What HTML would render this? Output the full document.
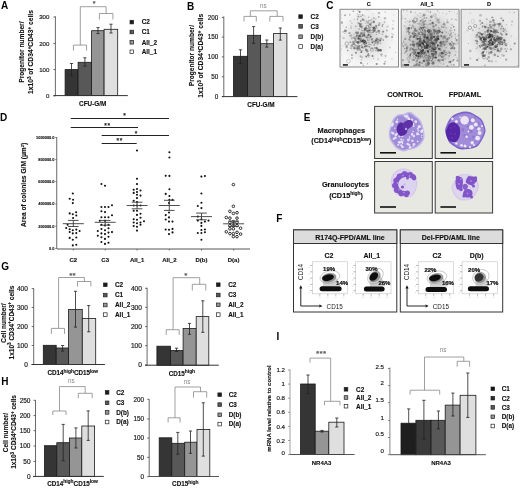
<!DOCTYPE html>
<html><head><meta charset="utf-8"><style>
html,body{margin:0;padding:0;background:#fff;overflow:hidden;}
svg{display:block;font-family:"Liberation Sans", sans-serif;will-change:transform;}
</style></head><body>
<svg width="520" height="488" viewBox="0 0 520 488">
<rect width="520" height="488" fill="#fff"/>
<text x="1.00" y="9.30" font-size="10" font-weight="bold" text-anchor="start" fill="#000" >A</text>
<line x1="55.40" y1="16.30" x2="55.40" y2="95.50" stroke="#444" stroke-width="0.8"/>
<line x1="53.40" y1="17.00" x2="55.40" y2="17.00" stroke="#444" stroke-width="0.8"/>
<text x="49.40" y="19.20" font-size="6.1" font-weight="normal" text-anchor="end" fill="#1a1a1a" stroke="#1a1a1a" stroke-width="0.18">300</text>
<line x1="53.40" y1="43.40" x2="55.40" y2="43.40" stroke="#444" stroke-width="0.8"/>
<text x="49.40" y="45.60" font-size="6.1" font-weight="normal" text-anchor="end" fill="#1a1a1a" stroke="#1a1a1a" stroke-width="0.18">200</text>
<line x1="53.40" y1="69.60" x2="55.40" y2="69.60" stroke="#444" stroke-width="0.8"/>
<text x="49.40" y="71.80" font-size="6.1" font-weight="normal" text-anchor="end" fill="#1a1a1a" stroke="#1a1a1a" stroke-width="0.18">100</text>
<line x1="53.40" y1="95.90" x2="55.40" y2="95.90" stroke="#444" stroke-width="0.8"/>
<text x="49.40" y="98.10" font-size="6.1" font-weight="normal" text-anchor="end" fill="#1a1a1a" stroke="#1a1a1a" stroke-width="0.18">0</text>
<rect x="65.10" y="69.60" width="13.00" height="25.90" fill="#353535" stroke="#1a1a1a" stroke-width="0.8"/>
<rect x="78.10" y="62.30" width="13.50" height="33.20" fill="#585858" stroke="#1a1a1a" stroke-width="0.8"/>
<rect x="91.60" y="30.70" width="12.50" height="64.80" fill="#959595" stroke="#1a1a1a" stroke-width="0.8"/>
<rect x="104.10" y="29.30" width="13.60" height="66.20" fill="#dfdfdf" stroke="#1a1a1a" stroke-width="0.8"/>
<line x1="53.50" y1="95.60" x2="127.80" y2="95.60" stroke="#333" stroke-width="1"/>
<line x1="71.50" y1="63.50" x2="71.50" y2="75.60" stroke="#222" stroke-width="0.8"/>
<line x1="69.90" y1="63.50" x2="73.10" y2="63.50" stroke="#222" stroke-width="0.8"/>
<line x1="69.90" y1="75.60" x2="73.10" y2="75.60" stroke="#222" stroke-width="0.8"/>
<line x1="84.90" y1="57.80" x2="84.90" y2="66.20" stroke="#222" stroke-width="0.8"/>
<line x1="83.30" y1="57.80" x2="86.50" y2="57.80" stroke="#222" stroke-width="0.8"/>
<line x1="83.30" y1="66.20" x2="86.50" y2="66.20" stroke="#222" stroke-width="0.8"/>
<line x1="98.00" y1="27.60" x2="98.00" y2="33.60" stroke="#222" stroke-width="0.8"/>
<line x1="96.40" y1="27.60" x2="99.60" y2="27.60" stroke="#222" stroke-width="0.8"/>
<line x1="96.40" y1="33.60" x2="99.60" y2="33.60" stroke="#222" stroke-width="0.8"/>
<line x1="111.00" y1="24.20" x2="111.00" y2="33.00" stroke="#222" stroke-width="0.8"/>
<line x1="109.40" y1="24.20" x2="112.60" y2="24.20" stroke="#222" stroke-width="0.8"/>
<line x1="109.40" y1="33.00" x2="112.60" y2="33.00" stroke="#222" stroke-width="0.8"/>
<line x1="80.30" y1="6.70" x2="106.10" y2="6.70" stroke="#888" stroke-width="0.8"/>
<line x1="80.30" y1="6.70" x2="80.30" y2="45.10" stroke="#888" stroke-width="0.8"/>
<line x1="106.10" y1="6.70" x2="106.10" y2="13.50" stroke="#888" stroke-width="0.8"/>
<polyline points="73.40,50.50 73.40,45.10 86.60,45.10 86.60,50.50" fill="none" stroke="#888" stroke-width="0.8"/>
<polyline points="99.40,19.50 99.40,13.50 112.90,13.50 112.90,19.50" fill="none" stroke="#888" stroke-width="0.8"/>
<text x="94.10" y="6.47" font-size="7" font-weight="bold" text-anchor="middle" fill="#555"  stroke="#555" stroke-width="0.12">*</text>
<rect x="130.00" y="20.30" width="3.60" height="3.60" fill="#1c1c1c" stroke="#222" stroke-width="0.7"/>
<text x="141.70" y="24.40" font-size="6.4" font-weight="bold" text-anchor="start" fill="#111"  stroke="#111" stroke-width="0.12">C2</text>
<rect x="130.00" y="30.20" width="3.60" height="3.60" fill="#585858" stroke="#222" stroke-width="0.7"/>
<text x="141.70" y="34.30" font-size="6.4" font-weight="bold" text-anchor="start" fill="#111"  stroke="#111" stroke-width="0.12">C1</text>
<rect x="130.00" y="40.50" width="3.60" height="3.60" fill="#959595" stroke="#222" stroke-width="0.7"/>
<text x="141.70" y="44.60" font-size="6.4" font-weight="bold" text-anchor="start" fill="#111"  stroke="#111" stroke-width="0.12">All_2</text>
<rect x="130.00" y="50.00" width="3.60" height="3.60" fill="#fff" stroke="#222" stroke-width="0.7"/>
<text x="141.70" y="54.10" font-size="6.4" font-weight="bold" text-anchor="start" fill="#111"  stroke="#111" stroke-width="0.12">All_1</text>
<text x="92.70" y="106.30" font-size="6.4" font-weight="bold" text-anchor="middle" fill="#111"  stroke="#111" stroke-width="0.12">CFU-G/M</text>
<text x="0" y="0" font-size="6.6" font-weight="bold" text-anchor="middle" fill="#111" stroke="#111" stroke-width="0.12" transform="translate(23.88,52.10) rotate(-90)">Progenitor number/</text>
<text x="0" y="0" font-size="6.7" font-weight="bold" text-anchor="middle" fill="#111" stroke="#111" stroke-width="0.12" transform="translate(33.21,52.05) rotate(-90)">1x10<tspan font-size="4.6" dy="-2.4">3</tspan><tspan dy="2.4"> of CD34</tspan><tspan font-size="4.6" dy="-2.4">+</tspan><tspan dy="2.4">CD43</tspan><tspan font-size="4.6" dy="-2.4">+</tspan><tspan dy="2.4"> cells</tspan></text>
<text x="186.90" y="9.60" font-size="10" font-weight="bold" text-anchor="start" fill="#000" >B</text>
<line x1="223.80" y1="16.40" x2="223.80" y2="96.60" stroke="#444" stroke-width="0.8"/>
<line x1="221.80" y1="17.40" x2="223.80" y2="17.40" stroke="#444" stroke-width="0.8"/>
<text x="218.30" y="19.67" font-size="6.3" font-weight="normal" text-anchor="end" fill="#1a1a1a" stroke="#1a1a1a" stroke-width="0.18">200</text>
<line x1="221.80" y1="37.10" x2="223.80" y2="37.10" stroke="#444" stroke-width="0.8"/>
<text x="218.30" y="39.37" font-size="6.3" font-weight="normal" text-anchor="end" fill="#1a1a1a" stroke="#1a1a1a" stroke-width="0.18">150</text>
<line x1="221.80" y1="56.90" x2="223.80" y2="56.90" stroke="#444" stroke-width="0.8"/>
<text x="218.30" y="59.17" font-size="6.3" font-weight="normal" text-anchor="end" fill="#1a1a1a" stroke="#1a1a1a" stroke-width="0.18">100</text>
<line x1="221.80" y1="76.80" x2="223.80" y2="76.80" stroke="#444" stroke-width="0.8"/>
<text x="218.30" y="79.07" font-size="6.3" font-weight="normal" text-anchor="end" fill="#1a1a1a" stroke="#1a1a1a" stroke-width="0.18">50</text>
<line x1="221.80" y1="96.60" x2="223.80" y2="96.60" stroke="#444" stroke-width="0.8"/>
<text x="218.30" y="98.87" font-size="6.3" font-weight="normal" text-anchor="end" fill="#1a1a1a" stroke="#1a1a1a" stroke-width="0.18">0</text>
<rect x="233.50" y="56.30" width="14.10" height="40.20" fill="#353535" stroke="#1a1a1a" stroke-width="0.8"/>
<rect x="247.60" y="35.30" width="13.00" height="61.20" fill="#585858" stroke="#1a1a1a" stroke-width="0.8"/>
<rect x="260.60" y="43.70" width="13.00" height="52.80" fill="#959595" stroke="#1a1a1a" stroke-width="0.8"/>
<rect x="273.60" y="33.40" width="13.30" height="63.10" fill="#dfdfdf" stroke="#1a1a1a" stroke-width="0.8"/>
<line x1="222.00" y1="96.60" x2="297.40" y2="96.60" stroke="#333" stroke-width="1"/>
<line x1="240.50" y1="49.80" x2="240.50" y2="63.50" stroke="#222" stroke-width="0.8"/>
<line x1="238.90" y1="49.80" x2="242.10" y2="49.80" stroke="#222" stroke-width="0.8"/>
<line x1="238.90" y1="63.50" x2="242.10" y2="63.50" stroke="#222" stroke-width="0.8"/>
<line x1="253.60" y1="26.60" x2="253.60" y2="43.30" stroke="#222" stroke-width="0.8"/>
<line x1="252.00" y1="26.60" x2="255.20" y2="26.60" stroke="#222" stroke-width="0.8"/>
<line x1="252.00" y1="43.30" x2="255.20" y2="43.30" stroke="#222" stroke-width="0.8"/>
<line x1="266.80" y1="40.00" x2="266.80" y2="47.10" stroke="#222" stroke-width="0.8"/>
<line x1="265.20" y1="40.00" x2="268.40" y2="40.00" stroke="#222" stroke-width="0.8"/>
<line x1="265.20" y1="47.10" x2="268.40" y2="47.10" stroke="#222" stroke-width="0.8"/>
<line x1="280.30" y1="28.00" x2="280.30" y2="40.10" stroke="#222" stroke-width="0.8"/>
<line x1="278.70" y1="28.00" x2="281.90" y2="28.00" stroke="#222" stroke-width="0.8"/>
<line x1="278.70" y1="40.10" x2="281.90" y2="40.10" stroke="#222" stroke-width="0.8"/>
<line x1="250.30" y1="10.80" x2="277.20" y2="10.80" stroke="#888" stroke-width="0.8"/>
<line x1="250.30" y1="10.80" x2="250.30" y2="16.40" stroke="#888" stroke-width="0.8"/>
<line x1="277.20" y1="10.80" x2="277.20" y2="16.40" stroke="#888" stroke-width="0.8"/>
<polyline points="244.00,21.50 244.00,16.40 256.30,16.40 256.30,21.50" fill="none" stroke="#888" stroke-width="0.8"/>
<polyline points="269.80,21.50 269.80,16.40 283.00,16.40 283.00,21.50" fill="none" stroke="#888" stroke-width="0.8"/>
<text x="263.40" y="8.19" font-size="6.3" font-weight="normal" text-anchor="middle" fill="#888" >ns</text>
<rect x="298.80" y="14.80" width="3.60" height="3.60" fill="#1c1c1c" stroke="#222" stroke-width="0.7"/>
<text x="310.60" y="18.90" font-size="6.4" font-weight="bold" text-anchor="start" fill="#111"  stroke="#111" stroke-width="0.12">C2</text>
<rect x="298.80" y="24.60" width="3.60" height="3.60" fill="#585858" stroke="#222" stroke-width="0.7"/>
<text x="310.60" y="28.70" font-size="6.4" font-weight="bold" text-anchor="start" fill="#111"  stroke="#111" stroke-width="0.12">C3</text>
<rect x="298.80" y="34.90" width="3.60" height="3.60" fill="#959595" stroke="#222" stroke-width="0.7"/>
<text x="310.60" y="39.00" font-size="6.4" font-weight="bold" text-anchor="start" fill="#111"  stroke="#111" stroke-width="0.12">D(b)</text>
<rect x="298.80" y="44.70" width="3.60" height="3.60" fill="#fff" stroke="#222" stroke-width="0.7"/>
<text x="310.60" y="48.80" font-size="6.4" font-weight="bold" text-anchor="start" fill="#111"  stroke="#111" stroke-width="0.12">D(a)</text>
<text x="261.00" y="107.30" font-size="6.4" font-weight="bold" text-anchor="middle" fill="#111"  stroke="#111" stroke-width="0.12">CFU-G/M</text>
<text x="0" y="0" font-size="6.6" font-weight="bold" text-anchor="middle" fill="#111" stroke="#111" stroke-width="0.12" transform="translate(193.68,55.60) rotate(-90)">Progenitor number/</text>
<text x="0" y="0" font-size="6.7" font-weight="bold" text-anchor="middle" fill="#111" stroke="#111" stroke-width="0.12" transform="translate(202.91,55.80) rotate(-90)">1x10<tspan font-size="4.6" dy="-2.4">3</tspan><tspan dy="2.4"> of CD34</tspan><tspan font-size="4.6" dy="-2.4">+</tspan><tspan dy="2.4">CD43</tspan><tspan font-size="4.6" dy="-2.4">+</tspan><tspan dy="2.4"> cells</tspan></text>
<text x="326.20" y="9.10" font-size="10" font-weight="bold" text-anchor="start" fill="#000" >C</text>
<filter id="bl" x="-5%" y="-5%" width="110%" height="110%"><feGaussianBlur stdDeviation="0.5"/></filter>
<rect x="340" y="9.3" width="58.5" height="57.7" fill="#f5f5f5" stroke="#888" stroke-width="1"/>
<clipPath id="cp11"><rect x="340.5" y="9.8" width="57.5" height="56.7"/></clipPath><g clip-path="url(#cp11)" filter="url(#bl)">
<radialGradient id="rg11"><stop offset="0" stop-color="#888" stop-opacity="0.35"/><stop offset="1" stop-color="#888" stop-opacity="0"/></radialGradient>
<ellipse cx="366.5" cy="37.5" rx="27.599999999999998" ry="27.599999999999998" fill="url(#rg11)"/>
<circle cx="366.6" cy="41.5" r="0.7" fill="rgb(179,179,179)" opacity="0.64"/>
<circle cx="351.7" cy="55.1" r="0.8" fill="rgb(180,180,180)" opacity="0.62"/>
<circle cx="346.3" cy="27.2" r="0.7" fill="rgb(131,131,131)" opacity="0.66"/>
<circle cx="376.8" cy="43.5" r="1.0" fill="rgb(170,170,170)" opacity="0.56"/>
<circle cx="375.8" cy="19.1" r="0.9" fill="rgb(121,121,121)" opacity="0.33"/>
<circle cx="343.0" cy="59.3" r="0.4" fill="rgb(196,196,196)" opacity="0.49"/>
<circle cx="365.9" cy="57.2" r="0.5" fill="rgb(186,186,186)" opacity="0.42"/>
<circle cx="341.3" cy="15.0" r="0.6" fill="rgb(155,155,155)" opacity="0.52"/>
<circle cx="393.6" cy="14.9" r="0.6" fill="rgb(152,152,152)" opacity="0.39"/>
<circle cx="357.3" cy="14.2" r="0.6" fill="rgb(133,133,133)" opacity="0.64"/>
<circle cx="362.8" cy="63.7" r="0.5" fill="rgb(120,120,120)" opacity="0.67"/>
<circle cx="344.0" cy="31.2" r="0.7" fill="rgb(170,170,170)" opacity="0.53"/>
<circle cx="352.2" cy="47.9" r="0.5" fill="rgb(163,163,163)" opacity="0.43"/>
<circle cx="395.5" cy="52.5" r="0.5" fill="rgb(135,135,135)" opacity="0.58"/>
<circle cx="341.6" cy="36.2" r="0.5" fill="rgb(182,182,182)" opacity="0.52"/>
<circle cx="366.3" cy="20.9" r="0.7" fill="rgb(136,136,136)" opacity="0.45"/>
<circle cx="363.3" cy="65.4" r="0.6" fill="rgb(120,120,120)" opacity="0.69"/>
<circle cx="386.4" cy="27.2" r="0.5" fill="rgb(122,122,122)" opacity="0.46"/>
<circle cx="389.3" cy="46.1" r="0.4" fill="rgb(132,132,132)" opacity="0.36"/>
<circle cx="365.9" cy="10.8" r="0.6" fill="rgb(198,198,198)" opacity="0.42"/>
<circle cx="345.1" cy="15.3" r="0.8" fill="rgb(194,194,194)" opacity="0.31"/>
<circle cx="361.8" cy="45.0" r="1.0" fill="rgb(136,136,136)" opacity="0.49"/>
<circle cx="373.5" cy="58.6" r="0.8" fill="rgb(143,143,143)" opacity="0.42"/>
<circle cx="353.9" cy="44.3" r="0.5" fill="rgb(144,144,144)" opacity="0.55"/>
<circle cx="372.3" cy="48.6" r="0.9" fill="rgb(169,169,169)" opacity="0.54"/>
<circle cx="364.8" cy="16.1" r="0.7" fill="rgb(124,124,124)" opacity="0.40"/>
<circle cx="382.8" cy="32.1" r="0.9" fill="rgb(173,173,173)" opacity="0.54"/>
<circle cx="357.6" cy="20.1" r="0.5" fill="rgb(128,128,128)" opacity="0.49"/>
<circle cx="377.9" cy="44.6" r="0.6" fill="rgb(129,129,129)" opacity="0.67"/>
<circle cx="352.5" cy="11.2" r="0.6" fill="rgb(154,154,154)" opacity="0.40"/>
<circle cx="343.6" cy="26.0" r="0.7" fill="rgb(187,187,187)" opacity="0.35"/>
<circle cx="361.5" cy="59.9" r="0.8" fill="rgb(162,162,162)" opacity="0.58"/>
<circle cx="374.0" cy="18.1" r="1.0" fill="rgb(124,124,124)" opacity="0.49"/>
<circle cx="361.2" cy="27.7" r="0.4" fill="rgb(124,124,124)" opacity="0.55"/>
<circle cx="368.2" cy="51.0" r="0.5" fill="rgb(160,160,160)" opacity="0.33"/>
<circle cx="366.6" cy="30.8" r="0.9" fill="rgb(125,125,125)" opacity="0.59"/>
<circle cx="380.8" cy="54.5" r="0.6" fill="rgb(163,163,163)" opacity="0.57"/>
<circle cx="391.9" cy="58.8" r="1.0" fill="rgb(173,173,173)" opacity="0.31"/>
<circle cx="369.2" cy="11.1" r="0.6" fill="rgb(168,168,168)" opacity="0.30"/>
<circle cx="345.1" cy="15.3" r="1.0" fill="rgb(134,134,134)" opacity="0.65"/>
<circle cx="382.1" cy="31.9" r="0.7" fill="rgb(194,194,194)" opacity="0.49"/>
<circle cx="371.6" cy="39.2" r="0.4" fill="rgb(185,185,185)" opacity="0.54"/>
<circle cx="368.2" cy="23.1" r="0.7" fill="rgb(134,134,134)" opacity="0.55"/>
<circle cx="393.0" cy="24.5" r="0.6" fill="rgb(121,121,121)" opacity="0.36"/>
<circle cx="375.6" cy="39.2" r="0.8" fill="rgb(163,163,163)" opacity="0.48"/>
<circle cx="374.8" cy="30.8" r="0.9" fill="rgb(88,88,88)" opacity="0.75"/>
<circle cx="359.6" cy="46.1" r="1.0" fill="rgb(79,79,79)" opacity="0.51"/>
<circle cx="343.6" cy="38.0" r="1.3" fill="rgb(164,164,164)" opacity="0.49"/>
<circle cx="351.1" cy="28.3" r="0.7" fill="rgb(129,129,129)" opacity="0.56"/>
<circle cx="356.1" cy="37.9" r="1.5" fill="none" stroke="rgb(143,143,143)" stroke-width="0.6" opacity="0.39"/>
<circle cx="337.7" cy="39.9" r="1.1" fill="rgb(150,150,150)" opacity="0.64"/>
<circle cx="367.1" cy="35.2" r="0.5" fill="rgb(94,94,94)" opacity="0.76"/>
<circle cx="376.5" cy="39.9" r="1.0" fill="rgb(104,104,104)" opacity="0.57"/>
<circle cx="354.3" cy="19.5" r="0.7" fill="rgb(177,177,177)" opacity="0.59"/>
<circle cx="361.8" cy="51.0" r="1.1" fill="rgb(112,112,112)" opacity="0.44"/>
<circle cx="356.0" cy="52.8" r="1.1" fill="rgb(82,82,82)" opacity="0.55"/>
<circle cx="364.4" cy="41.8" r="1.3" fill="rgb(72,72,72)" opacity="0.71"/>
<circle cx="350.4" cy="42.3" r="1.0" fill="rgb(142,142,142)" opacity="0.79"/>
<circle cx="360.2" cy="50.1" r="1.1" fill="rgb(98,98,98)" opacity="0.45"/>
<circle cx="373.7" cy="21.9" r="1.3" fill="rgb(115,115,115)" opacity="0.84"/>
<circle cx="358.4" cy="16.8" r="0.8" fill="rgb(123,123,123)" opacity="0.80"/>
<circle cx="363.6" cy="41.6" r="1.8" fill="none" stroke="rgb(45,45,45)" stroke-width="0.6" opacity="0.59"/>
<circle cx="372.0" cy="39.1" r="1.2" fill="rgb(72,72,72)" opacity="0.44"/>
<circle cx="368.1" cy="31.1" r="1.1" fill="rgb(107,107,107)" opacity="0.77"/>
<circle cx="378.1" cy="50.7" r="1.3" fill="rgb(108,108,108)" opacity="0.39"/>
<circle cx="356.7" cy="35.8" r="0.9" fill="rgb(90,90,90)" opacity="0.77"/>
<circle cx="349.5" cy="33.1" r="1.2" fill="rgb(147,147,147)" opacity="0.80"/>
<circle cx="385.2" cy="12.1" r="0.7" fill="rgb(126,126,126)" opacity="0.62"/>
<circle cx="364.1" cy="35.3" r="1.3" fill="rgb(70,70,70)" opacity="0.61"/>
<circle cx="371.4" cy="22.9" r="0.6" fill="rgb(67,67,67)" opacity="0.62"/>
<circle cx="367.5" cy="63.7" r="0.7" fill="rgb(129,129,129)" opacity="0.59"/>
<circle cx="346.3" cy="46.4" r="0.8" fill="rgb(162,162,162)" opacity="0.45"/>
<circle cx="358.5" cy="43.1" r="1.2" fill="rgb(88,88,88)" opacity="0.36"/>
<circle cx="369.1" cy="55.6" r="1.0" fill="rgb(110,110,110)" opacity="0.40"/>
<circle cx="376.6" cy="47.8" r="0.7" fill="rgb(135,135,135)" opacity="0.45"/>
<circle cx="355.8" cy="42.0" r="0.6" fill="rgb(70,70,70)" opacity="0.45"/>
<circle cx="374.1" cy="28.0" r="1.2" fill="rgb(75,75,75)" opacity="0.66"/>
<circle cx="368.6" cy="57.1" r="0.8" fill="rgb(151,151,151)" opacity="0.51"/>
<circle cx="342.4" cy="46.0" r="1.3" fill="rgb(215,215,215)" opacity="0.42"/>
<circle cx="365.1" cy="28.3" r="0.9" fill="rgb(140,140,140)" opacity="0.74"/>
<circle cx="379.5" cy="22.6" r="0.5" fill="rgb(153,153,153)" opacity="0.45"/>
<circle cx="393.3" cy="20.8" r="1.1" fill="rgb(191,191,191)" opacity="0.60"/>
<circle cx="375.9" cy="39.2" r="0.6" fill="rgb(106,106,106)" opacity="0.37"/>
<circle cx="351.0" cy="36.1" r="0.7" fill="rgb(125,125,125)" opacity="0.77"/>
<circle cx="372.6" cy="42.3" r="0.6" fill="rgb(83,83,83)" opacity="0.83"/>
<circle cx="367.5" cy="26.9" r="1.5" fill="none" stroke="rgb(63,63,63)" stroke-width="0.6" opacity="0.65"/>
<circle cx="369.5" cy="30.5" r="0.7" fill="rgb(33,33,33)" opacity="0.58"/>
<circle cx="360.0" cy="41.9" r="0.5" fill="rgb(108,108,108)" opacity="0.80"/>
<circle cx="378.9" cy="30.8" r="1.0" fill="rgb(52,52,52)" opacity="0.55"/>
<circle cx="332.3" cy="36.6" r="1.3" fill="rgb(181,181,181)" opacity="0.72"/>
<circle cx="357.8" cy="42.3" r="1.3" fill="rgb(68,68,68)" opacity="0.79"/>
<circle cx="368.7" cy="17.2" r="0.6" fill="rgb(89,89,89)" opacity="0.52"/>
<circle cx="377.2" cy="48.7" r="1.0" fill="rgb(116,116,116)" opacity="0.66"/>
<circle cx="383.2" cy="31.4" r="1.0" fill="rgb(98,98,98)" opacity="0.62"/>
<circle cx="381.5" cy="54.7" r="1.1" fill="rgb(137,137,137)" opacity="0.73"/>
<circle cx="382.9" cy="39.9" r="0.8" fill="rgb(115,115,115)" opacity="0.38"/>
<circle cx="357.3" cy="33.6" r="0.7" fill="rgb(106,106,106)" opacity="0.80"/>
<circle cx="335.2" cy="36.0" r="1.0" fill="rgb(75,75,75)" opacity="0.75"/>
<circle cx="350.3" cy="20.9" r="0.5" fill="rgb(109,109,109)" opacity="0.82"/>
<circle cx="359.3" cy="38.8" r="0.5" fill="rgb(46,46,46)" opacity="0.82"/>
<circle cx="367.0" cy="21.5" r="0.8" fill="rgb(108,108,108)" opacity="0.49"/>
<circle cx="357.4" cy="33.9" r="1.1" fill="none" stroke="rgb(90,90,90)" stroke-width="0.6" opacity="0.47"/>
<circle cx="356.7" cy="48.6" r="0.8" fill="rgb(153,153,153)" opacity="0.80"/>
<circle cx="400.7" cy="48.6" r="1.3" fill="rgb(189,189,189)" opacity="0.56"/>
<circle cx="364.9" cy="46.3" r="0.9" fill="rgb(89,89,89)" opacity="0.82"/>
<circle cx="333.8" cy="44.1" r="0.6" fill="rgb(187,187,187)" opacity="0.66"/>
<circle cx="351.6" cy="38.6" r="0.9" fill="rgb(121,121,121)" opacity="0.41"/>
<circle cx="360.0" cy="26.0" r="0.9" fill="rgb(103,103,103)" opacity="0.74"/>
<circle cx="382.3" cy="67.1" r="1.1" fill="rgb(170,170,170)" opacity="0.47"/>
<circle cx="382.9" cy="24.4" r="0.7" fill="rgb(111,111,111)" opacity="0.69"/>
<circle cx="358.5" cy="23.2" r="1.1" fill="rgb(93,93,93)" opacity="0.44"/>
<circle cx="393.0" cy="34.1" r="0.6" fill="rgb(155,155,155)" opacity="0.49"/>
<circle cx="364.1" cy="33.5" r="1.0" fill="rgb(69,69,69)" opacity="0.39"/>
<circle cx="359.7" cy="23.9" r="0.9" fill="rgb(93,93,93)" opacity="0.46"/>
<circle cx="358.0" cy="36.8" r="0.6" fill="rgb(34,34,34)" opacity="0.41"/>
<circle cx="351.9" cy="23.1" r="0.7" fill="rgb(137,137,137)" opacity="0.75"/>
<circle cx="378.8" cy="17.0" r="0.8" fill="rgb(66,66,66)" opacity="0.62"/>
<circle cx="377.6" cy="31.5" r="1.2" fill="rgb(95,95,95)" opacity="0.39"/>
<circle cx="370.5" cy="24.8" r="1.1" fill="rgb(93,93,93)" opacity="0.50"/>
<circle cx="373.9" cy="41.3" r="0.8" fill="rgb(84,84,84)" opacity="0.71"/>
<circle cx="362.3" cy="36.1" r="0.8" fill="rgb(95,95,95)" opacity="0.71"/>
<circle cx="380.5" cy="50.2" r="1.3" fill="rgb(63,63,63)" opacity="0.81"/>
<circle cx="355.2" cy="40.8" r="0.8" fill="rgb(78,78,78)" opacity="0.55"/>
<circle cx="373.7" cy="31.9" r="0.8" fill="rgb(75,75,75)" opacity="0.55"/>
<circle cx="375.2" cy="42.7" r="1.2" fill="rgb(133,133,133)" opacity="0.62"/>
<circle cx="359.6" cy="34.6" r="0.7" fill="rgb(92,92,92)" opacity="0.36"/>
<circle cx="341.8" cy="22.6" r="1.3" fill="rgb(145,145,145)" opacity="0.68"/>
<circle cx="380.4" cy="43.4" r="0.6" fill="rgb(115,115,115)" opacity="0.72"/>
<circle cx="361.6" cy="52.2" r="0.6" fill="rgb(135,135,135)" opacity="0.72"/>
<circle cx="366.7" cy="46.0" r="1.2" fill="rgb(95,95,95)" opacity="0.55"/>
<circle cx="352.0" cy="55.1" r="0.9" fill="rgb(128,128,128)" opacity="0.62"/>
<circle cx="359.6" cy="11.8" r="1.1" fill="rgb(101,101,101)" opacity="0.78"/>
<circle cx="378.5" cy="50.1" r="1.3" fill="rgb(65,65,65)" opacity="0.67"/>
<circle cx="361.1" cy="16.6" r="0.6" fill="rgb(105,105,105)" opacity="0.72"/>
<circle cx="372.4" cy="32.3" r="0.7" fill="rgb(102,102,102)" opacity="0.56"/>
<circle cx="370.6" cy="36.7" r="1.1" fill="rgb(72,72,72)" opacity="0.74"/>
<circle cx="372.0" cy="49.8" r="1.6" fill="none" stroke="rgb(120,120,120)" stroke-width="0.6" opacity="0.80"/>
<circle cx="372.4" cy="42.3" r="1.1" fill="rgb(93,93,93)" opacity="0.65"/>
<circle cx="375.1" cy="41.4" r="0.6" fill="rgb(117,117,117)" opacity="0.73"/>
<circle cx="345.4" cy="30.9" r="1.3" fill="rgb(111,111,111)" opacity="0.81"/>
<circle cx="367.7" cy="8.7" r="1.5" fill="none" stroke="rgb(134,134,134)" stroke-width="0.6" opacity="0.46"/>
<circle cx="386.9" cy="30.5" r="0.9" fill="rgb(105,105,105)" opacity="0.49"/>
<circle cx="376.2" cy="32.6" r="0.5" fill="rgb(80,80,80)" opacity="0.59"/>
<circle cx="372.0" cy="19.3" r="0.6" fill="rgb(111,111,111)" opacity="0.51"/>
<circle cx="362.2" cy="47.3" r="1.0" fill="rgb(72,72,72)" opacity="0.85"/>
<circle cx="359.8" cy="36.0" r="1.2" fill="rgb(86,86,86)" opacity="0.77"/>
<circle cx="365.9" cy="45.8" r="1.1" fill="rgb(103,103,103)" opacity="0.40"/>
<circle cx="337.1" cy="43.4" r="0.8" fill="rgb(109,109,109)" opacity="0.74"/>
<circle cx="354.2" cy="42.0" r="1.2" fill="rgb(99,99,99)" opacity="0.45"/>
<circle cx="359.6" cy="36.4" r="0.8" fill="rgb(100,100,100)" opacity="0.39"/>
<circle cx="357.5" cy="18.9" r="0.8" fill="rgb(140,140,140)" opacity="0.69"/>
<circle cx="356.0" cy="45.7" r="1.1" fill="rgb(162,162,162)" opacity="0.36"/>
<circle cx="361.8" cy="35.3" r="1.6" fill="none" stroke="rgb(59,59,59)" stroke-width="0.6" opacity="0.58"/>
<circle cx="388.0" cy="36.4" r="0.7" fill="rgb(144,144,144)" opacity="0.54"/>
<circle cx="382.5" cy="34.3" r="0.8" fill="rgb(142,142,142)" opacity="0.68"/>
<circle cx="372.5" cy="56.0" r="1.0" fill="rgb(92,92,92)" opacity="0.71"/>
<circle cx="391.9" cy="40.0" r="0.6" fill="rgb(134,134,134)" opacity="0.40"/>
<circle cx="364.5" cy="30.2" r="1.0" fill="rgb(42,42,42)" opacity="0.40"/>
<circle cx="379.7" cy="40.9" r="0.8" fill="rgb(120,120,120)" opacity="0.39"/>
<circle cx="353.6" cy="43.9" r="1.2" fill="rgb(79,79,79)" opacity="0.54"/>
<circle cx="350.1" cy="35.7" r="0.8" fill="rgb(119,119,119)" opacity="0.70"/>
<circle cx="370.8" cy="20.4" r="0.8" fill="rgb(116,116,116)" opacity="0.52"/>
<circle cx="365.0" cy="46.7" r="0.9" fill="rgb(112,112,112)" opacity="0.74"/>
<circle cx="361.1" cy="33.0" r="1.0" fill="rgb(94,94,94)" opacity="0.53"/>
<circle cx="340.7" cy="49.4" r="1.3" fill="rgb(191,191,191)" opacity="0.61"/>
<circle cx="370.6" cy="30.7" r="0.7" fill="rgb(129,129,129)" opacity="0.39"/>
<circle cx="360.8" cy="21.1" r="0.8" fill="rgb(98,98,98)" opacity="0.81"/>
<circle cx="360.5" cy="38.9" r="1.3" fill="rgb(100,100,100)" opacity="0.62"/>
<circle cx="365.4" cy="28.8" r="1.3" fill="rgb(84,84,84)" opacity="0.85"/>
<circle cx="361.6" cy="33.8" r="1.3" fill="rgb(95,95,95)" opacity="0.47"/>
<circle cx="357.7" cy="41.2" r="1.6" fill="none" stroke="rgb(78,78,78)" stroke-width="0.6" opacity="0.39"/>
<circle cx="381.5" cy="69.5" r="0.8" fill="rgb(215,215,215)" opacity="0.69"/>
<circle cx="360.0" cy="25.7" r="1.2" fill="rgb(134,134,134)" opacity="0.36"/>
<circle cx="360.0" cy="38.8" r="0.6" fill="rgb(56,56,56)" opacity="0.61"/>
<circle cx="376.7" cy="27.7" r="1.0" fill="rgb(98,98,98)" opacity="0.37"/>
<circle cx="385.2" cy="61.5" r="0.8" fill="rgb(133,133,133)" opacity="0.66"/>
<circle cx="358.5" cy="38.5" r="0.9" fill="rgb(40,40,40)" opacity="0.85"/>
<circle cx="374.0" cy="27.8" r="1.3" fill="rgb(68,68,68)" opacity="0.61"/>
<circle cx="372.8" cy="13.8" r="0.8" fill="rgb(169,169,169)" opacity="0.38"/>
<circle cx="382.3" cy="26.1" r="0.8" fill="rgb(85,85,85)" opacity="0.65"/>
<circle cx="355.0" cy="46.8" r="1.5" fill="none" stroke="rgb(134,134,134)" stroke-width="0.6" opacity="0.55"/>
<circle cx="361.5" cy="23.7" r="0.8" fill="rgb(113,113,113)" opacity="0.47"/>
<circle cx="376.7" cy="64.0" r="1.1" fill="rgb(113,113,113)" opacity="0.78"/>
<circle cx="369.4" cy="29.5" r="1.3" fill="rgb(91,91,91)" opacity="0.40"/>
<circle cx="351.0" cy="48.1" r="1.3" fill="rgb(150,150,150)" opacity="0.35"/>
<circle cx="363.3" cy="47.6" r="1.2" fill="rgb(157,157,157)" opacity="0.55"/>
<circle cx="376.3" cy="34.3" r="0.5" fill="rgb(92,92,92)" opacity="0.80"/>
<circle cx="338.5" cy="37.8" r="0.7" fill="rgb(187,187,187)" opacity="0.50"/>
<circle cx="364.6" cy="43.8" r="1.2" fill="rgb(73,73,73)" opacity="0.53"/>
<circle cx="378.1" cy="59.3" r="1.0" fill="rgb(163,163,163)" opacity="0.45"/>
<circle cx="366.3" cy="42.9" r="1.1" fill="rgb(86,86,86)" opacity="0.51"/>
<circle cx="379.4" cy="23.6" r="1.3" fill="rgb(155,155,155)" opacity="0.57"/>
<circle cx="380.4" cy="39.2" r="1.1" fill="rgb(134,134,134)" opacity="0.45"/>
<circle cx="368.1" cy="55.2" r="1.1" fill="rgb(128,128,128)" opacity="0.79"/>
<circle cx="355.3" cy="38.8" r="1.3" fill="rgb(125,125,125)" opacity="0.68"/>
<circle cx="363.2" cy="33.5" r="1.5" fill="none" stroke="rgb(113,113,113)" stroke-width="0.6" opacity="0.62"/>
<circle cx="365.1" cy="29.5" r="0.7" fill="rgb(76,76,76)" opacity="0.75"/>
<circle cx="362.1" cy="57.2" r="1.0" fill="rgb(129,129,129)" opacity="0.44"/>
<circle cx="376.2" cy="40.6" r="0.9" fill="rgb(96,96,96)" opacity="0.73"/>
<circle cx="379.3" cy="31.4" r="1.0" fill="rgb(126,126,126)" opacity="0.53"/>
<circle cx="380.3" cy="40.5" r="0.9" fill="rgb(74,74,74)" opacity="0.77"/>
<circle cx="337.2" cy="33.7" r="0.6" fill="rgb(182,182,182)" opacity="0.65"/>
<circle cx="385.0" cy="18.3" r="1.2" fill="rgb(168,168,168)" opacity="0.75"/>
<circle cx="358.0" cy="38.1" r="0.5" fill="rgb(60,60,60)" opacity="0.65"/>
<circle cx="359.7" cy="15.6" r="1.3" fill="none" stroke="rgb(110,110,110)" stroke-width="0.6" opacity="0.43"/>
<circle cx="353.7" cy="37.8" r="1.2" fill="rgb(83,83,83)" opacity="0.39"/>
<circle cx="369.9" cy="23.9" r="1.2" fill="rgb(93,93,93)" opacity="0.47"/>
<circle cx="365.2" cy="40.8" r="0.9" fill="rgb(59,59,59)" opacity="0.48"/>
<circle cx="381.9" cy="56.4" r="0.6" fill="rgb(171,171,171)" opacity="0.48"/>
<circle cx="358.3" cy="16.4" r="0.8" fill="rgb(139,139,139)" opacity="0.53"/>
<circle cx="362.4" cy="41.0" r="0.9" fill="rgb(80,80,80)" opacity="0.73"/>
<circle cx="374.6" cy="47.9" r="0.7" fill="rgb(106,106,106)" opacity="0.80"/>
<circle cx="363.1" cy="29.6" r="1.5" fill="none" stroke="rgb(107,107,107)" stroke-width="0.6" opacity="0.39"/>
<circle cx="386.9" cy="37.0" r="0.7" fill="rgb(127,127,127)" opacity="0.63"/>
<circle cx="357.9" cy="10.4" r="0.8" fill="rgb(171,171,171)" opacity="0.52"/>
<circle cx="363.9" cy="35.3" r="0.5" fill="rgb(40,40,40)" opacity="0.52"/>
<circle cx="376.4" cy="48.1" r="1.3" fill="rgb(80,80,80)" opacity="0.58"/>
<circle cx="373.0" cy="27.7" r="0.8" fill="rgb(106,106,106)" opacity="0.44"/>
<circle cx="358.3" cy="41.7" r="0.7" fill="rgb(111,111,111)" opacity="0.58"/>
<circle cx="330.6" cy="49.9" r="0.7" fill="rgb(159,159,159)" opacity="0.54"/>
<circle cx="344.9" cy="33.4" r="0.7" fill="rgb(108,108,108)" opacity="0.36"/>
<circle cx="365.6" cy="49.5" r="0.7" fill="rgb(145,145,145)" opacity="0.53"/>
<circle cx="357.7" cy="47.9" r="1.2" fill="rgb(97,97,97)" opacity="0.71"/>
<circle cx="377.0" cy="38.9" r="1.3" fill="rgb(89,89,89)" opacity="0.51"/>
<circle cx="369.8" cy="33.5" r="1.4" fill="none" stroke="rgb(80,80,80)" stroke-width="0.6" opacity="0.47"/>
<circle cx="375.9" cy="50.6" r="0.9" fill="rgb(141,141,141)" opacity="0.62"/>
<circle cx="368.6" cy="35.0" r="1.1" fill="rgb(52,52,52)" opacity="0.68"/>
<circle cx="369.2" cy="46.8" r="0.8" fill="rgb(88,88,88)" opacity="0.78"/>
<circle cx="354.6" cy="34.6" r="1.3" fill="none" stroke="rgb(130,130,130)" stroke-width="0.6" opacity="0.37"/>
<circle cx="355.9" cy="26.2" r="0.8" fill="rgb(143,143,143)" opacity="0.69"/>
<circle cx="336.0" cy="41.4" r="1.1" fill="rgb(207,207,207)" opacity="0.83"/>
<circle cx="368.1" cy="54.4" r="0.8" fill="rgb(145,145,145)" opacity="0.38"/>
<circle cx="373.3" cy="30.9" r="0.7" fill="rgb(126,126,126)" opacity="0.43"/>
<circle cx="359.3" cy="38.6" r="0.6" fill="rgb(76,76,76)" opacity="0.52"/>
<circle cx="358.8" cy="46.8" r="1.1" fill="rgb(135,135,135)" opacity="0.63"/>
<circle cx="378.3" cy="39.2" r="0.8" fill="rgb(95,95,95)" opacity="0.38"/>
<circle cx="369.8" cy="25.9" r="1.4" fill="none" stroke="rgb(85,85,85)" stroke-width="0.6" opacity="0.48"/>
<circle cx="352.0" cy="58.2" r="1.1" fill="rgb(123,123,123)" opacity="0.44"/>
<circle cx="362.7" cy="15.1" r="0.8" fill="rgb(87,87,87)" opacity="0.64"/>
<circle cx="368.8" cy="20.8" r="0.9" fill="rgb(96,96,96)" opacity="0.49"/>
<circle cx="358.0" cy="46.1" r="1.3" fill="rgb(83,83,83)" opacity="0.37"/>
<circle cx="356.2" cy="37.0" r="0.6" fill="rgb(44,44,44)" opacity="0.45"/>
<circle cx="391.8" cy="33.8" r="0.5" fill="rgb(126,126,126)" opacity="0.62"/>
<circle cx="367.4" cy="51.5" r="1.0" fill="rgb(87,87,87)" opacity="0.63"/>
<circle cx="354.3" cy="48.1" r="0.8" fill="rgb(111,111,111)" opacity="0.79"/>
<circle cx="362.6" cy="19.4" r="1.2" fill="rgb(93,93,93)" opacity="0.43"/>
<circle cx="338.0" cy="22.1" r="0.8" fill="rgb(169,169,169)" opacity="0.49"/>
<circle cx="357.9" cy="35.6" r="0.7" fill="rgb(93,93,93)" opacity="0.61"/>
<circle cx="377.1" cy="41.7" r="0.6" fill="rgb(105,105,105)" opacity="0.70"/>
<circle cx="346.8" cy="43.7" r="1.8" fill="none" stroke="rgb(112,112,112)" stroke-width="0.6" opacity="0.78"/>
<circle cx="367.4" cy="37.2" r="1.2" fill="rgb(103,103,103)" opacity="0.55"/>
<circle cx="366.3" cy="56.5" r="1.1" fill="rgb(112,112,112)" opacity="0.77"/>
<circle cx="376.1" cy="26.1" r="1.1" fill="rgb(99,99,99)" opacity="0.66"/>
<circle cx="368.5" cy="31.6" r="1.3" fill="none" stroke="rgb(52,52,52)" stroke-width="0.6" opacity="0.44"/>
<circle cx="379.0" cy="13.0" r="1.3" fill="rgb(115,115,115)" opacity="0.42"/>
<circle cx="351.7" cy="45.7" r="1.3" fill="rgb(63,63,63)" opacity="0.37"/>
<circle cx="383.4" cy="40.1" r="0.7" fill="rgb(125,125,125)" opacity="0.72"/>
<circle cx="374.3" cy="44.9" r="0.9" fill="rgb(136,136,136)" opacity="0.54"/>
<circle cx="369.0" cy="44.6" r="0.7" fill="rgb(34,34,34)" opacity="0.55"/>
<circle cx="369.8" cy="3.9" r="1.0" fill="rgb(136,136,136)" opacity="0.75"/>
<circle cx="378.3" cy="40.1" r="1.3" fill="rgb(116,116,116)" opacity="0.48"/>
<circle cx="374.2" cy="44.8" r="0.6" fill="rgb(137,137,137)" opacity="0.66"/>
<circle cx="368.4" cy="39.4" r="1.4" fill="none" stroke="rgb(107,107,107)" stroke-width="0.6" opacity="0.48"/>
<circle cx="389.8" cy="47.5" r="0.7" fill="rgb(140,140,140)" opacity="0.59"/>
<circle cx="371.0" cy="44.6" r="0.9" fill="rgb(149,149,149)" opacity="0.56"/>
<circle cx="363.2" cy="40.0" r="1.0" fill="rgb(36,36,36)" opacity="0.49"/>
<circle cx="361.0" cy="62.9" r="0.9" fill="rgb(74,74,74)" opacity="0.77"/>
<circle cx="367.8" cy="40.0" r="0.6" fill="rgb(81,81,81)" opacity="0.53"/>
<circle cx="371.8" cy="32.2" r="0.5" fill="rgb(122,122,122)" opacity="0.46"/>
<circle cx="381.2" cy="38.5" r="1.1" fill="rgb(131,131,131)" opacity="0.55"/>
<circle cx="346.7" cy="47.1" r="1.3" fill="rgb(89,89,89)" opacity="0.40"/>
<circle cx="351.2" cy="48.3" r="0.5" fill="rgb(124,124,124)" opacity="0.64"/>
<circle cx="392.8" cy="28.7" r="1.1" fill="rgb(171,171,171)" opacity="0.76"/>
<circle cx="359.2" cy="28.9" r="0.8" fill="rgb(88,88,88)" opacity="0.40"/>
<circle cx="392.1" cy="37.1" r="1.1" fill="rgb(125,125,125)" opacity="0.62"/>
<circle cx="369.0" cy="42.6" r="0.9" fill="rgb(100,100,100)" opacity="0.35"/>
<circle cx="375.2" cy="28.8" r="1.0" fill="rgb(119,119,119)" opacity="0.83"/>
<circle cx="374.2" cy="30.3" r="1.3" fill="rgb(98,98,98)" opacity="0.57"/>
<circle cx="360.8" cy="39.8" r="1.1" fill="rgb(114,114,114)" opacity="0.44"/>
<circle cx="353.6" cy="11.3" r="0.8" fill="rgb(148,148,148)" opacity="0.84"/>
<circle cx="373.4" cy="29.8" r="1.0" fill="rgb(75,75,75)" opacity="0.46"/>
<circle cx="384.5" cy="22.2" r="1.0" fill="rgb(115,115,115)" opacity="0.41"/>
<circle cx="356.2" cy="32.6" r="1.1" fill="rgb(70,70,70)" opacity="0.56"/>
<circle cx="368.5" cy="53.6" r="0.5" fill="rgb(84,84,84)" opacity="0.66"/>
<circle cx="360.1" cy="24.1" r="1.3" fill="rgb(89,89,89)" opacity="0.43"/>
<circle cx="386.1" cy="36.6" r="1.3" fill="rgb(108,108,108)" opacity="0.55"/>
<circle cx="384.6" cy="63.0" r="0.9" fill="rgb(215,215,215)" opacity="0.47"/>
<circle cx="349.8" cy="14.7" r="0.9" fill="rgb(180,180,180)" opacity="0.85"/>
<circle cx="347.7" cy="50.5" r="0.7" fill="rgb(102,102,102)" opacity="0.75"/>
<circle cx="343.1" cy="32.1" r="1.0" fill="rgb(149,149,149)" opacity="0.39"/>
<circle cx="375.7" cy="40.7" r="0.7" fill="rgb(61,61,61)" opacity="0.75"/>
<circle cx="368.5" cy="22.5" r="0.6" fill="rgb(157,157,157)" opacity="0.53"/>
<circle cx="354.5" cy="48.3" r="1.2" fill="rgb(122,122,122)" opacity="0.77"/>
<circle cx="371.5" cy="48.3" r="1.3" fill="rgb(126,126,126)" opacity="0.39"/>
<circle cx="353.0" cy="42.0" r="1.2" fill="rgb(150,150,150)" opacity="0.71"/>
<circle cx="360.3" cy="26.4" r="0.8" fill="rgb(132,132,132)" opacity="0.66"/>
<circle cx="367.6" cy="22.8" r="0.7" fill="rgb(83,83,83)" opacity="0.41"/>
<circle cx="360.3" cy="38.8" r="1.0" fill="rgb(138,138,138)" opacity="0.53"/>
<circle cx="385.5" cy="55.9" r="1.1" fill="rgb(147,147,147)" opacity="0.53"/>
<circle cx="360.8" cy="41.2" r="1.2" fill="rgb(64,64,64)" opacity="0.55"/>
<circle cx="357.2" cy="8.9" r="0.8" fill="rgb(157,157,157)" opacity="0.70"/>
<circle cx="357.9" cy="32.8" r="1.2" fill="rgb(113,113,113)" opacity="0.69"/>
<circle cx="359.4" cy="48.4" r="1.1" fill="rgb(94,94,94)" opacity="0.65"/>
<circle cx="378.0" cy="42.4" r="1.3" fill="rgb(98,98,98)" opacity="0.50"/>
<circle cx="379.2" cy="33.3" r="0.8" fill="rgb(87,87,87)" opacity="0.42"/>
<circle cx="366.4" cy="50.0" r="1.2" fill="rgb(74,74,74)" opacity="0.65"/>
<circle cx="385.2" cy="58.2" r="0.6" fill="rgb(190,190,190)" opacity="0.53"/>
<circle cx="363.5" cy="19.9" r="1.3" fill="rgb(85,85,85)" opacity="0.36"/>
<circle cx="387.8" cy="26.3" r="0.9" fill="rgb(146,146,146)" opacity="0.51"/>
<circle cx="341.4" cy="17.9" r="0.8" fill="rgb(215,215,215)" opacity="0.76"/>
<circle cx="361.0" cy="24.9" r="0.6" fill="rgb(25,25,25)" opacity="0.58"/>
<circle cx="361.8" cy="30.5" r="0.8" fill="rgb(112,112,112)" opacity="0.42"/>
<circle cx="366.0" cy="37.2" r="0.6" fill="rgb(54,54,54)" opacity="0.67"/>
<circle cx="366.0" cy="28.3" r="1.2" fill="rgb(112,112,112)" opacity="0.41"/>
<circle cx="348.5" cy="61.2" r="1.9" fill="none" stroke="rgb(165,165,165)" stroke-width="0.6" opacity="0.80"/>
<circle cx="357.7" cy="49.5" r="1.2" fill="rgb(97,97,97)" opacity="0.50"/>
<circle cx="365.3" cy="48.5" r="0.6" fill="rgb(127,127,127)" opacity="0.39"/>
<circle cx="360.8" cy="57.5" r="0.5" fill="rgb(131,131,131)" opacity="0.46"/>
<circle cx="378.9" cy="25.1" r="1.2" fill="rgb(108,108,108)" opacity="0.40"/>
<circle cx="384.4" cy="63.8" r="1.0" fill="rgb(135,135,135)" opacity="0.78"/>
<circle cx="364.6" cy="36.0" r="0.6" fill="rgb(74,74,74)" opacity="0.76"/>
<circle cx="364.9" cy="30.7" r="0.6" fill="rgb(80,80,80)" opacity="0.50"/>
<circle cx="365.9" cy="23.0" r="0.5" fill="rgb(65,65,65)" opacity="0.56"/>
<circle cx="366.1" cy="43.3" r="0.9" fill="rgb(106,106,106)" opacity="0.68"/>
<circle cx="361.3" cy="52.2" r="0.9" fill="rgb(101,101,101)" opacity="0.80"/>
<circle cx="360.5" cy="56.2" r="0.9" fill="rgb(125,125,125)" opacity="0.59"/>
<circle cx="378.0" cy="25.6" r="0.5" fill="rgb(131,131,131)" opacity="0.77"/>
<circle cx="351.6" cy="34.9" r="0.6" fill="rgb(95,95,95)" opacity="0.54"/>
<circle cx="371.5" cy="28.9" r="1.7" fill="none" stroke="rgb(98,98,98)" stroke-width="0.6" opacity="0.59"/>
<circle cx="340.5" cy="54.8" r="1.3" fill="rgb(204,204,204)" opacity="0.53"/>
<circle cx="367.2" cy="30.6" r="1.0" fill="rgb(105,105,105)" opacity="0.64"/>
<circle cx="352.0" cy="37.7" r="0.6" fill="rgb(111,111,111)" opacity="0.48"/>
<circle cx="362.5" cy="41.1" r="1.2" fill="rgb(51,51,51)" opacity="0.55"/>
<circle cx="364.3" cy="32.9" r="0.8" fill="rgb(137,137,137)" opacity="0.51"/>
<circle cx="364.2" cy="41.6" r="1.1" fill="none" stroke="rgb(38,38,38)" stroke-width="0.6" opacity="0.73"/>
<circle cx="355.7" cy="26.8" r="0.5" fill="rgb(151,151,151)" opacity="0.82"/>
<circle cx="358.9" cy="36.4" r="1.1" fill="rgb(87,87,87)" opacity="0.56"/>
<circle cx="393.1" cy="34.8" r="0.9" fill="rgb(196,196,196)" opacity="0.73"/>
<circle cx="376.0" cy="25.3" r="0.6" fill="rgb(124,124,124)" opacity="0.51"/>
<circle cx="371.9" cy="40.1" r="1.0" fill="rgb(106,106,106)" opacity="0.41"/>
<circle cx="351.1" cy="26.5" r="1.0" fill="rgb(193,193,193)" opacity="0.81"/>
<circle cx="353.7" cy="45.1" r="1.8" fill="none" stroke="rgb(120,120,120)" stroke-width="0.6" opacity="0.59"/>
<circle cx="361.3" cy="26.9" r="1.1" fill="rgb(114,114,114)" opacity="0.81"/>
<circle cx="362.1" cy="26.5" r="1.1" fill="rgb(105,105,105)" opacity="0.43"/>
<circle cx="360.9" cy="40.8" r="0.6" fill="rgb(111,111,111)" opacity="0.52"/>
</g>
<rect x="342.90" y="64.10" width="5.00" height="1.60" fill="#222"/>
<rect x="401.2" y="9.3" width="57.900000000000034" height="57.7" fill="#ebebeb" stroke="#888" stroke-width="1"/>
<clipPath id="cp12"><rect x="401.7" y="9.8" width="56.900000000000034" height="56.7"/></clipPath><g clip-path="url(#cp12)" filter="url(#bl)">
<radialGradient id="rg12"><stop offset="0" stop-color="#666" stop-opacity="0.5"/><stop offset="1" stop-color="#666" stop-opacity="0"/></radialGradient>
<ellipse cx="428" cy="45" rx="34.5" ry="34.5" fill="url(#rg12)"/>
<circle cx="428.7" cy="46.9" r="0.5" fill="rgb(164,164,164)" opacity="0.30"/>
<circle cx="423.1" cy="25.6" r="0.8" fill="rgb(178,178,178)" opacity="0.54"/>
<circle cx="433.4" cy="47.1" r="1.0" fill="rgb(138,138,138)" opacity="0.45"/>
<circle cx="421.2" cy="22.0" r="0.9" fill="rgb(193,193,193)" opacity="0.33"/>
<circle cx="440.6" cy="29.1" r="0.9" fill="rgb(171,171,171)" opacity="0.33"/>
<circle cx="453.6" cy="56.0" r="0.5" fill="rgb(185,185,185)" opacity="0.70"/>
<circle cx="425.9" cy="35.0" r="1.0" fill="rgb(174,174,174)" opacity="0.52"/>
<circle cx="451.5" cy="41.4" r="0.7" fill="rgb(126,126,126)" opacity="0.50"/>
<circle cx="406.9" cy="44.1" r="0.7" fill="rgb(196,196,196)" opacity="0.54"/>
<circle cx="432.5" cy="46.0" r="1.0" fill="rgb(130,130,130)" opacity="0.69"/>
<circle cx="439.3" cy="30.1" r="0.9" fill="rgb(166,166,166)" opacity="0.45"/>
<circle cx="419.5" cy="24.4" r="0.6" fill="rgb(162,162,162)" opacity="0.50"/>
<circle cx="447.5" cy="38.2" r="0.6" fill="rgb(123,123,123)" opacity="0.64"/>
<circle cx="404.0" cy="11.7" r="0.4" fill="rgb(174,174,174)" opacity="0.38"/>
<circle cx="436.1" cy="52.3" r="0.5" fill="rgb(148,148,148)" opacity="0.58"/>
<circle cx="404.3" cy="25.7" r="0.8" fill="rgb(164,164,164)" opacity="0.59"/>
<circle cx="430.9" cy="30.8" r="0.6" fill="rgb(163,163,163)" opacity="0.49"/>
<circle cx="455.8" cy="37.1" r="0.7" fill="rgb(141,141,141)" opacity="0.52"/>
<circle cx="412.4" cy="53.0" r="0.9" fill="rgb(148,148,148)" opacity="0.30"/>
<circle cx="417.2" cy="53.2" r="0.5" fill="rgb(163,163,163)" opacity="0.62"/>
<circle cx="430.2" cy="24.1" r="1.0" fill="rgb(134,134,134)" opacity="0.70"/>
<circle cx="430.4" cy="11.6" r="0.9" fill="rgb(161,161,161)" opacity="0.57"/>
<circle cx="417.8" cy="16.9" r="0.7" fill="rgb(187,187,187)" opacity="0.50"/>
<circle cx="422.0" cy="48.4" r="0.9" fill="rgb(176,176,176)" opacity="0.36"/>
<circle cx="418.5" cy="58.9" r="0.6" fill="rgb(155,155,155)" opacity="0.64"/>
<circle cx="438.0" cy="35.1" r="0.8" fill="rgb(147,147,147)" opacity="0.51"/>
<circle cx="403.8" cy="10.5" r="0.5" fill="rgb(123,123,123)" opacity="0.65"/>
<circle cx="425.7" cy="23.7" r="0.7" fill="rgb(175,175,175)" opacity="0.32"/>
<circle cx="434.1" cy="50.3" r="0.9" fill="rgb(153,153,153)" opacity="0.47"/>
<circle cx="435.1" cy="60.5" r="0.7" fill="rgb(145,145,145)" opacity="0.44"/>
<circle cx="422.8" cy="51.3" r="0.5" fill="rgb(192,192,192)" opacity="0.58"/>
<circle cx="410.9" cy="12.0" r="0.9" fill="rgb(124,124,124)" opacity="0.66"/>
<circle cx="432.1" cy="54.3" r="0.9" fill="rgb(168,168,168)" opacity="0.58"/>
<circle cx="412.8" cy="25.4" r="0.7" fill="rgb(189,189,189)" opacity="0.54"/>
<circle cx="414.0" cy="43.7" r="0.7" fill="rgb(170,170,170)" opacity="0.33"/>
<circle cx="422.1" cy="14.9" r="0.5" fill="rgb(162,162,162)" opacity="0.34"/>
<circle cx="419.7" cy="49.1" r="0.6" fill="rgb(175,175,175)" opacity="0.31"/>
<circle cx="429.5" cy="35.0" r="0.4" fill="rgb(142,142,142)" opacity="0.54"/>
<circle cx="427.7" cy="59.6" r="1.0" fill="rgb(132,132,132)" opacity="0.30"/>
<circle cx="422.3" cy="25.9" r="0.8" fill="rgb(145,145,145)" opacity="0.42"/>
<circle cx="431.1" cy="18.5" r="0.5" fill="rgb(162,162,162)" opacity="0.49"/>
<circle cx="436.1" cy="57.2" r="0.7" fill="rgb(151,151,151)" opacity="0.61"/>
<circle cx="405.0" cy="53.3" r="0.7" fill="rgb(172,172,172)" opacity="0.60"/>
<circle cx="424.3" cy="47.8" r="1.0" fill="rgb(126,126,126)" opacity="0.52"/>
<circle cx="440.3" cy="29.8" r="0.6" fill="rgb(122,122,122)" opacity="0.50"/>
<circle cx="422.4" cy="27.4" r="0.7" fill="rgb(137,137,137)" opacity="0.62"/>
<circle cx="409.7" cy="37.8" r="0.9" fill="rgb(174,174,174)" opacity="0.41"/>
<circle cx="454.5" cy="43.7" r="0.9" fill="rgb(169,169,169)" opacity="0.62"/>
<circle cx="436.1" cy="18.6" r="0.8" fill="rgb(153,153,153)" opacity="0.64"/>
<circle cx="436.2" cy="54.0" r="0.7" fill="rgb(172,172,172)" opacity="0.56"/>
<circle cx="421.2" cy="53.1" r="0.6" fill="rgb(183,183,183)" opacity="0.46"/>
<circle cx="447.3" cy="19.8" r="0.9" fill="rgb(146,146,146)" opacity="0.34"/>
<circle cx="417.2" cy="59.7" r="1.0" fill="rgb(165,165,165)" opacity="0.67"/>
<circle cx="445.3" cy="58.1" r="0.9" fill="rgb(159,159,159)" opacity="0.38"/>
<circle cx="451.4" cy="11.7" r="0.4" fill="rgb(159,159,159)" opacity="0.62"/>
<circle cx="413.1" cy="21.3" r="1.0" fill="rgb(157,157,157)" opacity="0.69"/>
<circle cx="445.4" cy="40.7" r="0.8" fill="rgb(122,122,122)" opacity="0.34"/>
<circle cx="440.5" cy="40.2" r="0.5" fill="rgb(177,177,177)" opacity="0.30"/>
<circle cx="409.3" cy="32.2" r="0.8" fill="rgb(182,182,182)" opacity="0.49"/>
<circle cx="437.6" cy="31.9" r="0.9" fill="rgb(173,173,173)" opacity="0.31"/>
<circle cx="449.4" cy="11.4" r="0.7" fill="rgb(139,139,139)" opacity="0.64"/>
<circle cx="440.8" cy="63.6" r="0.7" fill="rgb(174,174,174)" opacity="0.69"/>
<circle cx="423.2" cy="14.3" r="0.6" fill="rgb(136,136,136)" opacity="0.39"/>
<circle cx="425.8" cy="55.2" r="1.0" fill="rgb(121,121,121)" opacity="0.31"/>
<circle cx="440.6" cy="41.8" r="0.8" fill="rgb(123,123,123)" opacity="0.53"/>
<circle cx="447.1" cy="45.3" r="0.9" fill="rgb(178,178,178)" opacity="0.47"/>
<circle cx="432.6" cy="27.9" r="0.6" fill="rgb(150,150,150)" opacity="0.56"/>
<circle cx="421.1" cy="13.6" r="0.5" fill="rgb(166,166,166)" opacity="0.35"/>
<circle cx="429.3" cy="17.9" r="0.4" fill="rgb(155,155,155)" opacity="0.39"/>
<circle cx="429.2" cy="51.0" r="0.9" fill="rgb(171,171,171)" opacity="0.44"/>
<circle cx="423.5" cy="58.3" r="0.6" fill="rgb(182,182,182)" opacity="0.66"/>
<circle cx="437.7" cy="44.8" r="0.5" fill="rgb(128,128,128)" opacity="0.45"/>
<circle cx="436.4" cy="17.4" r="0.8" fill="rgb(189,189,189)" opacity="0.48"/>
<circle cx="417.8" cy="29.4" r="0.5" fill="rgb(133,133,133)" opacity="0.53"/>
<circle cx="429.7" cy="30.5" r="0.8" fill="rgb(139,139,139)" opacity="0.53"/>
<circle cx="423.4" cy="27.6" r="0.9" fill="rgb(165,165,165)" opacity="0.67"/>
<circle cx="454.9" cy="43.6" r="0.5" fill="rgb(129,129,129)" opacity="0.46"/>
<circle cx="413.7" cy="28.3" r="0.8" fill="rgb(166,166,166)" opacity="0.64"/>
<circle cx="410.1" cy="29.0" r="0.4" fill="rgb(170,170,170)" opacity="0.43"/>
<circle cx="432.2" cy="56.8" r="0.5" fill="rgb(187,187,187)" opacity="0.40"/>
<circle cx="447.5" cy="65.4" r="0.5" fill="rgb(159,159,159)" opacity="0.48"/>
<circle cx="418.0" cy="57.2" r="0.5" fill="rgb(149,149,149)" opacity="0.41"/>
<circle cx="409.0" cy="22.1" r="0.7" fill="rgb(143,143,143)" opacity="0.68"/>
<circle cx="427.8" cy="62.5" r="0.7" fill="rgb(170,170,170)" opacity="0.46"/>
<circle cx="417.5" cy="60.6" r="0.5" fill="rgb(145,145,145)" opacity="0.51"/>
<circle cx="442.8" cy="38.2" r="0.9" fill="rgb(198,198,198)" opacity="0.44"/>
<circle cx="424.5" cy="17.9" r="0.9" fill="rgb(129,129,129)" opacity="0.62"/>
<circle cx="424.0" cy="64.2" r="0.5" fill="rgb(181,181,181)" opacity="0.63"/>
<circle cx="425.7" cy="27.8" r="0.7" fill="rgb(153,153,153)" opacity="0.63"/>
<circle cx="410.1" cy="35.5" r="0.6" fill="rgb(187,187,187)" opacity="0.36"/>
<circle cx="409.0" cy="56.6" r="0.7" fill="rgb(168,168,168)" opacity="0.42"/>
<circle cx="407.4" cy="21.0" r="0.6" fill="rgb(149,149,149)" opacity="0.51"/>
<circle cx="416.5" cy="63.6" r="0.9" fill="rgb(166,166,166)" opacity="0.35"/>
<circle cx="413.8" cy="57.3" r="0.9" fill="rgb(133,133,133)" opacity="0.40"/>
<circle cx="432.0" cy="60.8" r="0.7" fill="rgb(133,133,133)" opacity="0.51"/>
<circle cx="456.1" cy="41.9" r="0.7" fill="rgb(127,127,127)" opacity="0.31"/>
<circle cx="429.8" cy="30.3" r="0.5" fill="rgb(171,171,171)" opacity="0.52"/>
<circle cx="453.1" cy="35.6" r="0.6" fill="rgb(190,190,190)" opacity="0.30"/>
<circle cx="430.4" cy="33.4" r="0.4" fill="rgb(138,138,138)" opacity="0.62"/>
<circle cx="431.7" cy="45.0" r="0.5" fill="rgb(159,159,159)" opacity="0.46"/>
<circle cx="446.9" cy="51.9" r="0.4" fill="rgb(187,187,187)" opacity="0.57"/>
<circle cx="404.7" cy="26.3" r="0.8" fill="rgb(166,166,166)" opacity="0.44"/>
<circle cx="438.8" cy="56.3" r="1.0" fill="rgb(134,134,134)" opacity="0.36"/>
<circle cx="435.9" cy="17.8" r="0.7" fill="rgb(184,184,184)" opacity="0.37"/>
<circle cx="448.4" cy="58.2" r="0.9" fill="rgb(148,148,148)" opacity="0.31"/>
<circle cx="410.3" cy="35.8" r="0.8" fill="rgb(178,178,178)" opacity="0.60"/>
<circle cx="448.3" cy="52.1" r="0.7" fill="rgb(156,156,156)" opacity="0.61"/>
<circle cx="413.7" cy="63.5" r="0.6" fill="rgb(199,199,199)" opacity="0.42"/>
<circle cx="436.5" cy="31.0" r="0.6" fill="rgb(165,165,165)" opacity="0.53"/>
<circle cx="432.3" cy="39.8" r="0.9" fill="rgb(191,191,191)" opacity="0.42"/>
<circle cx="450.9" cy="27.9" r="1.0" fill="rgb(127,127,127)" opacity="0.40"/>
<circle cx="432.7" cy="53.9" r="0.9" fill="rgb(146,146,146)" opacity="0.33"/>
<circle cx="455.8" cy="44.3" r="1.0" fill="rgb(175,175,175)" opacity="0.69"/>
<circle cx="421.2" cy="25.2" r="0.7" fill="rgb(125,125,125)" opacity="0.66"/>
<circle cx="419.9" cy="13.2" r="0.8" fill="rgb(160,160,160)" opacity="0.49"/>
<circle cx="413.6" cy="22.5" r="0.9" fill="rgb(128,128,128)" opacity="0.57"/>
<circle cx="429.8" cy="55.3" r="0.7" fill="rgb(140,140,140)" opacity="0.57"/>
<circle cx="428.4" cy="53.5" r="1.0" fill="rgb(163,163,163)" opacity="0.64"/>
<circle cx="440.1" cy="43.2" r="0.7" fill="rgb(141,141,141)" opacity="0.59"/>
<circle cx="457.3" cy="16.7" r="0.5" fill="rgb(172,172,172)" opacity="0.40"/>
<circle cx="406.1" cy="36.5" r="0.7" fill="rgb(177,177,177)" opacity="0.47"/>
<circle cx="424.1" cy="21.5" r="0.8" fill="rgb(193,193,193)" opacity="0.56"/>
<circle cx="410.3" cy="40.5" r="0.8" fill="rgb(141,141,141)" opacity="0.55"/>
<circle cx="439.3" cy="12.7" r="0.8" fill="rgb(180,180,180)" opacity="0.49"/>
<circle cx="451.9" cy="19.2" r="0.9" fill="rgb(131,131,131)" opacity="0.48"/>
<circle cx="457.8" cy="41.6" r="0.5" fill="rgb(149,149,149)" opacity="0.69"/>
<circle cx="429.9" cy="60.9" r="0.9" fill="rgb(138,138,138)" opacity="0.51"/>
<circle cx="435.4" cy="39.5" r="0.6" fill="rgb(200,200,200)" opacity="0.33"/>
<circle cx="411.3" cy="25.4" r="0.9" fill="rgb(189,189,189)" opacity="0.57"/>
<circle cx="426.0" cy="12.6" r="0.5" fill="rgb(186,186,186)" opacity="0.38"/>
<circle cx="426.5" cy="58.3" r="0.8" fill="rgb(143,143,143)" opacity="0.57"/>
<circle cx="403.2" cy="17.1" r="0.5" fill="rgb(188,188,188)" opacity="0.42"/>
<circle cx="413.8" cy="34.7" r="0.9" fill="rgb(188,188,188)" opacity="0.50"/>
<circle cx="446.5" cy="14.1" r="0.9" fill="rgb(140,140,140)" opacity="0.31"/>
<circle cx="420.9" cy="63.8" r="0.5" fill="rgb(139,139,139)" opacity="0.30"/>
<circle cx="444.7" cy="31.0" r="0.8" fill="rgb(158,158,158)" opacity="0.35"/>
<circle cx="439.0" cy="19.7" r="0.9" fill="rgb(196,196,196)" opacity="0.34"/>
<circle cx="441.4" cy="56.2" r="0.6" fill="rgb(172,172,172)" opacity="0.41"/>
<circle cx="422.4" cy="16.4" r="0.6" fill="rgb(161,161,161)" opacity="0.58"/>
<circle cx="451.7" cy="24.6" r="0.7" fill="rgb(181,181,181)" opacity="0.30"/>
<circle cx="407.0" cy="10.7" r="0.7" fill="rgb(149,149,149)" opacity="0.50"/>
<circle cx="432.2" cy="58.1" r="0.9" fill="rgb(170,170,170)" opacity="0.61"/>
<circle cx="423.8" cy="14.1" r="0.8" fill="rgb(140,140,140)" opacity="0.37"/>
<circle cx="457.5" cy="57.4" r="0.6" fill="rgb(177,177,177)" opacity="0.42"/>
<circle cx="442.9" cy="12.9" r="0.6" fill="rgb(145,145,145)" opacity="0.46"/>
<circle cx="419.7" cy="50.0" r="1.0" fill="rgb(142,142,142)" opacity="0.62"/>
<circle cx="425.3" cy="14.7" r="1.0" fill="rgb(162,162,162)" opacity="0.30"/>
<circle cx="428.0" cy="30.1" r="0.6" fill="rgb(159,159,159)" opacity="0.31"/>
<circle cx="421.0" cy="23.5" r="0.4" fill="rgb(144,144,144)" opacity="0.35"/>
<circle cx="454.1" cy="50.3" r="0.9" fill="rgb(199,199,199)" opacity="0.60"/>
<circle cx="414.9" cy="16.4" r="0.4" fill="rgb(138,138,138)" opacity="0.45"/>
<circle cx="450.1" cy="30.8" r="1.0" fill="rgb(142,142,142)" opacity="0.55"/>
<circle cx="407.3" cy="14.8" r="0.6" fill="rgb(191,191,191)" opacity="0.49"/>
<circle cx="409.9" cy="20.2" r="0.6" fill="rgb(183,183,183)" opacity="0.34"/>
<circle cx="443.5" cy="27.3" r="1.0" fill="rgb(134,134,134)" opacity="0.31"/>
<circle cx="405.4" cy="38.9" r="0.9" fill="rgb(150,150,150)" opacity="0.58"/>
<circle cx="455.4" cy="19.5" r="0.8" fill="rgb(173,173,173)" opacity="0.65"/>
<circle cx="420.5" cy="17.2" r="1.0" fill="rgb(182,182,182)" opacity="0.57"/>
<circle cx="457.2" cy="13.6" r="0.9" fill="rgb(174,174,174)" opacity="0.53"/>
<circle cx="438.4" cy="37.1" r="0.7" fill="rgb(174,174,174)" opacity="0.52"/>
<circle cx="424.8" cy="45.3" r="0.4" fill="rgb(195,195,195)" opacity="0.49"/>
<circle cx="456.5" cy="19.8" r="0.9" fill="rgb(149,149,149)" opacity="0.41"/>
<circle cx="435.4" cy="53.7" r="0.5" fill="rgb(146,146,146)" opacity="0.37"/>
<circle cx="436.8" cy="19.8" r="0.9" fill="rgb(191,191,191)" opacity="0.56"/>
<circle cx="450.9" cy="65.2" r="0.8" fill="rgb(172,172,172)" opacity="0.37"/>
<circle cx="453.1" cy="60.0" r="0.7" fill="rgb(190,190,190)" opacity="0.57"/>
<circle cx="453.9" cy="65.1" r="1.0" fill="rgb(122,122,122)" opacity="0.52"/>
<circle cx="451.1" cy="24.0" r="0.6" fill="rgb(197,197,197)" opacity="0.59"/>
<circle cx="433.7" cy="35.5" r="1.0" fill="rgb(200,200,200)" opacity="0.47"/>
<circle cx="405.9" cy="45.1" r="0.8" fill="rgb(135,135,135)" opacity="0.58"/>
<circle cx="450.6" cy="40.2" r="0.4" fill="rgb(189,189,189)" opacity="0.61"/>
<circle cx="432.0" cy="61.4" r="0.9" fill="rgb(123,123,123)" opacity="0.35"/>
<circle cx="423.7" cy="45.0" r="0.8" fill="rgb(123,123,123)" opacity="0.64"/>
<circle cx="454.4" cy="12.7" r="0.4" fill="rgb(164,164,164)" opacity="0.68"/>
<circle cx="408.0" cy="47.6" r="0.6" fill="rgb(190,190,190)" opacity="0.52"/>
<circle cx="440.5" cy="21.9" r="0.5" fill="rgb(151,151,151)" opacity="0.36"/>
<circle cx="442.8" cy="43.9" r="0.9" fill="rgb(144,144,144)" opacity="0.55"/>
<circle cx="432.4" cy="15.4" r="0.5" fill="rgb(193,193,193)" opacity="0.62"/>
<circle cx="445.3" cy="31.0" r="0.6" fill="rgb(184,184,184)" opacity="0.63"/>
<circle cx="430.0" cy="47.5" r="0.8" fill="rgb(127,127,127)" opacity="0.36"/>
<circle cx="447.5" cy="35.2" r="0.6" fill="rgb(162,162,162)" opacity="0.38"/>
<circle cx="440.7" cy="33.7" r="0.9" fill="rgb(198,198,198)" opacity="0.33"/>
<circle cx="456.5" cy="58.0" r="1.0" fill="rgb(185,185,185)" opacity="0.41"/>
<circle cx="415.1" cy="12.7" r="1.0" fill="rgb(199,199,199)" opacity="0.66"/>
<circle cx="427.1" cy="43.8" r="0.4" fill="rgb(181,181,181)" opacity="0.44"/>
<circle cx="437.6" cy="10.9" r="0.8" fill="rgb(155,155,155)" opacity="0.55"/>
<circle cx="449.6" cy="44.5" r="0.5" fill="rgb(142,142,142)" opacity="0.50"/>
<circle cx="457.8" cy="43.4" r="1.0" fill="rgb(124,124,124)" opacity="0.34"/>
<circle cx="427.6" cy="27.8" r="0.5" fill="rgb(170,170,170)" opacity="0.67"/>
<circle cx="433.9" cy="58.2" r="0.5" fill="rgb(160,160,160)" opacity="0.42"/>
<circle cx="409.8" cy="56.7" r="0.9" fill="rgb(170,170,170)" opacity="0.55"/>
<circle cx="451.4" cy="64.8" r="0.8" fill="rgb(128,128,128)" opacity="0.39"/>
<circle cx="446.4" cy="51.9" r="0.7" fill="rgb(194,194,194)" opacity="0.42"/>
<circle cx="454.4" cy="49.0" r="0.6" fill="rgb(132,132,132)" opacity="0.49"/>
<circle cx="440.0" cy="46.3" r="1.0" fill="rgb(161,161,161)" opacity="0.38"/>
<circle cx="455.3" cy="34.5" r="0.9" fill="rgb(143,143,143)" opacity="0.54"/>
<circle cx="452.2" cy="25.1" r="0.9" fill="rgb(157,157,157)" opacity="0.48"/>
<circle cx="429.9" cy="25.3" r="0.5" fill="rgb(187,187,187)" opacity="0.60"/>
<circle cx="413.2" cy="44.9" r="0.4" fill="rgb(121,121,121)" opacity="0.65"/>
<circle cx="435.9" cy="55.3" r="0.7" fill="rgb(135,135,135)" opacity="0.70"/>
<circle cx="411.9" cy="36.7" r="0.8" fill="rgb(198,198,198)" opacity="0.62"/>
<circle cx="443.5" cy="27.3" r="0.9" fill="rgb(137,137,137)" opacity="0.47"/>
<circle cx="442.4" cy="33.4" r="0.6" fill="rgb(193,193,193)" opacity="0.45"/>
<circle cx="441.9" cy="46.8" r="0.6" fill="rgb(198,198,198)" opacity="0.65"/>
<circle cx="402.9" cy="62.7" r="0.8" fill="rgb(193,193,193)" opacity="0.48"/>
<circle cx="421.4" cy="38.9" r="0.7" fill="rgb(136,136,136)" opacity="0.52"/>
<circle cx="455.4" cy="55.0" r="1.0" fill="rgb(138,138,138)" opacity="0.55"/>
<circle cx="420.0" cy="15.3" r="0.7" fill="rgb(193,193,193)" opacity="0.36"/>
<circle cx="419.1" cy="43.2" r="0.6" fill="rgb(185,185,185)" opacity="0.33"/>
<circle cx="414.8" cy="41.4" r="0.8" fill="rgb(174,174,174)" opacity="0.50"/>
<circle cx="443.5" cy="22.1" r="0.7" fill="rgb(168,168,168)" opacity="0.66"/>
<circle cx="422.0" cy="49.4" r="0.5" fill="rgb(186,186,186)" opacity="0.54"/>
<circle cx="439.0" cy="41.5" r="0.7" fill="rgb(140,140,140)" opacity="0.35"/>
<circle cx="428.9" cy="12.1" r="0.5" fill="rgb(185,185,185)" opacity="0.50"/>
<circle cx="425.9" cy="45.9" r="0.9" fill="rgb(148,148,148)" opacity="0.67"/>
<circle cx="442.9" cy="36.2" r="0.8" fill="rgb(197,197,197)" opacity="0.46"/>
<circle cx="448.3" cy="42.3" r="1.0" fill="rgb(194,194,194)" opacity="0.35"/>
<circle cx="430.3" cy="12.6" r="0.5" fill="rgb(114,114,114)" opacity="0.80"/>
<circle cx="435.7" cy="51.5" r="0.9" fill="rgb(81,81,81)" opacity="0.69"/>
<circle cx="424.4" cy="39.0" r="1.2" fill="rgb(127,127,127)" opacity="0.80"/>
<circle cx="415.1" cy="34.6" r="1.1" fill="none" stroke="rgb(50,50,50)" stroke-width="0.6" opacity="0.84"/>
<circle cx="410.6" cy="53.8" r="0.9" fill="rgb(77,77,77)" opacity="0.51"/>
<circle cx="427.1" cy="58.5" r="1.7" fill="none" stroke="rgb(94,94,94)" stroke-width="0.6" opacity="0.58"/>
<circle cx="394.7" cy="53.7" r="0.8" fill="rgb(94,94,94)" opacity="0.84"/>
<circle cx="424.6" cy="52.8" r="1.2" fill="rgb(37,37,37)" opacity="0.55"/>
<circle cx="460.0" cy="42.6" r="0.8" fill="rgb(160,160,160)" opacity="0.80"/>
<circle cx="420.2" cy="28.8" r="1.1" fill="none" stroke="rgb(79,79,79)" stroke-width="0.6" opacity="0.63"/>
<circle cx="417.5" cy="43.2" r="0.8" fill="rgb(68,68,68)" opacity="0.74"/>
<circle cx="422.5" cy="74.1" r="0.5" fill="rgb(194,194,194)" opacity="0.56"/>
<circle cx="409.0" cy="34.4" r="0.9" fill="rgb(121,121,121)" opacity="0.48"/>
<circle cx="424.1" cy="24.4" r="1.2" fill="rgb(117,117,117)" opacity="0.60"/>
<circle cx="419.5" cy="41.8" r="0.9" fill="rgb(103,103,103)" opacity="0.77"/>
<circle cx="420.2" cy="68.5" r="1.0" fill="rgb(117,117,117)" opacity="0.56"/>
<circle cx="426.4" cy="43.5" r="0.8" fill="rgb(25,25,25)" opacity="0.76"/>
<circle cx="419.4" cy="54.4" r="1.1" fill="rgb(70,70,70)" opacity="0.63"/>
<circle cx="426.1" cy="51.2" r="0.8" fill="rgb(83,83,83)" opacity="0.48"/>
<circle cx="417.7" cy="14.9" r="0.6" fill="rgb(137,137,137)" opacity="0.52"/>
<circle cx="429.5" cy="39.8" r="1.3" fill="rgb(25,25,25)" opacity="0.51"/>
<circle cx="443.6" cy="42.3" r="1.3" fill="rgb(104,104,104)" opacity="0.41"/>
<circle cx="400.0" cy="53.8" r="1.7" fill="none" stroke="rgb(65,65,65)" stroke-width="0.6" opacity="0.44"/>
<circle cx="432.8" cy="54.8" r="0.6" fill="rgb(118,118,118)" opacity="0.39"/>
<circle cx="440.1" cy="49.2" r="1.2" fill="rgb(72,72,72)" opacity="0.48"/>
<circle cx="420.1" cy="20.9" r="0.5" fill="rgb(152,152,152)" opacity="0.76"/>
<circle cx="446.8" cy="41.5" r="1.1" fill="rgb(103,103,103)" opacity="0.69"/>
<circle cx="410.0" cy="56.4" r="1.3" fill="none" stroke="rgb(170,170,170)" stroke-width="0.6" opacity="0.47"/>
<circle cx="422.0" cy="19.3" r="0.6" fill="rgb(179,179,179)" opacity="0.60"/>
<circle cx="434.9" cy="44.8" r="0.9" fill="rgb(99,99,99)" opacity="0.74"/>
<circle cx="432.5" cy="85.9" r="1.3" fill="rgb(157,157,157)" opacity="0.81"/>
<circle cx="435.0" cy="15.0" r="1.4" fill="none" stroke="rgb(121,121,121)" stroke-width="0.6" opacity="0.52"/>
<circle cx="442.1" cy="59.9" r="0.9" fill="rgb(47,47,47)" opacity="0.49"/>
<circle cx="428.6" cy="56.0" r="1.1" fill="rgb(109,109,109)" opacity="0.44"/>
<circle cx="451.2" cy="44.7" r="0.6" fill="rgb(95,95,95)" opacity="0.40"/>
<circle cx="447.7" cy="39.4" r="1.0" fill="rgb(66,66,66)" opacity="0.53"/>
<circle cx="400.1" cy="42.4" r="1.2" fill="rgb(123,123,123)" opacity="0.52"/>
<circle cx="414.5" cy="65.4" r="1.0" fill="rgb(55,55,55)" opacity="0.45"/>
<circle cx="434.2" cy="33.7" r="0.9" fill="rgb(111,111,111)" opacity="0.72"/>
<circle cx="443.7" cy="7.6" r="0.6" fill="rgb(152,152,152)" opacity="0.54"/>
<circle cx="433.7" cy="51.1" r="0.6" fill="rgb(61,61,61)" opacity="0.67"/>
<circle cx="445.4" cy="35.9" r="1.1" fill="rgb(160,160,160)" opacity="0.57"/>
<circle cx="406.4" cy="43.7" r="0.5" fill="rgb(112,112,112)" opacity="0.43"/>
<circle cx="406.0" cy="27.8" r="0.6" fill="rgb(115,115,115)" opacity="0.74"/>
<circle cx="423.6" cy="56.1" r="1.5" fill="none" stroke="rgb(108,108,108)" stroke-width="0.6" opacity="0.57"/>
<circle cx="433.7" cy="54.0" r="1.2" fill="rgb(94,94,94)" opacity="0.83"/>
<circle cx="413.8" cy="45.6" r="1.0" fill="rgb(130,130,130)" opacity="0.70"/>
<circle cx="412.6" cy="33.6" r="1.1" fill="rgb(99,99,99)" opacity="0.82"/>
<circle cx="409.0" cy="61.9" r="1.2" fill="rgb(122,122,122)" opacity="0.47"/>
<circle cx="423.4" cy="60.9" r="0.9" fill="rgb(107,107,107)" opacity="0.44"/>
<circle cx="441.6" cy="76.7" r="0.5" fill="rgb(169,169,169)" opacity="0.38"/>
<circle cx="427.9" cy="29.1" r="0.8" fill="rgb(136,136,136)" opacity="0.48"/>
<circle cx="453.5" cy="43.7" r="0.9" fill="rgb(110,110,110)" opacity="0.73"/>
<circle cx="418.4" cy="42.6" r="1.2" fill="rgb(107,107,107)" opacity="0.38"/>
<circle cx="423.1" cy="27.6" r="0.8" fill="rgb(36,36,36)" opacity="0.73"/>
<circle cx="416.9" cy="44.6" r="1.1" fill="rgb(71,71,71)" opacity="0.54"/>
<circle cx="437.9" cy="38.6" r="0.6" fill="rgb(59,59,59)" opacity="0.50"/>
<circle cx="430.8" cy="29.0" r="0.6" fill="rgb(58,58,58)" opacity="0.49"/>
<circle cx="403.7" cy="41.2" r="0.5" fill="rgb(86,86,86)" opacity="0.77"/>
<circle cx="431.7" cy="42.7" r="1.0" fill="rgb(45,45,45)" opacity="0.69"/>
<circle cx="405.5" cy="67.0" r="1.1" fill="none" stroke="rgb(131,131,131)" stroke-width="0.6" opacity="0.36"/>
<circle cx="448.5" cy="33.4" r="1.0" fill="rgb(179,179,179)" opacity="0.59"/>
<circle cx="420.6" cy="42.2" r="0.7" fill="rgb(99,99,99)" opacity="0.74"/>
<circle cx="433.5" cy="37.3" r="0.8" fill="rgb(60,60,60)" opacity="0.41"/>
<circle cx="450.3" cy="44.0" r="1.3" fill="rgb(89,89,89)" opacity="0.76"/>
<circle cx="446.1" cy="47.7" r="0.6" fill="rgb(109,109,109)" opacity="0.76"/>
<circle cx="420.6" cy="22.1" r="0.5" fill="rgb(141,141,141)" opacity="0.37"/>
<circle cx="443.2" cy="60.5" r="0.8" fill="rgb(111,111,111)" opacity="0.78"/>
<circle cx="434.3" cy="66.8" r="1.3" fill="rgb(159,159,159)" opacity="0.85"/>
<circle cx="462.5" cy="49.2" r="1.1" fill="rgb(161,161,161)" opacity="0.57"/>
<circle cx="432.9" cy="63.8" r="1.2" fill="rgb(119,119,119)" opacity="0.42"/>
<circle cx="418.2" cy="55.8" r="0.6" fill="rgb(97,97,97)" opacity="0.45"/>
<circle cx="438.4" cy="19.6" r="1.3" fill="rgb(143,143,143)" opacity="0.56"/>
<circle cx="422.2" cy="42.9" r="0.7" fill="rgb(47,47,47)" opacity="0.57"/>
<circle cx="424.0" cy="15.2" r="1.2" fill="rgb(126,126,126)" opacity="0.73"/>
<circle cx="424.0" cy="58.2" r="0.8" fill="rgb(154,154,154)" opacity="0.63"/>
<circle cx="427.9" cy="60.7" r="1.0" fill="rgb(73,73,73)" opacity="0.56"/>
<circle cx="423.5" cy="37.1" r="0.5" fill="rgb(57,57,57)" opacity="0.47"/>
<circle cx="423.8" cy="41.2" r="1.3" fill="rgb(78,78,78)" opacity="0.36"/>
<circle cx="424.1" cy="33.5" r="0.6" fill="rgb(124,124,124)" opacity="0.45"/>
<circle cx="432.4" cy="42.5" r="0.8" fill="rgb(90,90,90)" opacity="0.69"/>
<circle cx="435.9" cy="36.1" r="0.7" fill="rgb(65,65,65)" opacity="0.38"/>
<circle cx="447.5" cy="22.2" r="1.2" fill="rgb(116,116,116)" opacity="0.47"/>
<circle cx="435.7" cy="47.6" r="0.8" fill="rgb(71,71,71)" opacity="0.45"/>
<circle cx="462.7" cy="30.0" r="0.8" fill="rgb(152,152,152)" opacity="0.72"/>
<circle cx="398.9" cy="56.8" r="1.2" fill="rgb(118,118,118)" opacity="0.44"/>
<circle cx="451.4" cy="37.0" r="0.8" fill="rgb(118,118,118)" opacity="0.63"/>
<circle cx="418.5" cy="46.4" r="1.1" fill="rgb(116,116,116)" opacity="0.69"/>
<circle cx="439.5" cy="53.3" r="0.9" fill="rgb(104,104,104)" opacity="0.37"/>
<circle cx="446.1" cy="53.5" r="1.3" fill="none" stroke="rgb(95,95,95)" stroke-width="0.6" opacity="0.83"/>
<circle cx="435.7" cy="57.1" r="0.9" fill="rgb(96,96,96)" opacity="0.73"/>
<circle cx="423.7" cy="24.7" r="1.1" fill="rgb(123,123,123)" opacity="0.59"/>
<circle cx="409.7" cy="25.0" r="0.9" fill="rgb(159,159,159)" opacity="0.43"/>
<circle cx="440.4" cy="70.3" r="1.0" fill="rgb(149,149,149)" opacity="0.57"/>
<circle cx="435.1" cy="31.7" r="0.7" fill="rgb(132,132,132)" opacity="0.65"/>
<circle cx="432.1" cy="53.9" r="0.7" fill="rgb(25,25,25)" opacity="0.76"/>
<circle cx="440.0" cy="60.1" r="0.8" fill="rgb(106,106,106)" opacity="0.73"/>
<circle cx="443.0" cy="53.3" r="0.7" fill="rgb(83,83,83)" opacity="0.77"/>
<circle cx="441.3" cy="56.7" r="0.8" fill="rgb(103,103,103)" opacity="0.43"/>
<circle cx="449.2" cy="51.7" r="0.7" fill="rgb(100,100,100)" opacity="0.60"/>
<circle cx="443.6" cy="41.2" r="0.7" fill="rgb(113,113,113)" opacity="0.48"/>
<circle cx="432.5" cy="55.9" r="1.0" fill="rgb(64,64,64)" opacity="0.83"/>
<circle cx="405.9" cy="65.8" r="1.2" fill="rgb(118,118,118)" opacity="0.47"/>
<circle cx="414.0" cy="46.4" r="1.2" fill="rgb(117,117,117)" opacity="0.48"/>
<circle cx="448.9" cy="62.0" r="0.8" fill="rgb(49,49,49)" opacity="0.42"/>
<circle cx="427.6" cy="45.2" r="1.2" fill="rgb(25,25,25)" opacity="0.82"/>
<circle cx="452.6" cy="60.8" r="1.0" fill="rgb(157,157,157)" opacity="0.74"/>
<circle cx="414.8" cy="82.3" r="0.9" fill="rgb(164,164,164)" opacity="0.52"/>
<circle cx="441.4" cy="36.0" r="0.9" fill="rgb(90,90,90)" opacity="0.60"/>
<circle cx="370.1" cy="60.6" r="0.7" fill="rgb(215,215,215)" opacity="0.51"/>
<circle cx="457.6" cy="60.5" r="1.2" fill="rgb(126,126,126)" opacity="0.65"/>
<circle cx="394.4" cy="72.2" r="1.2" fill="rgb(202,202,202)" opacity="0.51"/>
<circle cx="441.1" cy="42.1" r="1.1" fill="rgb(99,99,99)" opacity="0.76"/>
<circle cx="437.6" cy="36.3" r="1.1" fill="rgb(51,51,51)" opacity="0.43"/>
<circle cx="433.6" cy="49.3" r="1.1" fill="rgb(25,25,25)" opacity="0.78"/>
<circle cx="408.7" cy="28.4" r="1.3" fill="rgb(60,60,60)" opacity="0.77"/>
<circle cx="424.1" cy="60.9" r="1.3" fill="rgb(64,64,64)" opacity="0.67"/>
<circle cx="423.2" cy="49.4" r="0.7" fill="rgb(71,71,71)" opacity="0.84"/>
<circle cx="421.2" cy="51.3" r="1.2" fill="rgb(61,61,61)" opacity="0.83"/>
<circle cx="413.7" cy="37.0" r="1.3" fill="rgb(136,136,136)" opacity="0.56"/>
<circle cx="447.5" cy="43.8" r="0.6" fill="rgb(142,142,142)" opacity="0.37"/>
<circle cx="429.4" cy="45.5" r="1.9" fill="none" stroke="rgb(28,28,28)" stroke-width="0.6" opacity="0.46"/>
<circle cx="444.3" cy="51.1" r="1.3" fill="rgb(96,96,96)" opacity="0.59"/>
<circle cx="450.1" cy="63.0" r="0.7" fill="rgb(159,159,159)" opacity="0.78"/>
<circle cx="418.5" cy="56.5" r="0.9" fill="rgb(98,98,98)" opacity="0.42"/>
<circle cx="451.9" cy="36.2" r="0.6" fill="rgb(136,136,136)" opacity="0.63"/>
<circle cx="450.9" cy="45.6" r="1.2" fill="rgb(124,124,124)" opacity="0.50"/>
<circle cx="444.7" cy="55.9" r="0.5" fill="rgb(119,119,119)" opacity="0.43"/>
<circle cx="451.0" cy="33.4" r="1.0" fill="rgb(128,128,128)" opacity="0.49"/>
<circle cx="448.0" cy="67.5" r="0.8" fill="rgb(78,78,78)" opacity="0.40"/>
<circle cx="429.7" cy="49.5" r="0.7" fill="rgb(87,87,87)" opacity="0.68"/>
<circle cx="427.4" cy="39.5" r="1.3" fill="rgb(54,54,54)" opacity="0.53"/>
<circle cx="430.6" cy="34.5" r="0.9" fill="rgb(61,61,61)" opacity="0.73"/>
<circle cx="433.4" cy="62.7" r="1.2" fill="rgb(101,101,101)" opacity="0.58"/>
<circle cx="422.7" cy="42.7" r="0.7" fill="rgb(74,74,74)" opacity="0.48"/>
<circle cx="435.2" cy="49.1" r="0.7" fill="rgb(71,71,71)" opacity="0.38"/>
<circle cx="442.2" cy="32.4" r="1.0" fill="rgb(62,62,62)" opacity="0.71"/>
<circle cx="444.8" cy="44.6" r="0.8" fill="rgb(109,109,109)" opacity="0.45"/>
<circle cx="431.1" cy="40.5" r="0.9" fill="rgb(35,35,35)" opacity="0.47"/>
<circle cx="419.2" cy="52.9" r="1.2" fill="rgb(36,36,36)" opacity="0.81"/>
<circle cx="432.5" cy="23.2" r="1.4" fill="none" stroke="rgb(137,137,137)" stroke-width="0.6" opacity="0.74"/>
<circle cx="430.4" cy="42.9" r="0.6" fill="rgb(32,32,32)" opacity="0.54"/>
<circle cx="422.5" cy="34.8" r="0.8" fill="rgb(86,86,86)" opacity="0.74"/>
<circle cx="455.4" cy="38.4" r="0.7" fill="rgb(139,139,139)" opacity="0.60"/>
<circle cx="397.5" cy="44.3" r="1.2" fill="rgb(126,126,126)" opacity="0.50"/>
<circle cx="432.6" cy="23.0" r="1.0" fill="rgb(25,25,25)" opacity="0.61"/>
<circle cx="440.9" cy="50.7" r="0.6" fill="rgb(99,99,99)" opacity="0.48"/>
<circle cx="446.2" cy="71.5" r="0.8" fill="rgb(144,144,144)" opacity="0.70"/>
<circle cx="424.5" cy="27.1" r="0.8" fill="rgb(114,114,114)" opacity="0.48"/>
<circle cx="447.4" cy="66.8" r="1.3" fill="rgb(89,89,89)" opacity="0.65"/>
<circle cx="405.6" cy="22.1" r="0.6" fill="rgb(142,142,142)" opacity="0.55"/>
<circle cx="437.0" cy="33.8" r="1.0" fill="rgb(81,81,81)" opacity="0.51"/>
<circle cx="425.0" cy="21.4" r="0.7" fill="rgb(88,88,88)" opacity="0.39"/>
<circle cx="420.0" cy="27.1" r="1.2" fill="rgb(150,150,150)" opacity="0.45"/>
<circle cx="418.1" cy="55.6" r="1.0" fill="rgb(124,124,124)" opacity="0.81"/>
<circle cx="416.3" cy="42.9" r="0.7" fill="rgb(99,99,99)" opacity="0.71"/>
<circle cx="419.2" cy="44.9" r="1.1" fill="rgb(67,67,67)" opacity="0.59"/>
<circle cx="427.7" cy="45.6" r="1.0" fill="rgb(73,73,73)" opacity="0.51"/>
<circle cx="410.0" cy="21.4" r="0.7" fill="rgb(93,93,93)" opacity="0.61"/>
<circle cx="414.0" cy="36.6" r="1.3" fill="rgb(68,68,68)" opacity="0.65"/>
<circle cx="462.1" cy="71.8" r="1.1" fill="rgb(167,167,167)" opacity="0.70"/>
<circle cx="416.6" cy="43.5" r="0.6" fill="rgb(96,96,96)" opacity="0.52"/>
<circle cx="437.0" cy="74.4" r="0.6" fill="rgb(141,141,141)" opacity="0.56"/>
<circle cx="442.3" cy="55.0" r="1.0" fill="rgb(154,154,154)" opacity="0.66"/>
<circle cx="420.9" cy="39.8" r="0.7" fill="rgb(114,114,114)" opacity="0.36"/>
<circle cx="433.0" cy="26.0" r="0.7" fill="rgb(71,71,71)" opacity="0.45"/>
<circle cx="432.9" cy="56.4" r="1.2" fill="rgb(128,128,128)" opacity="0.76"/>
<circle cx="420.9" cy="53.7" r="1.3" fill="rgb(98,98,98)" opacity="0.80"/>
<circle cx="423.1" cy="44.1" r="0.9" fill="rgb(25,25,25)" opacity="0.48"/>
<circle cx="433.0" cy="48.3" r="0.5" fill="rgb(34,34,34)" opacity="0.46"/>
<circle cx="420.0" cy="47.5" r="1.9" fill="none" stroke="rgb(62,62,62)" stroke-width="0.6" opacity="0.72"/>
<circle cx="432.9" cy="43.2" r="1.2" fill="rgb(54,54,54)" opacity="0.63"/>
<circle cx="404.9" cy="52.7" r="0.7" fill="rgb(85,85,85)" opacity="0.42"/>
<circle cx="443.5" cy="64.0" r="0.7" fill="rgb(100,100,100)" opacity="0.46"/>
<circle cx="414.0" cy="49.7" r="0.9" fill="rgb(77,77,77)" opacity="0.45"/>
<circle cx="446.8" cy="39.2" r="1.0" fill="rgb(92,92,92)" opacity="0.41"/>
<circle cx="415.8" cy="71.9" r="0.8" fill="rgb(165,165,165)" opacity="0.46"/>
<circle cx="453.7" cy="59.7" r="0.7" fill="rgb(104,104,104)" opacity="0.82"/>
<circle cx="436.4" cy="21.4" r="1.0" fill="rgb(189,189,189)" opacity="0.69"/>
<circle cx="416.3" cy="55.1" r="1.2" fill="rgb(77,77,77)" opacity="0.64"/>
<circle cx="414.1" cy="59.9" r="1.0" fill="rgb(86,86,86)" opacity="0.47"/>
<circle cx="432.4" cy="58.9" r="0.6" fill="rgb(53,53,53)" opacity="0.83"/>
<circle cx="428.6" cy="48.8" r="0.6" fill="rgb(80,80,80)" opacity="0.52"/>
<circle cx="418.0" cy="43.6" r="0.8" fill="rgb(86,86,86)" opacity="0.67"/>
<circle cx="459.4" cy="29.4" r="0.8" fill="rgb(121,121,121)" opacity="0.79"/>
<circle cx="425.4" cy="20.7" r="0.8" fill="rgb(95,95,95)" opacity="0.55"/>
<circle cx="442.9" cy="67.6" r="1.1" fill="rgb(125,125,125)" opacity="0.53"/>
<circle cx="415.6" cy="58.1" r="0.8" fill="rgb(104,104,104)" opacity="0.76"/>
<circle cx="450.2" cy="35.1" r="1.2" fill="rgb(110,110,110)" opacity="0.47"/>
<circle cx="443.6" cy="52.6" r="1.3" fill="rgb(142,142,142)" opacity="0.79"/>
<circle cx="424.1" cy="79.6" r="0.8" fill="rgb(127,127,127)" opacity="0.81"/>
<circle cx="439.0" cy="48.8" r="1.1" fill="rgb(63,63,63)" opacity="0.81"/>
<circle cx="417.3" cy="19.0" r="0.8" fill="rgb(130,130,130)" opacity="0.38"/>
<circle cx="449.1" cy="38.0" r="0.9" fill="rgb(107,107,107)" opacity="0.67"/>
<circle cx="428.7" cy="34.9" r="1.3" fill="none" stroke="rgb(86,86,86)" stroke-width="0.6" opacity="0.57"/>
<circle cx="405.1" cy="39.0" r="1.3" fill="rgb(98,98,98)" opacity="0.37"/>
<circle cx="415.0" cy="53.3" r="1.1" fill="rgb(106,106,106)" opacity="0.78"/>
<circle cx="413.5" cy="44.8" r="1.3" fill="rgb(25,25,25)" opacity="0.58"/>
<circle cx="434.2" cy="50.8" r="0.9" fill="rgb(58,58,58)" opacity="0.43"/>
<circle cx="412.1" cy="44.2" r="0.9" fill="rgb(105,105,105)" opacity="0.45"/>
<circle cx="414.0" cy="51.1" r="1.3" fill="rgb(104,104,104)" opacity="0.65"/>
<circle cx="452.3" cy="47.8" r="1.1" fill="rgb(112,112,112)" opacity="0.84"/>
<circle cx="425.5" cy="25.8" r="1.8" fill="none" stroke="rgb(139,139,139)" stroke-width="0.6" opacity="0.58"/>
<circle cx="425.2" cy="30.3" r="0.6" fill="rgb(88,88,88)" opacity="0.50"/>
<circle cx="453.8" cy="26.7" r="0.8" fill="rgb(71,71,71)" opacity="0.68"/>
<circle cx="420.2" cy="67.9" r="0.7" fill="rgb(108,108,108)" opacity="0.62"/>
<circle cx="430.5" cy="34.0" r="1.2" fill="rgb(118,118,118)" opacity="0.83"/>
<circle cx="422.2" cy="53.4" r="0.6" fill="rgb(108,108,108)" opacity="0.46"/>
<circle cx="428.2" cy="51.8" r="1.1" fill="rgb(58,58,58)" opacity="0.77"/>
<circle cx="390.3" cy="28.8" r="0.5" fill="rgb(160,160,160)" opacity="0.73"/>
<circle cx="437.0" cy="37.5" r="0.9" fill="rgb(43,43,43)" opacity="0.57"/>
<circle cx="432.2" cy="48.2" r="1.1" fill="rgb(51,51,51)" opacity="0.72"/>
<circle cx="442.3" cy="57.2" r="1.1" fill="rgb(78,78,78)" opacity="0.39"/>
<circle cx="438.5" cy="60.0" r="1.1" fill="rgb(56,56,56)" opacity="0.44"/>
<circle cx="407.6" cy="83.1" r="0.7" fill="rgb(187,187,187)" opacity="0.70"/>
<circle cx="412.7" cy="76.8" r="0.7" fill="rgb(130,130,130)" opacity="0.84"/>
<circle cx="430.6" cy="36.9" r="1.1" fill="rgb(135,135,135)" opacity="0.69"/>
<circle cx="415.0" cy="30.0" r="1.1" fill="rgb(151,151,151)" opacity="0.70"/>
<circle cx="434.2" cy="30.0" r="1.3" fill="rgb(102,102,102)" opacity="0.56"/>
<circle cx="404.7" cy="48.7" r="0.9" fill="rgb(150,150,150)" opacity="0.82"/>
<circle cx="424.1" cy="53.2" r="0.8" fill="rgb(48,48,48)" opacity="0.54"/>
<circle cx="429.1" cy="42.1" r="0.6" fill="rgb(50,50,50)" opacity="0.72"/>
<circle cx="431.8" cy="36.6" r="1.0" fill="rgb(110,110,110)" opacity="0.82"/>
<circle cx="410.2" cy="6.2" r="0.6" fill="rgb(117,117,117)" opacity="0.48"/>
<circle cx="427.3" cy="69.7" r="1.0" fill="rgb(132,132,132)" opacity="0.50"/>
<circle cx="428.1" cy="34.9" r="0.5" fill="rgb(47,47,47)" opacity="0.56"/>
<circle cx="416.2" cy="50.0" r="1.3" fill="rgb(93,93,93)" opacity="0.48"/>
<circle cx="439.7" cy="61.7" r="0.9" fill="rgb(133,133,133)" opacity="0.55"/>
<circle cx="423.4" cy="33.5" r="0.9" fill="rgb(64,64,64)" opacity="0.46"/>
<circle cx="435.8" cy="52.4" r="1.2" fill="rgb(42,42,42)" opacity="0.72"/>
<circle cx="446.1" cy="39.2" r="1.1" fill="rgb(144,144,144)" opacity="0.37"/>
<circle cx="428.2" cy="38.1" r="0.9" fill="rgb(85,85,85)" opacity="0.72"/>
<circle cx="443.0" cy="38.1" r="0.8" fill="rgb(131,131,131)" opacity="0.66"/>
<circle cx="444.0" cy="24.1" r="1.1" fill="rgb(127,127,127)" opacity="0.82"/>
<circle cx="413.7" cy="59.2" r="0.5" fill="rgb(133,133,133)" opacity="0.38"/>
<circle cx="426.3" cy="61.1" r="0.6" fill="rgb(88,88,88)" opacity="0.49"/>
<circle cx="428.5" cy="24.5" r="0.8" fill="rgb(152,152,152)" opacity="0.53"/>
<circle cx="390.4" cy="78.8" r="0.8" fill="rgb(171,171,171)" opacity="0.82"/>
<circle cx="430.6" cy="20.4" r="0.7" fill="rgb(104,104,104)" opacity="0.56"/>
<circle cx="410.2" cy="36.9" r="1.2" fill="rgb(88,88,88)" opacity="0.54"/>
<circle cx="385.9" cy="53.4" r="0.6" fill="rgb(145,145,145)" opacity="0.38"/>
<circle cx="417.8" cy="58.5" r="1.0" fill="rgb(68,68,68)" opacity="0.36"/>
<circle cx="427.6" cy="71.3" r="1.3" fill="rgb(104,104,104)" opacity="0.37"/>
<circle cx="434.7" cy="31.3" r="0.8" fill="rgb(36,36,36)" opacity="0.50"/>
<circle cx="407.0" cy="50.4" r="0.8" fill="rgb(106,106,106)" opacity="0.67"/>
<circle cx="428.8" cy="31.0" r="1.5" fill="none" stroke="rgb(25,25,25)" stroke-width="0.6" opacity="0.84"/>
<circle cx="427.4" cy="50.6" r="0.7" fill="rgb(79,79,79)" opacity="0.46"/>
<circle cx="414.7" cy="68.3" r="0.6" fill="rgb(125,125,125)" opacity="0.82"/>
<circle cx="423.8" cy="45.7" r="1.1" fill="rgb(96,96,96)" opacity="0.69"/>
<circle cx="429.2" cy="43.5" r="1.0" fill="rgb(110,110,110)" opacity="0.74"/>
<circle cx="435.8" cy="39.3" r="1.0" fill="rgb(60,60,60)" opacity="0.59"/>
<circle cx="403.1" cy="65.0" r="1.2" fill="rgb(157,157,157)" opacity="0.78"/>
<circle cx="440.7" cy="35.8" r="0.9" fill="rgb(119,119,119)" opacity="0.68"/>
<circle cx="403.3" cy="46.6" r="0.6" fill="rgb(114,114,114)" opacity="0.85"/>
<circle cx="450.1" cy="44.8" r="0.6" fill="rgb(160,160,160)" opacity="0.71"/>
<circle cx="427.1" cy="64.7" r="1.9" fill="none" stroke="rgb(91,91,91)" stroke-width="0.6" opacity="0.77"/>
<circle cx="437.6" cy="79.3" r="0.5" fill="rgb(172,172,172)" opacity="0.74"/>
<circle cx="426.1" cy="73.6" r="0.6" fill="rgb(123,123,123)" opacity="0.62"/>
<circle cx="461.0" cy="47.0" r="0.8" fill="rgb(111,111,111)" opacity="0.73"/>
<circle cx="435.2" cy="53.9" r="1.6" fill="none" stroke="rgb(138,138,138)" stroke-width="0.6" opacity="0.61"/>
<circle cx="430.2" cy="75.8" r="1.1" fill="rgb(151,151,151)" opacity="0.46"/>
<circle cx="412.5" cy="49.0" r="0.9" fill="rgb(29,29,29)" opacity="0.43"/>
<circle cx="443.0" cy="26.0" r="1.6" fill="none" stroke="rgb(102,102,102)" stroke-width="0.6" opacity="0.41"/>
<circle cx="402.2" cy="18.6" r="0.8" fill="rgb(170,170,170)" opacity="0.62"/>
<circle cx="416.3" cy="36.9" r="0.7" fill="rgb(78,78,78)" opacity="0.82"/>
<circle cx="445.4" cy="37.6" r="1.1" fill="rgb(117,117,117)" opacity="0.56"/>
<circle cx="453.8" cy="49.1" r="0.5" fill="rgb(78,78,78)" opacity="0.40"/>
<circle cx="406.8" cy="48.2" r="1.0" fill="rgb(88,88,88)" opacity="0.77"/>
<circle cx="425.0" cy="39.5" r="1.0" fill="rgb(133,133,133)" opacity="0.38"/>
<circle cx="453.3" cy="65.0" r="0.6" fill="rgb(160,160,160)" opacity="0.54"/>
<circle cx="440.6" cy="42.9" r="1.2" fill="rgb(84,84,84)" opacity="0.84"/>
<circle cx="445.4" cy="71.2" r="0.6" fill="rgb(156,156,156)" opacity="0.57"/>
<circle cx="434.8" cy="31.3" r="1.3" fill="none" stroke="rgb(91,91,91)" stroke-width="0.6" opacity="0.85"/>
<circle cx="428.4" cy="64.8" r="1.0" fill="rgb(119,119,119)" opacity="0.45"/>
<circle cx="420.1" cy="38.7" r="1.2" fill="rgb(69,69,69)" opacity="0.75"/>
<circle cx="436.6" cy="31.2" r="0.9" fill="rgb(107,107,107)" opacity="0.44"/>
<circle cx="431.7" cy="72.0" r="1.2" fill="rgb(116,116,116)" opacity="0.68"/>
<circle cx="420.6" cy="43.7" r="1.1" fill="rgb(107,107,107)" opacity="0.75"/>
<circle cx="415.4" cy="52.2" r="0.8" fill="rgb(72,72,72)" opacity="0.82"/>
<circle cx="414.0" cy="55.4" r="1.1" fill="none" stroke="rgb(112,112,112)" stroke-width="0.6" opacity="0.50"/>
<circle cx="441.7" cy="36.5" r="1.0" fill="rgb(107,107,107)" opacity="0.48"/>
<circle cx="440.2" cy="55.5" r="0.7" fill="rgb(125,125,125)" opacity="0.53"/>
<circle cx="434.4" cy="36.5" r="1.1" fill="rgb(92,92,92)" opacity="0.69"/>
<circle cx="444.3" cy="45.2" r="1.1" fill="rgb(95,95,95)" opacity="0.45"/>
<circle cx="456.9" cy="71.2" r="1.3" fill="rgb(94,94,94)" opacity="0.52"/>
<circle cx="449.7" cy="53.1" r="1.3" fill="rgb(146,146,146)" opacity="0.71"/>
<circle cx="428.2" cy="41.5" r="0.9" fill="rgb(71,71,71)" opacity="0.70"/>
<circle cx="422.1" cy="32.5" r="0.8" fill="rgb(25,25,25)" opacity="0.38"/>
<circle cx="390.6" cy="63.9" r="1.1" fill="rgb(138,138,138)" opacity="0.51"/>
<circle cx="424.8" cy="42.4" r="0.7" fill="rgb(103,103,103)" opacity="0.78"/>
<circle cx="430.5" cy="49.4" r="0.8" fill="rgb(128,128,128)" opacity="0.40"/>
<circle cx="418.0" cy="39.9" r="0.6" fill="rgb(80,80,80)" opacity="0.37"/>
<circle cx="435.6" cy="54.6" r="0.7" fill="rgb(117,117,117)" opacity="0.72"/>
<circle cx="417.2" cy="52.9" r="0.7" fill="rgb(25,25,25)" opacity="0.65"/>
<circle cx="431.0" cy="37.4" r="0.7" fill="rgb(138,138,138)" opacity="0.60"/>
<circle cx="421.4" cy="28.9" r="0.6" fill="rgb(96,96,96)" opacity="0.81"/>
<circle cx="451.1" cy="32.8" r="0.6" fill="rgb(124,124,124)" opacity="0.49"/>
<circle cx="438.3" cy="36.5" r="0.9" fill="rgb(80,80,80)" opacity="0.70"/>
<circle cx="395.9" cy="58.6" r="1.2" fill="rgb(113,113,113)" opacity="0.81"/>
<circle cx="449.1" cy="55.9" r="0.7" fill="rgb(65,65,65)" opacity="0.72"/>
<circle cx="416.5" cy="55.8" r="1.0" fill="rgb(61,61,61)" opacity="0.84"/>
<circle cx="431.7" cy="50.9" r="1.3" fill="rgb(35,35,35)" opacity="0.47"/>
<circle cx="446.1" cy="27.9" r="1.1" fill="rgb(166,166,166)" opacity="0.59"/>
<circle cx="435.3" cy="38.3" r="1.1" fill="none" stroke="rgb(156,156,156)" stroke-width="0.6" opacity="0.76"/>
<circle cx="426.3" cy="47.3" r="1.5" fill="none" stroke="rgb(43,43,43)" stroke-width="0.6" opacity="0.66"/>
<circle cx="406.1" cy="51.5" r="1.0" fill="rgb(99,99,99)" opacity="0.56"/>
<circle cx="444.7" cy="38.1" r="0.7" fill="rgb(109,109,109)" opacity="0.57"/>
<circle cx="438.4" cy="67.5" r="1.2" fill="rgb(113,113,113)" opacity="0.84"/>
<circle cx="444.8" cy="75.7" r="0.8" fill="rgb(171,171,171)" opacity="0.52"/>
<circle cx="399.6" cy="59.7" r="0.8" fill="rgb(163,163,163)" opacity="0.37"/>
<circle cx="409.5" cy="32.7" r="0.8" fill="rgb(100,100,100)" opacity="0.39"/>
<circle cx="423.5" cy="30.1" r="1.2" fill="none" stroke="rgb(57,57,57)" stroke-width="0.6" opacity="0.66"/>
<circle cx="420.8" cy="20.7" r="0.8" fill="rgb(92,92,92)" opacity="0.64"/>
<circle cx="454.6" cy="30.0" r="0.7" fill="rgb(99,99,99)" opacity="0.67"/>
<circle cx="420.6" cy="70.1" r="1.3" fill="rgb(194,194,194)" opacity="0.37"/>
<circle cx="421.6" cy="51.5" r="1.0" fill="rgb(92,92,92)" opacity="0.78"/>
<circle cx="437.9" cy="31.1" r="1.3" fill="rgb(132,132,132)" opacity="0.52"/>
<circle cx="431.8" cy="53.7" r="0.9" fill="rgb(28,28,28)" opacity="0.47"/>
<circle cx="418.3" cy="54.4" r="0.7" fill="rgb(93,93,93)" opacity="0.39"/>
<circle cx="421.3" cy="53.7" r="1.3" fill="rgb(124,124,124)" opacity="0.81"/>
<circle cx="441.5" cy="43.4" r="0.6" fill="rgb(118,118,118)" opacity="0.83"/>
<circle cx="426.4" cy="61.5" r="0.5" fill="rgb(115,115,115)" opacity="0.43"/>
<circle cx="445.8" cy="54.6" r="1.1" fill="rgb(121,121,121)" opacity="0.55"/>
<circle cx="407.5" cy="54.7" r="0.6" fill="rgb(159,159,159)" opacity="0.75"/>
<circle cx="401.3" cy="36.9" r="1.2" fill="rgb(113,113,113)" opacity="0.36"/>
<circle cx="435.5" cy="32.5" r="1.6" fill="none" stroke="rgb(113,113,113)" stroke-width="0.6" opacity="0.56"/>
<circle cx="437.8" cy="67.6" r="1.6" fill="none" stroke="rgb(144,144,144)" stroke-width="0.6" opacity="0.48"/>
<circle cx="428.9" cy="31.4" r="1.3" fill="rgb(57,57,57)" opacity="0.69"/>
<circle cx="419.1" cy="56.3" r="0.9" fill="rgb(69,69,69)" opacity="0.76"/>
<circle cx="409.8" cy="39.0" r="0.7" fill="rgb(103,103,103)" opacity="0.38"/>
<circle cx="430.2" cy="56.7" r="0.9" fill="rgb(80,80,80)" opacity="0.45"/>
<circle cx="398.5" cy="58.8" r="1.3" fill="rgb(90,90,90)" opacity="0.47"/>
<circle cx="427.6" cy="45.0" r="1.3" fill="rgb(72,72,72)" opacity="0.48"/>
<circle cx="444.9" cy="59.0" r="0.6" fill="rgb(68,68,68)" opacity="0.50"/>
<circle cx="439.3" cy="31.5" r="1.2" fill="rgb(70,70,70)" opacity="0.80"/>
<circle cx="429.5" cy="57.8" r="1.2" fill="none" stroke="rgb(76,76,76)" stroke-width="0.6" opacity="0.79"/>
<circle cx="412.9" cy="25.4" r="0.8" fill="rgb(132,132,132)" opacity="0.43"/>
<circle cx="429.1" cy="60.0" r="1.0" fill="rgb(75,75,75)" opacity="0.40"/>
<circle cx="398.1" cy="43.9" r="0.9" fill="rgb(131,131,131)" opacity="0.39"/>
<circle cx="433.2" cy="43.9" r="1.2" fill="rgb(45,45,45)" opacity="0.56"/>
<circle cx="446.5" cy="32.6" r="0.6" fill="rgb(191,191,191)" opacity="0.73"/>
<circle cx="413.7" cy="42.0" r="0.7" fill="rgb(76,76,76)" opacity="0.60"/>
<circle cx="429.2" cy="20.6" r="0.7" fill="rgb(126,126,126)" opacity="0.39"/>
<circle cx="419.6" cy="44.5" r="1.2" fill="rgb(82,82,82)" opacity="0.60"/>
<circle cx="426.4" cy="55.3" r="0.8" fill="rgb(98,98,98)" opacity="0.67"/>
<circle cx="421.2" cy="22.6" r="1.6" fill="none" stroke="rgb(136,136,136)" stroke-width="0.6" opacity="0.54"/>
<circle cx="436.9" cy="38.6" r="1.2" fill="rgb(49,49,49)" opacity="0.70"/>
<circle cx="411.1" cy="48.2" r="1.2" fill="rgb(132,132,132)" opacity="0.52"/>
<circle cx="411.0" cy="35.9" r="0.9" fill="rgb(76,76,76)" opacity="0.35"/>
<circle cx="409.3" cy="39.5" r="1.1" fill="rgb(110,110,110)" opacity="0.54"/>
<circle cx="408.2" cy="30.9" r="1.0" fill="rgb(76,76,76)" opacity="0.56"/>
<circle cx="415.1" cy="28.5" r="0.8" fill="rgb(91,91,91)" opacity="0.83"/>
<circle cx="437.7" cy="44.9" r="0.7" fill="rgb(107,107,107)" opacity="0.70"/>
<circle cx="429.9" cy="36.8" r="0.6" fill="rgb(101,101,101)" opacity="0.63"/>
<circle cx="399.5" cy="65.9" r="1.3" fill="rgb(187,187,187)" opacity="0.82"/>
<circle cx="429.9" cy="44.4" r="0.8" fill="rgb(96,96,96)" opacity="0.37"/>
<circle cx="436.8" cy="40.4" r="1.0" fill="rgb(75,75,75)" opacity="0.70"/>
<circle cx="417.3" cy="23.8" r="0.5" fill="rgb(121,121,121)" opacity="0.53"/>
<circle cx="431.4" cy="16.8" r="1.3" fill="rgb(104,104,104)" opacity="0.68"/>
<circle cx="412.7" cy="59.7" r="1.1" fill="rgb(87,87,87)" opacity="0.39"/>
<circle cx="417.1" cy="21.3" r="0.6" fill="rgb(131,131,131)" opacity="0.59"/>
<circle cx="419.3" cy="28.8" r="0.6" fill="rgb(131,131,131)" opacity="0.41"/>
<circle cx="428.2" cy="62.6" r="1.1" fill="rgb(102,102,102)" opacity="0.46"/>
<circle cx="421.3" cy="27.8" r="0.9" fill="rgb(84,84,84)" opacity="0.77"/>
<circle cx="427.4" cy="69.8" r="1.7" fill="none" stroke="rgb(131,131,131)" stroke-width="0.6" opacity="0.47"/>
<circle cx="409.2" cy="32.6" r="1.2" fill="rgb(128,128,128)" opacity="0.74"/>
<circle cx="461.4" cy="45.4" r="0.9" fill="rgb(119,119,119)" opacity="0.36"/>
<circle cx="427.0" cy="47.4" r="1.0" fill="rgb(52,52,52)" opacity="0.61"/>
<circle cx="404.1" cy="71.3" r="1.0" fill="rgb(154,154,154)" opacity="0.59"/>
<circle cx="420.7" cy="56.8" r="0.9" fill="rgb(63,63,63)" opacity="0.53"/>
<circle cx="432.8" cy="59.7" r="0.5" fill="rgb(132,132,132)" opacity="0.56"/>
<circle cx="422.2" cy="66.8" r="0.6" fill="rgb(143,143,143)" opacity="0.67"/>
<circle cx="438.2" cy="32.6" r="1.3" fill="rgb(124,124,124)" opacity="0.84"/>
<circle cx="416.5" cy="64.7" r="1.3" fill="rgb(104,104,104)" opacity="0.74"/>
<circle cx="423.1" cy="43.8" r="1.0" fill="rgb(36,36,36)" opacity="0.84"/>
<circle cx="424.6" cy="41.8" r="1.2" fill="rgb(35,35,35)" opacity="0.77"/>
<circle cx="427.4" cy="9.6" r="1.5" fill="none" stroke="rgb(141,141,141)" stroke-width="0.6" opacity="0.60"/>
<circle cx="415.0" cy="33.5" r="0.9" fill="rgb(96,96,96)" opacity="0.36"/>
<circle cx="464.0" cy="43.5" r="0.5" fill="rgb(161,161,161)" opacity="0.55"/>
<circle cx="460.2" cy="57.5" r="1.1" fill="rgb(204,204,204)" opacity="0.54"/>
<circle cx="455.9" cy="51.8" r="0.7" fill="rgb(111,111,111)" opacity="0.42"/>
<circle cx="436.8" cy="31.1" r="1.4" fill="none" stroke="rgb(76,76,76)" stroke-width="0.6" opacity="0.50"/>
<circle cx="415.1" cy="44.3" r="0.5" fill="rgb(61,61,61)" opacity="0.51"/>
<circle cx="431.5" cy="6.4" r="1.0" fill="rgb(207,207,207)" opacity="0.53"/>
<circle cx="438.8" cy="22.2" r="1.3" fill="rgb(154,154,154)" opacity="0.77"/>
<circle cx="433.7" cy="26.5" r="1.1" fill="rgb(104,104,104)" opacity="0.70"/>
<circle cx="453.4" cy="43.7" r="0.8" fill="rgb(125,125,125)" opacity="0.35"/>
<circle cx="427.3" cy="42.6" r="0.8" fill="rgb(61,61,61)" opacity="0.44"/>
<circle cx="446.5" cy="68.5" r="0.6" fill="rgb(131,131,131)" opacity="0.50"/>
<circle cx="428.0" cy="50.9" r="1.0" fill="rgb(41,41,41)" opacity="0.65"/>
<circle cx="402.1" cy="15.9" r="0.6" fill="rgb(177,177,177)" opacity="0.70"/>
<circle cx="431.7" cy="42.3" r="1.2" fill="rgb(86,86,86)" opacity="0.58"/>
<circle cx="456.3" cy="75.4" r="1.2" fill="rgb(168,168,168)" opacity="0.40"/>
<circle cx="414.0" cy="32.8" r="0.8" fill="rgb(51,51,51)" opacity="0.39"/>
<circle cx="454.3" cy="48.2" r="1.1" fill="rgb(110,110,110)" opacity="0.77"/>
<circle cx="420.2" cy="41.1" r="1.3" fill="rgb(80,80,80)" opacity="0.38"/>
<circle cx="436.0" cy="42.4" r="1.3" fill="rgb(97,97,97)" opacity="0.74"/>
<circle cx="422.7" cy="50.6" r="1.3" fill="rgb(41,41,41)" opacity="0.83"/>
<circle cx="413.1" cy="42.2" r="0.6" fill="rgb(64,64,64)" opacity="0.45"/>
<circle cx="408.6" cy="58.6" r="1.4" fill="none" stroke="rgb(91,91,91)" stroke-width="0.6" opacity="0.52"/>
<circle cx="401.7" cy="46.2" r="1.2" fill="rgb(181,181,181)" opacity="0.39"/>
<circle cx="424.3" cy="37.0" r="1.3" fill="rgb(121,121,121)" opacity="0.59"/>
<circle cx="440.2" cy="31.7" r="0.6" fill="rgb(65,65,65)" opacity="0.56"/>
<circle cx="423.1" cy="66.8" r="1.1" fill="rgb(125,125,125)" opacity="0.81"/>
<circle cx="420.4" cy="45.6" r="1.0" fill="rgb(25,25,25)" opacity="0.74"/>
<circle cx="406.7" cy="29.5" r="0.7" fill="rgb(106,106,106)" opacity="0.57"/>
<circle cx="435.1" cy="40.2" r="1.2" fill="none" stroke="rgb(140,140,140)" stroke-width="0.6" opacity="0.38"/>
<circle cx="418.1" cy="53.0" r="1.2" fill="rgb(68,68,68)" opacity="0.66"/>
<circle cx="421.6" cy="28.0" r="0.9" fill="rgb(122,122,122)" opacity="0.53"/>
<circle cx="433.7" cy="40.7" r="1.1" fill="rgb(76,76,76)" opacity="0.41"/>
<circle cx="458.6" cy="31.1" r="0.9" fill="rgb(178,178,178)" opacity="0.44"/>
<circle cx="472.4" cy="50.9" r="1.1" fill="rgb(186,186,186)" opacity="0.82"/>
<circle cx="436.0" cy="57.8" r="1.0" fill="rgb(25,25,25)" opacity="0.58"/>
<circle cx="435.5" cy="48.5" r="1.2" fill="rgb(46,46,46)" opacity="0.52"/>
<circle cx="439.1" cy="54.9" r="1.0" fill="rgb(144,144,144)" opacity="0.80"/>
<circle cx="426.6" cy="42.4" r="1.3" fill="rgb(84,84,84)" opacity="0.55"/>
<circle cx="417.0" cy="46.3" r="0.5" fill="rgb(81,81,81)" opacity="0.52"/>
<circle cx="432.2" cy="38.6" r="0.9" fill="rgb(105,105,105)" opacity="0.39"/>
<circle cx="437.5" cy="20.4" r="0.8" fill="rgb(110,110,110)" opacity="0.58"/>
<circle cx="427.0" cy="65.1" r="1.2" fill="rgb(106,106,106)" opacity="0.59"/>
<circle cx="424.7" cy="35.0" r="1.3" fill="rgb(66,66,66)" opacity="0.80"/>
<circle cx="425.0" cy="32.2" r="0.7" fill="rgb(82,82,82)" opacity="0.71"/>
<circle cx="405.3" cy="18.7" r="0.9" fill="rgb(160,160,160)" opacity="0.66"/>
<circle cx="414.7" cy="66.2" r="1.3" fill="rgb(131,131,131)" opacity="0.44"/>
<circle cx="423.7" cy="55.8" r="1.5" fill="none" stroke="rgb(54,54,54)" stroke-width="0.6" opacity="0.41"/>
<circle cx="426.5" cy="17.9" r="0.7" fill="rgb(97,97,97)" opacity="0.59"/>
<circle cx="419.6" cy="62.5" r="1.1" fill="rgb(68,68,68)" opacity="0.75"/>
<circle cx="433.9" cy="74.3" r="1.2" fill="rgb(96,96,96)" opacity="0.74"/>
<circle cx="435.5" cy="40.1" r="1.3" fill="rgb(60,60,60)" opacity="0.70"/>
<circle cx="426.4" cy="84.7" r="0.6" fill="rgb(160,160,160)" opacity="0.42"/>
<circle cx="451.7" cy="30.3" r="0.5" fill="rgb(135,135,135)" opacity="0.83"/>
<circle cx="449.4" cy="52.9" r="0.5" fill="rgb(96,96,96)" opacity="0.68"/>
<circle cx="434.3" cy="43.6" r="1.0" fill="rgb(66,66,66)" opacity="0.61"/>
<circle cx="444.6" cy="24.7" r="1.1" fill="rgb(157,157,157)" opacity="0.82"/>
<circle cx="410.7" cy="45.3" r="0.8" fill="rgb(90,90,90)" opacity="0.45"/>
<circle cx="400.9" cy="51.8" r="1.1" fill="rgb(158,158,158)" opacity="0.72"/>
<circle cx="433.8" cy="61.7" r="0.7" fill="rgb(102,102,102)" opacity="0.41"/>
<circle cx="413.4" cy="49.0" r="0.6" fill="rgb(88,88,88)" opacity="0.74"/>
<circle cx="441.8" cy="53.0" r="1.3" fill="rgb(52,52,52)" opacity="0.76"/>
<circle cx="417.6" cy="31.2" r="1.3" fill="rgb(160,160,160)" opacity="0.72"/>
<circle cx="426.7" cy="44.5" r="0.5" fill="rgb(46,46,46)" opacity="0.36"/>
<circle cx="433.6" cy="45.4" r="1.3" fill="rgb(88,88,88)" opacity="0.47"/>
<circle cx="432.5" cy="35.8" r="0.5" fill="rgb(61,61,61)" opacity="0.48"/>
<circle cx="436.6" cy="40.1" r="1.3" fill="rgb(72,72,72)" opacity="0.64"/>
<circle cx="410.5" cy="54.6" r="0.8" fill="rgb(89,89,89)" opacity="0.46"/>
<circle cx="431.5" cy="38.6" r="1.3" fill="rgb(61,61,61)" opacity="0.64"/>
<circle cx="397.9" cy="41.8" r="0.9" fill="rgb(123,123,123)" opacity="0.59"/>
<circle cx="442.4" cy="55.2" r="1.8" fill="none" stroke="rgb(68,68,68)" stroke-width="0.6" opacity="0.65"/>
<circle cx="435.6" cy="69.0" r="1.2" fill="rgb(165,165,165)" opacity="0.70"/>
<circle cx="420.1" cy="36.8" r="0.6" fill="rgb(53,53,53)" opacity="0.84"/>
<circle cx="449.5" cy="55.5" r="0.7" fill="rgb(160,160,160)" opacity="0.47"/>
<circle cx="429.1" cy="55.0" r="0.6" fill="rgb(41,41,41)" opacity="0.36"/>
<circle cx="444.5" cy="43.3" r="1.6" fill="none" stroke="rgb(87,87,87)" stroke-width="0.6" opacity="0.54"/>
<circle cx="453.5" cy="32.6" r="0.6" fill="rgb(141,141,141)" opacity="0.51"/>
<circle cx="419.2" cy="23.8" r="1.0" fill="rgb(141,141,141)" opacity="0.58"/>
<circle cx="392.3" cy="38.5" r="1.0" fill="rgb(160,160,160)" opacity="0.67"/>
<circle cx="411.3" cy="28.0" r="0.8" fill="rgb(85,85,85)" opacity="0.83"/>
<circle cx="433.2" cy="43.7" r="0.7" fill="rgb(67,67,67)" opacity="0.83"/>
<circle cx="418.4" cy="49.0" r="0.8" fill="rgb(62,62,62)" opacity="0.36"/>
<circle cx="394.3" cy="59.9" r="0.7" fill="rgb(133,133,133)" opacity="0.81"/>
<circle cx="415.3" cy="19.8" r="1.8" fill="none" stroke="rgb(66,66,66)" stroke-width="0.6" opacity="0.62"/>
<circle cx="434.2" cy="57.8" r="0.8" fill="rgb(86,86,86)" opacity="0.74"/>
<circle cx="438.7" cy="27.6" r="0.6" fill="rgb(123,123,123)" opacity="0.74"/>
<circle cx="423.8" cy="40.5" r="0.9" fill="rgb(40,40,40)" opacity="0.80"/>
<circle cx="452.9" cy="45.7" r="1.2" fill="rgb(147,147,147)" opacity="0.82"/>
<circle cx="416.5" cy="31.0" r="0.5" fill="rgb(113,113,113)" opacity="0.64"/>
<circle cx="427.6" cy="54.0" r="1.6" fill="none" stroke="rgb(89,89,89)" stroke-width="0.6" opacity="0.40"/>
<circle cx="430.1" cy="46.2" r="1.3" fill="rgb(68,68,68)" opacity="0.58"/>
<circle cx="422.0" cy="63.1" r="0.8" fill="rgb(112,112,112)" opacity="0.85"/>
<circle cx="441.8" cy="26.9" r="0.7" fill="rgb(123,123,123)" opacity="0.79"/>
<circle cx="433.7" cy="55.3" r="0.6" fill="rgb(46,46,46)" opacity="0.70"/>
<circle cx="437.3" cy="38.1" r="1.3" fill="rgb(114,114,114)" opacity="0.57"/>
<circle cx="426.8" cy="-3.0" r="1.2" fill="rgb(137,137,137)" opacity="0.70"/>
<circle cx="426.5" cy="60.6" r="0.5" fill="rgb(105,105,105)" opacity="0.73"/>
<circle cx="437.9" cy="45.5" r="0.9" fill="rgb(49,49,49)" opacity="0.83"/>
<circle cx="431.6" cy="60.7" r="0.8" fill="rgb(98,98,98)" opacity="0.67"/>
<circle cx="412.5" cy="41.4" r="1.1" fill="rgb(100,100,100)" opacity="0.38"/>
<circle cx="442.1" cy="46.5" r="1.1" fill="rgb(114,114,114)" opacity="0.39"/>
<circle cx="434.0" cy="42.8" r="0.6" fill="rgb(59,59,59)" opacity="0.76"/>
<circle cx="440.4" cy="46.0" r="1.2" fill="rgb(98,98,98)" opacity="0.36"/>
<circle cx="425.4" cy="31.1" r="1.1" fill="rgb(104,104,104)" opacity="0.76"/>
<circle cx="402.7" cy="60.2" r="1.3" fill="rgb(120,120,120)" opacity="0.53"/>
<circle cx="446.2" cy="32.1" r="0.7" fill="rgb(85,85,85)" opacity="0.45"/>
<circle cx="415.7" cy="54.1" r="1.1" fill="rgb(131,131,131)" opacity="0.60"/>
<circle cx="416.2" cy="35.3" r="0.7" fill="rgb(109,109,109)" opacity="0.51"/>
<circle cx="434.5" cy="46.9" r="1.2" fill="rgb(72,72,72)" opacity="0.49"/>
<circle cx="433.1" cy="63.3" r="1.2" fill="rgb(103,103,103)" opacity="0.65"/>
<circle cx="431.5" cy="34.9" r="1.3" fill="rgb(95,95,95)" opacity="0.77"/>
<circle cx="415.1" cy="49.7" r="0.6" fill="rgb(90,90,90)" opacity="0.45"/>
<circle cx="420.8" cy="33.4" r="1.5" fill="none" stroke="rgb(68,68,68)" stroke-width="0.6" opacity="0.84"/>
<circle cx="433.4" cy="29.4" r="0.9" fill="rgb(107,107,107)" opacity="0.45"/>
<circle cx="459.6" cy="39.0" r="1.3" fill="rgb(146,146,146)" opacity="0.60"/>
<circle cx="424.3" cy="36.8" r="0.7" fill="rgb(28,28,28)" opacity="0.41"/>
<circle cx="421.3" cy="29.2" r="1.8" fill="none" stroke="rgb(82,82,82)" stroke-width="0.6" opacity="0.41"/>
<circle cx="440.7" cy="44.5" r="1.3" fill="rgb(172,172,172)" opacity="0.43"/>
<circle cx="429.2" cy="70.6" r="0.7" fill="rgb(133,133,133)" opacity="0.41"/>
<circle cx="431.1" cy="77.0" r="0.9" fill="rgb(125,125,125)" opacity="0.83"/>
<circle cx="437.4" cy="47.0" r="0.8" fill="rgb(84,84,84)" opacity="0.68"/>
<circle cx="456.6" cy="40.1" r="1.1" fill="rgb(42,42,42)" opacity="0.45"/>
<circle cx="422.3" cy="52.1" r="0.8" fill="rgb(51,51,51)" opacity="0.73"/>
<circle cx="421.8" cy="53.1" r="1.2" fill="rgb(54,54,54)" opacity="0.54"/>
<circle cx="430.9" cy="32.9" r="1.0" fill="rgb(94,94,94)" opacity="0.40"/>
<circle cx="441.0" cy="44.7" r="1.3" fill="rgb(81,81,81)" opacity="0.46"/>
<circle cx="428.8" cy="63.1" r="1.3" fill="rgb(101,101,101)" opacity="0.73"/>
<circle cx="433.8" cy="57.4" r="1.1" fill="rgb(75,75,75)" opacity="0.42"/>
<circle cx="394.6" cy="32.9" r="1.0" fill="rgb(160,160,160)" opacity="0.45"/>
<circle cx="432.9" cy="67.6" r="0.9" fill="rgb(125,125,125)" opacity="0.84"/>
<circle cx="427.9" cy="36.5" r="1.2" fill="rgb(141,141,141)" opacity="0.56"/>
<circle cx="417.9" cy="35.9" r="1.1" fill="rgb(120,120,120)" opacity="0.60"/>
<circle cx="443.4" cy="38.8" r="0.8" fill="rgb(122,122,122)" opacity="0.66"/>
<circle cx="460.0" cy="48.3" r="1.0" fill="rgb(139,139,139)" opacity="0.54"/>
<circle cx="431.7" cy="37.0" r="1.3" fill="rgb(110,110,110)" opacity="0.57"/>
<circle cx="454.3" cy="79.2" r="1.0" fill="rgb(163,163,163)" opacity="0.63"/>
<circle cx="463.5" cy="52.2" r="1.2" fill="rgb(87,87,87)" opacity="0.72"/>
<circle cx="434.9" cy="53.0" r="1.6" fill="none" stroke="rgb(87,87,87)" stroke-width="0.6" opacity="0.77"/>
<circle cx="424.7" cy="46.5" r="1.1" fill="rgb(39,39,39)" opacity="0.61"/>
<circle cx="427.2" cy="37.6" r="1.3" fill="rgb(25,25,25)" opacity="0.69"/>
<circle cx="420.1" cy="41.2" r="1.0" fill="rgb(69,69,69)" opacity="0.57"/>
<circle cx="394.0" cy="56.2" r="0.7" fill="rgb(142,142,142)" opacity="0.78"/>
<circle cx="378.0" cy="33.0" r="0.6" fill="rgb(214,214,214)" opacity="0.46"/>
<circle cx="429.3" cy="72.2" r="0.7" fill="rgb(154,154,154)" opacity="0.77"/>
<circle cx="413.8" cy="31.3" r="1.0" fill="rgb(147,147,147)" opacity="0.54"/>
<circle cx="420.5" cy="42.6" r="1.9" fill="none" stroke="rgb(85,85,85)" stroke-width="0.6" opacity="0.45"/>
<circle cx="422.0" cy="20.0" r="0.8" fill="rgb(139,139,139)" opacity="0.66"/>
<circle cx="415.5" cy="30.5" r="1.3" fill="rgb(102,102,102)" opacity="0.77"/>
<circle cx="426.5" cy="59.9" r="0.7" fill="rgb(137,137,137)" opacity="0.80"/>
<circle cx="423.1" cy="40.9" r="0.6" fill="rgb(107,107,107)" opacity="0.69"/>
<circle cx="431.9" cy="81.6" r="1.2" fill="rgb(135,135,135)" opacity="0.74"/>
<circle cx="422.9" cy="19.4" r="0.6" fill="rgb(131,131,131)" opacity="0.37"/>
<circle cx="432.4" cy="41.7" r="0.6" fill="rgb(96,96,96)" opacity="0.51"/>
<circle cx="406.7" cy="32.0" r="0.9" fill="rgb(125,125,125)" opacity="0.41"/>
<circle cx="413.2" cy="44.7" r="1.2" fill="rgb(110,110,110)" opacity="0.60"/>
<circle cx="417.8" cy="45.4" r="0.5" fill="rgb(80,80,80)" opacity="0.45"/>
<circle cx="423.5" cy="52.8" r="1.3" fill="rgb(97,97,97)" opacity="0.66"/>
<circle cx="449.2" cy="43.5" r="0.9" fill="rgb(151,151,151)" opacity="0.84"/>
<circle cx="438.4" cy="60.7" r="0.9" fill="rgb(89,89,89)" opacity="0.74"/>
<circle cx="431.0" cy="85.1" r="1.0" fill="rgb(141,141,141)" opacity="0.43"/>
<circle cx="426.5" cy="47.7" r="1.1" fill="rgb(26,26,26)" opacity="0.52"/>
<circle cx="413.2" cy="26.6" r="1.2" fill="rgb(134,134,134)" opacity="0.57"/>
<circle cx="418.3" cy="53.2" r="1.0" fill="rgb(40,40,40)" opacity="0.58"/>
<circle cx="420.3" cy="54.8" r="1.3" fill="rgb(122,122,122)" opacity="0.85"/>
<circle cx="432.1" cy="69.0" r="0.6" fill="rgb(173,173,173)" opacity="0.42"/>
<circle cx="438.5" cy="37.7" r="0.8" fill="rgb(115,115,115)" opacity="0.70"/>
<circle cx="425.2" cy="37.4" r="1.1" fill="rgb(74,74,74)" opacity="0.80"/>
<circle cx="438.7" cy="36.2" r="0.8" fill="rgb(118,118,118)" opacity="0.51"/>
<circle cx="424.6" cy="42.2" r="0.7" fill="rgb(88,88,88)" opacity="0.43"/>
<circle cx="428.1" cy="63.8" r="1.3" fill="rgb(95,95,95)" opacity="0.68"/>
<circle cx="416.7" cy="61.3" r="1.1" fill="rgb(75,75,75)" opacity="0.44"/>
<circle cx="411.7" cy="52.0" r="0.6" fill="rgb(148,148,148)" opacity="0.71"/>
<circle cx="438.2" cy="38.9" r="1.2" fill="rgb(46,46,46)" opacity="0.84"/>
<circle cx="422.3" cy="42.8" r="1.2" fill="rgb(25,25,25)" opacity="0.44"/>
<circle cx="439.0" cy="30.3" r="0.7" fill="rgb(63,63,63)" opacity="0.81"/>
<circle cx="438.0" cy="31.5" r="1.2" fill="rgb(109,109,109)" opacity="0.74"/>
<circle cx="417.8" cy="38.8" r="1.1" fill="rgb(55,55,55)" opacity="0.83"/>
<circle cx="418.1" cy="44.3" r="0.7" fill="rgb(70,70,70)" opacity="0.70"/>
<circle cx="418.6" cy="33.5" r="1.2" fill="rgb(116,116,116)" opacity="0.83"/>
<circle cx="400.8" cy="41.4" r="0.8" fill="rgb(148,148,148)" opacity="0.74"/>
<circle cx="415.7" cy="35.2" r="0.7" fill="rgb(64,64,64)" opacity="0.53"/>
<circle cx="407.2" cy="46.9" r="1.3" fill="rgb(92,92,92)" opacity="0.38"/>
<circle cx="424.7" cy="27.4" r="0.9" fill="rgb(108,108,108)" opacity="0.40"/>
<circle cx="444.5" cy="44.2" r="1.1" fill="rgb(149,149,149)" opacity="0.50"/>
<circle cx="397.3" cy="59.1" r="0.8" fill="rgb(113,113,113)" opacity="0.69"/>
<circle cx="423.0" cy="37.0" r="0.7" fill="rgb(89,89,89)" opacity="0.38"/>
<circle cx="431.3" cy="39.3" r="0.7" fill="rgb(103,103,103)" opacity="0.60"/>
<circle cx="418.5" cy="56.6" r="0.9" fill="rgb(53,53,53)" opacity="0.50"/>
<circle cx="443.5" cy="36.9" r="1.1" fill="rgb(136,136,136)" opacity="0.65"/>
<circle cx="425.0" cy="48.1" r="1.1" fill="rgb(68,68,68)" opacity="0.82"/>
<circle cx="441.9" cy="43.8" r="0.9" fill="rgb(106,106,106)" opacity="0.57"/>
<circle cx="398.7" cy="44.3" r="0.9" fill="rgb(151,151,151)" opacity="0.64"/>
<circle cx="405.9" cy="74.3" r="0.6" fill="rgb(140,140,140)" opacity="0.38"/>
<circle cx="424.2" cy="41.7" r="0.9" fill="rgb(92,92,92)" opacity="0.51"/>
<circle cx="419.2" cy="65.3" r="1.2" fill="rgb(91,91,91)" opacity="0.70"/>
<circle cx="410.0" cy="49.7" r="1.3" fill="rgb(84,84,84)" opacity="0.35"/>
<circle cx="420.5" cy="41.5" r="1.5" fill="none" stroke="rgb(71,71,71)" stroke-width="0.6" opacity="0.46"/>
<circle cx="458.5" cy="35.5" r="1.0" fill="rgb(136,136,136)" opacity="0.73"/>
<circle cx="413.0" cy="52.5" r="0.6" fill="rgb(78,78,78)" opacity="0.72"/>
<circle cx="425.3" cy="34.0" r="1.0" fill="rgb(117,117,117)" opacity="0.58"/>
<circle cx="417.5" cy="76.6" r="0.8" fill="rgb(163,163,163)" opacity="0.71"/>
<circle cx="434.0" cy="37.0" r="1.2" fill="rgb(69,69,69)" opacity="0.77"/>
<circle cx="419.2" cy="56.7" r="1.8" fill="none" stroke="rgb(86,86,86)" stroke-width="0.6" opacity="0.64"/>
<circle cx="419.9" cy="54.6" r="0.9" fill="rgb(133,133,133)" opacity="0.51"/>
<circle cx="428.2" cy="31.0" r="1.0" fill="rgb(89,89,89)" opacity="0.71"/>
<circle cx="432.5" cy="32.9" r="1.0" fill="rgb(95,95,95)" opacity="0.41"/>
<circle cx="443.4" cy="58.9" r="1.0" fill="rgb(123,123,123)" opacity="0.51"/>
<circle cx="411.8" cy="4.2" r="0.6" fill="rgb(124,124,124)" opacity="0.64"/>
<circle cx="423.4" cy="18.5" r="0.9" fill="rgb(176,176,176)" opacity="0.49"/>
<circle cx="403.6" cy="44.1" r="1.5" fill="none" stroke="rgb(109,109,109)" stroke-width="0.6" opacity="0.57"/>
<circle cx="431.3" cy="37.6" r="1.2" fill="rgb(62,62,62)" opacity="0.60"/>
<circle cx="416.4" cy="38.8" r="1.0" fill="rgb(80,80,80)" opacity="0.40"/>
<circle cx="426.0" cy="46.0" r="1.1" fill="rgb(67,67,67)" opacity="0.54"/>
<circle cx="451.2" cy="48.5" r="1.1" fill="rgb(122,122,122)" opacity="0.84"/>
<circle cx="412.7" cy="20.9" r="0.8" fill="rgb(118,118,118)" opacity="0.82"/>
<circle cx="410.1" cy="55.5" r="0.9" fill="rgb(89,89,89)" opacity="0.72"/>
<circle cx="427.4" cy="47.0" r="1.1" fill="rgb(25,25,25)" opacity="0.38"/>
<circle cx="443.1" cy="41.8" r="1.0" fill="rgb(127,127,127)" opacity="0.77"/>
<circle cx="427.7" cy="40.8" r="1.1" fill="rgb(114,114,114)" opacity="0.81"/>
<circle cx="431.2" cy="32.0" r="0.8" fill="rgb(113,113,113)" opacity="0.38"/>
<circle cx="431.5" cy="30.9" r="0.7" fill="rgb(25,25,25)" opacity="0.42"/>
<circle cx="410.5" cy="44.8" r="0.8" fill="rgb(49,49,49)" opacity="0.47"/>
<circle cx="452.3" cy="42.5" r="0.8" fill="rgb(139,139,139)" opacity="0.80"/>
<circle cx="435.0" cy="49.4" r="0.6" fill="rgb(32,32,32)" opacity="0.78"/>
<circle cx="440.2" cy="46.3" r="0.6" fill="rgb(112,112,112)" opacity="0.56"/>
<circle cx="422.8" cy="23.3" r="1.2" fill="rgb(156,156,156)" opacity="0.56"/>
<circle cx="413.3" cy="32.6" r="0.9" fill="rgb(131,131,131)" opacity="0.47"/>
<circle cx="413.5" cy="66.3" r="1.0" fill="rgb(127,127,127)" opacity="0.39"/>
<circle cx="431.3" cy="63.6" r="0.7" fill="rgb(110,110,110)" opacity="0.53"/>
<circle cx="450.3" cy="61.8" r="1.1" fill="rgb(88,88,88)" opacity="0.82"/>
<circle cx="444.4" cy="36.5" r="0.9" fill="rgb(50,50,50)" opacity="0.41"/>
<circle cx="422.0" cy="47.3" r="1.2" fill="rgb(44,44,44)" opacity="0.38"/>
<circle cx="420.2" cy="44.4" r="1.1" fill="rgb(63,63,63)" opacity="0.75"/>
<circle cx="435.9" cy="25.1" r="1.2" fill="rgb(129,129,129)" opacity="0.69"/>
<circle cx="439.3" cy="28.3" r="0.5" fill="rgb(146,146,146)" opacity="0.80"/>
<circle cx="417.4" cy="63.8" r="0.9" fill="rgb(127,127,127)" opacity="0.64"/>
<circle cx="462.8" cy="32.3" r="1.3" fill="rgb(134,134,134)" opacity="0.65"/>
<circle cx="414.1" cy="53.7" r="1.3" fill="rgb(122,122,122)" opacity="0.72"/>
<circle cx="427.6" cy="48.3" r="0.9" fill="rgb(90,90,90)" opacity="0.50"/>
<circle cx="415.0" cy="22.2" r="1.2" fill="rgb(98,98,98)" opacity="0.38"/>
<circle cx="428.6" cy="58.2" r="1.5" fill="none" stroke="rgb(116,116,116)" stroke-width="0.6" opacity="0.64"/>
<circle cx="397.0" cy="53.2" r="1.0" fill="rgb(156,156,156)" opacity="0.37"/>
<circle cx="423.5" cy="21.7" r="1.3" fill="rgb(102,102,102)" opacity="0.46"/>
</g>
<rect x="404.10" y="64.10" width="5.00" height="1.60" fill="#222"/>
<rect x="461.1" y="9.3" width="57.69999999999993" height="57.7" fill="#eaeaea" stroke="#888" stroke-width="1"/>
<clipPath id="cp13"><rect x="461.6" y="9.8" width="56.69999999999993" height="56.7"/></clipPath><g clip-path="url(#cp13)" filter="url(#bl)">
<radialGradient id="rg13"><stop offset="0" stop-color="#777" stop-opacity="0.3"/><stop offset="1" stop-color="#777" stop-opacity="0"/></radialGradient>
<ellipse cx="491" cy="39" rx="21.849999999999998" ry="21.849999999999998" fill="url(#rg13)"/>
<circle cx="476.5" cy="48.5" r="0.8" fill="rgb(143,143,143)" opacity="0.57"/>
<circle cx="510.5" cy="46.0" r="0.5" fill="rgb(143,143,143)" opacity="0.51"/>
<circle cx="474.0" cy="26.7" r="0.5" fill="rgb(175,175,175)" opacity="0.57"/>
<circle cx="517.7" cy="65.6" r="0.5" fill="rgb(138,138,138)" opacity="0.62"/>
<circle cx="511.6" cy="24.9" r="0.8" fill="rgb(177,177,177)" opacity="0.68"/>
<circle cx="506.3" cy="24.6" r="0.7" fill="rgb(149,149,149)" opacity="0.60"/>
<circle cx="493.5" cy="34.2" r="0.9" fill="rgb(166,166,166)" opacity="0.56"/>
<circle cx="498.6" cy="29.6" r="0.9" fill="rgb(196,196,196)" opacity="0.69"/>
<circle cx="500.6" cy="41.2" r="0.7" fill="rgb(137,137,137)" opacity="0.59"/>
<circle cx="492.0" cy="26.6" r="0.7" fill="rgb(142,142,142)" opacity="0.40"/>
<circle cx="487.7" cy="44.0" r="0.9" fill="rgb(170,170,170)" opacity="0.53"/>
<circle cx="492.7" cy="41.8" r="0.8" fill="rgb(144,144,144)" opacity="0.35"/>
<circle cx="486.1" cy="45.3" r="0.6" fill="rgb(179,179,179)" opacity="0.59"/>
<circle cx="514.1" cy="12.7" r="0.7" fill="rgb(138,138,138)" opacity="0.58"/>
<circle cx="486.9" cy="24.4" r="0.8" fill="rgb(172,172,172)" opacity="0.40"/>
<circle cx="504.4" cy="29.8" r="0.6" fill="rgb(200,200,200)" opacity="0.59"/>
<circle cx="469.7" cy="64.4" r="0.5" fill="rgb(197,197,197)" opacity="0.50"/>
<circle cx="510.1" cy="12.7" r="0.4" fill="rgb(195,195,195)" opacity="0.53"/>
<circle cx="493.8" cy="20.4" r="0.5" fill="rgb(144,144,144)" opacity="0.57"/>
<circle cx="468.4" cy="22.9" r="0.7" fill="rgb(128,128,128)" opacity="0.54"/>
<circle cx="507.1" cy="49.0" r="0.9" fill="rgb(176,176,176)" opacity="0.56"/>
<circle cx="491.4" cy="17.3" r="0.5" fill="rgb(159,159,159)" opacity="0.42"/>
<circle cx="477.1" cy="43.6" r="1.0" fill="rgb(129,129,129)" opacity="0.51"/>
<circle cx="509.5" cy="12.3" r="0.6" fill="rgb(160,160,160)" opacity="0.50"/>
<circle cx="516.1" cy="39.1" r="0.5" fill="rgb(180,180,180)" opacity="0.38"/>
<circle cx="506.6" cy="31.3" r="0.8" fill="rgb(140,140,140)" opacity="0.40"/>
<circle cx="500.2" cy="57.6" r="0.7" fill="rgb(153,153,153)" opacity="0.39"/>
<circle cx="505.2" cy="43.3" r="0.5" fill="rgb(174,174,174)" opacity="0.44"/>
<circle cx="464.2" cy="32.4" r="0.4" fill="rgb(131,131,131)" opacity="0.32"/>
<circle cx="513.4" cy="46.7" r="0.5" fill="rgb(159,159,159)" opacity="0.49"/>
<circle cx="493.0" cy="28.8" r="0.7" fill="rgb(157,157,157)" opacity="0.68"/>
<circle cx="470.4" cy="13.2" r="0.9" fill="rgb(167,167,167)" opacity="0.39"/>
<circle cx="479.0" cy="31.9" r="0.6" fill="rgb(124,124,124)" opacity="0.34"/>
<circle cx="489.4" cy="42.9" r="1.0" fill="rgb(194,194,194)" opacity="0.32"/>
<circle cx="491.9" cy="17.5" r="0.6" fill="rgb(126,126,126)" opacity="0.66"/>
<circle cx="492.5" cy="17.3" r="0.9" fill="rgb(120,120,120)" opacity="0.66"/>
<circle cx="489.3" cy="35.3" r="1.3" fill="none" stroke="rgb(66,66,66)" stroke-width="0.6" opacity="0.76"/>
<circle cx="489.5" cy="40.4" r="0.7" fill="rgb(104,104,104)" opacity="0.74"/>
<circle cx="494.2" cy="47.9" r="0.5" fill="rgb(113,113,113)" opacity="0.66"/>
<circle cx="495.0" cy="39.6" r="0.8" fill="rgb(27,27,27)" opacity="0.42"/>
<circle cx="490.4" cy="48.2" r="0.5" fill="rgb(93,93,93)" opacity="0.61"/>
<circle cx="488.6" cy="46.2" r="1.0" fill="rgb(84,84,84)" opacity="0.43"/>
<circle cx="484.2" cy="25.9" r="0.6" fill="rgb(106,106,106)" opacity="0.55"/>
<circle cx="489.7" cy="34.8" r="0.6" fill="rgb(68,68,68)" opacity="0.50"/>
<circle cx="483.5" cy="37.5" r="1.3" fill="rgb(84,84,84)" opacity="0.83"/>
<circle cx="520.3" cy="49.0" r="1.2" fill="rgb(211,211,211)" opacity="0.55"/>
<circle cx="469.9" cy="27.7" r="1.7" fill="none" stroke="rgb(85,85,85)" stroke-width="0.6" opacity="0.77"/>
<circle cx="494.7" cy="48.0" r="1.5" fill="none" stroke="rgb(59,59,59)" stroke-width="0.6" opacity="0.41"/>
<circle cx="493.6" cy="41.9" r="1.1" fill="rgb(87,87,87)" opacity="0.38"/>
<circle cx="484.0" cy="51.4" r="0.5" fill="rgb(72,72,72)" opacity="0.62"/>
<circle cx="487.6" cy="31.7" r="1.1" fill="rgb(40,40,40)" opacity="0.56"/>
<circle cx="481.6" cy="39.3" r="0.6" fill="rgb(83,83,83)" opacity="0.51"/>
<circle cx="472.9" cy="30.3" r="1.0" fill="rgb(156,156,156)" opacity="0.61"/>
<circle cx="483.4" cy="40.0" r="0.5" fill="rgb(106,106,106)" opacity="0.53"/>
<circle cx="482.3" cy="40.8" r="0.7" fill="rgb(93,93,93)" opacity="0.49"/>
<circle cx="497.5" cy="37.9" r="0.7" fill="rgb(51,51,51)" opacity="0.40"/>
<circle cx="500.7" cy="51.0" r="0.8" fill="rgb(134,134,134)" opacity="0.64"/>
<circle cx="492.7" cy="42.9" r="0.6" fill="rgb(25,25,25)" opacity="0.78"/>
<circle cx="489.2" cy="48.1" r="0.8" fill="rgb(91,91,91)" opacity="0.64"/>
<circle cx="495.5" cy="46.3" r="1.3" fill="rgb(63,63,63)" opacity="0.36"/>
<circle cx="482.6" cy="46.0" r="0.7" fill="rgb(91,91,91)" opacity="0.35"/>
<circle cx="488.9" cy="57.2" r="1.0" fill="rgb(109,109,109)" opacity="0.57"/>
<circle cx="504.3" cy="39.9" r="1.1" fill="rgb(129,129,129)" opacity="0.83"/>
<circle cx="479.9" cy="33.3" r="1.3" fill="rgb(71,71,71)" opacity="0.43"/>
<circle cx="500.6" cy="42.5" r="1.2" fill="rgb(99,99,99)" opacity="0.55"/>
<circle cx="490.5" cy="27.6" r="1.2" fill="none" stroke="rgb(88,88,88)" stroke-width="0.6" opacity="0.52"/>
<circle cx="498.0" cy="24.1" r="1.2" fill="rgb(105,105,105)" opacity="0.50"/>
<circle cx="486.8" cy="37.7" r="1.1" fill="rgb(111,111,111)" opacity="0.56"/>
<circle cx="490.7" cy="32.5" r="0.5" fill="rgb(72,72,72)" opacity="0.41"/>
<circle cx="487.6" cy="58.0" r="1.0" fill="rgb(199,199,199)" opacity="0.40"/>
<circle cx="488.6" cy="37.3" r="0.6" fill="rgb(81,81,81)" opacity="0.59"/>
<circle cx="483.7" cy="41.7" r="1.1" fill="rgb(58,58,58)" opacity="0.59"/>
<circle cx="493.3" cy="20.4" r="1.3" fill="rgb(114,114,114)" opacity="0.70"/>
<circle cx="492.7" cy="44.6" r="0.9" fill="rgb(84,84,84)" opacity="0.57"/>
<circle cx="486.8" cy="46.8" r="0.6" fill="rgb(81,81,81)" opacity="0.43"/>
<circle cx="496.0" cy="61.3" r="0.9" fill="rgb(157,157,157)" opacity="0.41"/>
<circle cx="492.4" cy="44.3" r="0.8" fill="rgb(113,113,113)" opacity="0.55"/>
<circle cx="485.7" cy="35.9" r="0.7" fill="rgb(71,71,71)" opacity="0.43"/>
<circle cx="491.0" cy="36.0" r="1.2" fill="rgb(38,38,38)" opacity="0.61"/>
<circle cx="492.1" cy="49.3" r="1.1" fill="none" stroke="rgb(122,122,122)" stroke-width="0.6" opacity="0.71"/>
<circle cx="493.8" cy="38.5" r="1.2" fill="rgb(46,46,46)" opacity="0.45"/>
<circle cx="500.9" cy="28.4" r="0.9" fill="rgb(122,122,122)" opacity="0.45"/>
<circle cx="483.6" cy="44.9" r="0.7" fill="rgb(85,85,85)" opacity="0.79"/>
<circle cx="504.8" cy="40.7" r="0.9" fill="rgb(96,96,96)" opacity="0.69"/>
<circle cx="500.7" cy="33.3" r="0.9" fill="rgb(106,106,106)" opacity="0.59"/>
<circle cx="483.2" cy="49.2" r="1.1" fill="rgb(109,109,109)" opacity="0.36"/>
<circle cx="485.1" cy="39.4" r="1.1" fill="rgb(62,62,62)" opacity="0.63"/>
<circle cx="488.8" cy="29.2" r="0.5" fill="rgb(83,83,83)" opacity="0.49"/>
<circle cx="485.7" cy="38.1" r="1.3" fill="rgb(92,92,92)" opacity="0.44"/>
<circle cx="505.7" cy="44.3" r="1.3" fill="none" stroke="rgb(132,132,132)" stroke-width="0.6" opacity="0.85"/>
<circle cx="490.3" cy="35.5" r="1.0" fill="rgb(56,56,56)" opacity="0.54"/>
<circle cx="487.6" cy="46.5" r="1.1" fill="rgb(135,135,135)" opacity="0.54"/>
<circle cx="501.4" cy="38.9" r="0.9" fill="rgb(90,90,90)" opacity="0.65"/>
<circle cx="483.0" cy="52.4" r="1.0" fill="rgb(64,64,64)" opacity="0.82"/>
<circle cx="494.8" cy="24.8" r="1.2" fill="rgb(66,66,66)" opacity="0.55"/>
<circle cx="490.8" cy="40.4" r="1.2" fill="rgb(25,25,25)" opacity="0.35"/>
<circle cx="476.5" cy="43.0" r="0.5" fill="rgb(106,106,106)" opacity="0.74"/>
<circle cx="485.3" cy="27.0" r="1.3" fill="rgb(78,78,78)" opacity="0.70"/>
<circle cx="479.8" cy="20.8" r="1.3" fill="rgb(144,144,144)" opacity="0.36"/>
<circle cx="497.1" cy="41.1" r="0.8" fill="rgb(70,70,70)" opacity="0.36"/>
<circle cx="510.9" cy="49.2" r="1.2" fill="rgb(173,173,173)" opacity="0.85"/>
<circle cx="499.2" cy="26.7" r="1.0" fill="rgb(102,102,102)" opacity="0.35"/>
<circle cx="504.1" cy="40.5" r="0.6" fill="rgb(25,25,25)" opacity="0.55"/>
<circle cx="483.0" cy="42.1" r="0.7" fill="rgb(66,66,66)" opacity="0.52"/>
<circle cx="496.3" cy="46.8" r="1.1" fill="rgb(68,68,68)" opacity="0.68"/>
<circle cx="501.7" cy="34.6" r="1.0" fill="rgb(86,86,86)" opacity="0.50"/>
<circle cx="485.0" cy="40.9" r="0.9" fill="rgb(74,74,74)" opacity="0.59"/>
<circle cx="491.1" cy="30.9" r="1.1" fill="rgb(40,40,40)" opacity="0.51"/>
<circle cx="477.5" cy="41.5" r="0.7" fill="rgb(86,86,86)" opacity="0.74"/>
<circle cx="490.6" cy="49.0" r="1.1" fill="rgb(80,80,80)" opacity="0.56"/>
<circle cx="495.5" cy="46.8" r="0.8" fill="rgb(99,99,99)" opacity="0.71"/>
<circle cx="485.1" cy="47.2" r="0.6" fill="rgb(83,83,83)" opacity="0.47"/>
<circle cx="494.4" cy="26.7" r="0.7" fill="rgb(61,61,61)" opacity="0.36"/>
<circle cx="497.8" cy="39.3" r="1.3" fill="rgb(44,44,44)" opacity="0.63"/>
<circle cx="497.4" cy="46.5" r="0.8" fill="rgb(36,36,36)" opacity="0.48"/>
<circle cx="501.8" cy="37.6" r="0.9" fill="rgb(104,104,104)" opacity="0.59"/>
<circle cx="495.3" cy="40.9" r="1.3" fill="rgb(67,67,67)" opacity="0.52"/>
<circle cx="505.0" cy="32.0" r="0.6" fill="rgb(88,88,88)" opacity="0.51"/>
<circle cx="487.4" cy="30.3" r="0.9" fill="rgb(112,112,112)" opacity="0.48"/>
<circle cx="496.6" cy="30.5" r="1.0" fill="rgb(107,107,107)" opacity="0.80"/>
<circle cx="482.6" cy="26.5" r="0.9" fill="rgb(127,127,127)" opacity="0.79"/>
<circle cx="491.7" cy="34.8" r="1.1" fill="rgb(68,68,68)" opacity="0.83"/>
<circle cx="480.2" cy="47.0" r="0.7" fill="rgb(52,52,52)" opacity="0.68"/>
<circle cx="490.7" cy="27.0" r="1.2" fill="rgb(112,112,112)" opacity="0.55"/>
<circle cx="489.1" cy="53.5" r="1.2" fill="rgb(154,154,154)" opacity="0.60"/>
<circle cx="491.8" cy="45.0" r="1.1" fill="rgb(105,105,105)" opacity="0.78"/>
<circle cx="492.3" cy="36.4" r="1.3" fill="rgb(98,98,98)" opacity="0.73"/>
<circle cx="484.8" cy="55.5" r="1.2" fill="rgb(71,71,71)" opacity="0.53"/>
<circle cx="495.1" cy="47.3" r="0.6" fill="rgb(25,25,25)" opacity="0.82"/>
<circle cx="503.4" cy="55.7" r="1.2" fill="rgb(115,115,115)" opacity="0.35"/>
<circle cx="493.3" cy="70.3" r="0.7" fill="rgb(118,118,118)" opacity="0.70"/>
<circle cx="495.5" cy="42.0" r="0.6" fill="rgb(26,26,26)" opacity="0.64"/>
<circle cx="492.5" cy="36.2" r="1.0" fill="rgb(62,62,62)" opacity="0.51"/>
<circle cx="489.6" cy="59.2" r="0.6" fill="rgb(175,175,175)" opacity="0.37"/>
<circle cx="487.3" cy="34.5" r="0.7" fill="rgb(25,25,25)" opacity="0.48"/>
<circle cx="491.3" cy="52.3" r="1.2" fill="rgb(68,68,68)" opacity="0.54"/>
<circle cx="489.3" cy="37.2" r="1.2" fill="rgb(25,25,25)" opacity="0.62"/>
<circle cx="492.1" cy="43.3" r="1.0" fill="rgb(33,33,33)" opacity="0.45"/>
<circle cx="503.3" cy="28.7" r="1.0" fill="rgb(51,51,51)" opacity="0.35"/>
<circle cx="502.0" cy="35.1" r="0.8" fill="rgb(154,154,154)" opacity="0.66"/>
<circle cx="505.6" cy="44.1" r="0.6" fill="rgb(79,79,79)" opacity="0.57"/>
<circle cx="478.5" cy="32.5" r="0.5" fill="rgb(97,97,97)" opacity="0.83"/>
<circle cx="495.8" cy="40.2" r="1.2" fill="rgb(64,64,64)" opacity="0.69"/>
<circle cx="488.9" cy="31.5" r="1.3" fill="none" stroke="rgb(79,79,79)" stroke-width="0.6" opacity="0.37"/>
<circle cx="488.9" cy="52.3" r="0.7" fill="rgb(74,74,74)" opacity="0.37"/>
<circle cx="491.9" cy="36.9" r="0.7" fill="rgb(47,47,47)" opacity="0.43"/>
<circle cx="484.9" cy="31.9" r="0.7" fill="rgb(80,80,80)" opacity="0.51"/>
<circle cx="498.7" cy="42.4" r="1.0" fill="rgb(61,61,61)" opacity="0.83"/>
<circle cx="468.4" cy="43.6" r="0.5" fill="rgb(128,128,128)" opacity="0.69"/>
<circle cx="488.4" cy="37.9" r="0.9" fill="rgb(85,85,85)" opacity="0.80"/>
<circle cx="484.9" cy="47.9" r="0.6" fill="rgb(39,39,39)" opacity="0.80"/>
<circle cx="482.1" cy="37.2" r="0.9" fill="rgb(98,98,98)" opacity="0.62"/>
<circle cx="506.1" cy="45.3" r="0.9" fill="rgb(107,107,107)" opacity="0.77"/>
<circle cx="502.4" cy="44.0" r="1.0" fill="rgb(94,94,94)" opacity="0.75"/>
<circle cx="502.6" cy="29.6" r="1.6" fill="none" stroke="rgb(73,73,73)" stroke-width="0.6" opacity="0.35"/>
<circle cx="493.7" cy="29.2" r="0.8" fill="rgb(77,77,77)" opacity="0.43"/>
<circle cx="494.0" cy="39.7" r="1.2" fill="rgb(34,34,34)" opacity="0.41"/>
<circle cx="494.5" cy="37.3" r="0.6" fill="rgb(25,25,25)" opacity="0.41"/>
<circle cx="497.8" cy="49.4" r="1.1" fill="rgb(84,84,84)" opacity="0.61"/>
<circle cx="484.6" cy="48.8" r="1.1" fill="rgb(87,87,87)" opacity="0.85"/>
<circle cx="491.2" cy="31.3" r="0.9" fill="rgb(50,50,50)" opacity="0.76"/>
<circle cx="489.9" cy="37.4" r="0.6" fill="rgb(25,25,25)" opacity="0.53"/>
<circle cx="484.4" cy="41.1" r="1.1" fill="rgb(81,81,81)" opacity="0.46"/>
<circle cx="483.7" cy="42.2" r="0.8" fill="rgb(99,99,99)" opacity="0.52"/>
<circle cx="501.3" cy="41.5" r="1.2" fill="rgb(104,104,104)" opacity="0.55"/>
<circle cx="470.4" cy="58.3" r="0.9" fill="rgb(132,132,132)" opacity="0.41"/>
<circle cx="476.4" cy="36.8" r="1.2" fill="rgb(108,108,108)" opacity="0.40"/>
<circle cx="488.0" cy="66.9" r="1.0" fill="rgb(205,205,205)" opacity="0.41"/>
<circle cx="499.7" cy="38.8" r="1.0" fill="rgb(68,68,68)" opacity="0.70"/>
<circle cx="489.0" cy="41.8" r="1.0" fill="rgb(31,31,31)" opacity="0.77"/>
<circle cx="494.8" cy="30.2" r="1.1" fill="rgb(121,121,121)" opacity="0.80"/>
<circle cx="505.4" cy="29.1" r="0.7" fill="rgb(91,91,91)" opacity="0.48"/>
<circle cx="485.3" cy="46.0" r="0.5" fill="rgb(77,77,77)" opacity="0.64"/>
<circle cx="499.5" cy="41.9" r="1.2" fill="rgb(111,111,111)" opacity="0.67"/>
<circle cx="493.2" cy="31.6" r="1.2" fill="rgb(84,84,84)" opacity="0.57"/>
<circle cx="494.9" cy="49.7" r="0.6" fill="rgb(100,100,100)" opacity="0.71"/>
<circle cx="484.4" cy="49.5" r="0.6" fill="rgb(105,105,105)" opacity="0.37"/>
<circle cx="483.9" cy="57.7" r="1.3" fill="none" stroke="rgb(118,118,118)" stroke-width="0.6" opacity="0.85"/>
<circle cx="486.6" cy="36.6" r="0.6" fill="rgb(25,25,25)" opacity="0.45"/>
<circle cx="495.5" cy="31.1" r="0.8" fill="rgb(80,80,80)" opacity="0.79"/>
<circle cx="492.3" cy="25.0" r="0.6" fill="rgb(72,72,72)" opacity="0.84"/>
<circle cx="481.9" cy="34.5" r="1.0" fill="rgb(84,84,84)" opacity="0.81"/>
<circle cx="475.3" cy="40.5" r="0.5" fill="rgb(91,91,91)" opacity="0.71"/>
<circle cx="485.0" cy="34.2" r="0.9" fill="rgb(121,121,121)" opacity="0.37"/>
<circle cx="483.5" cy="55.6" r="0.7" fill="rgb(178,178,178)" opacity="0.79"/>
<circle cx="490.2" cy="40.2" r="0.9" fill="rgb(41,41,41)" opacity="0.45"/>
<circle cx="489.6" cy="34.5" r="1.2" fill="rgb(46,46,46)" opacity="0.83"/>
<circle cx="512.1" cy="21.4" r="1.0" fill="rgb(134,134,134)" opacity="0.50"/>
<circle cx="483.4" cy="33.7" r="0.8" fill="rgb(84,84,84)" opacity="0.48"/>
<circle cx="486.5" cy="51.9" r="0.6" fill="rgb(93,93,93)" opacity="0.45"/>
<circle cx="484.0" cy="44.8" r="1.3" fill="rgb(72,72,72)" opacity="0.59"/>
<circle cx="485.3" cy="32.0" r="0.7" fill="rgb(103,103,103)" opacity="0.47"/>
<circle cx="492.1" cy="36.3" r="1.1" fill="rgb(57,57,57)" opacity="0.77"/>
<circle cx="500.2" cy="23.9" r="1.3" fill="rgb(125,125,125)" opacity="0.61"/>
<circle cx="467.4" cy="30.4" r="1.2" fill="rgb(175,175,175)" opacity="0.49"/>
<circle cx="504.4" cy="42.1" r="0.9" fill="rgb(100,100,100)" opacity="0.66"/>
<circle cx="489.0" cy="61.0" r="1.1" fill="rgb(115,115,115)" opacity="0.61"/>
<circle cx="501.7" cy="54.7" r="0.8" fill="rgb(131,131,131)" opacity="0.40"/>
<circle cx="484.3" cy="43.1" r="0.9" fill="rgb(71,71,71)" opacity="0.54"/>
<circle cx="481.8" cy="45.5" r="1.2" fill="rgb(98,98,98)" opacity="0.65"/>
<circle cx="481.7" cy="34.7" r="1.0" fill="rgb(138,138,138)" opacity="0.66"/>
<circle cx="490.7" cy="52.5" r="1.3" fill="rgb(112,112,112)" opacity="0.43"/>
<circle cx="491.4" cy="35.9" r="0.9" fill="rgb(121,121,121)" opacity="0.52"/>
<circle cx="497.9" cy="56.3" r="0.8" fill="rgb(63,63,63)" opacity="0.76"/>
<circle cx="497.4" cy="32.1" r="1.0" fill="rgb(87,87,87)" opacity="0.39"/>
<circle cx="487.6" cy="30.4" r="1.0" fill="rgb(90,90,90)" opacity="0.46"/>
<circle cx="494.1" cy="35.6" r="0.5" fill="rgb(73,73,73)" opacity="0.60"/>
<circle cx="484.5" cy="50.8" r="0.5" fill="rgb(111,111,111)" opacity="0.44"/>
<circle cx="480.3" cy="20.8" r="0.9" fill="rgb(141,141,141)" opacity="0.52"/>
<circle cx="483.3" cy="52.1" r="0.9" fill="rgb(80,80,80)" opacity="0.75"/>
<circle cx="501.2" cy="48.9" r="1.3" fill="rgb(136,136,136)" opacity="0.73"/>
<circle cx="476.6" cy="40.9" r="1.1" fill="rgb(90,90,90)" opacity="0.55"/>
<circle cx="506.3" cy="51.3" r="0.9" fill="rgb(83,83,83)" opacity="0.56"/>
<circle cx="494.1" cy="22.7" r="0.7" fill="rgb(98,98,98)" opacity="0.76"/>
<circle cx="477.1" cy="59.9" r="1.2" fill="rgb(105,105,105)" opacity="0.64"/>
<circle cx="490.5" cy="42.3" r="1.3" fill="rgb(111,111,111)" opacity="0.59"/>
<circle cx="490.1" cy="47.3" r="0.9" fill="rgb(87,87,87)" opacity="0.75"/>
<circle cx="488.4" cy="56.8" r="0.9" fill="rgb(149,149,149)" opacity="0.66"/>
<circle cx="501.4" cy="18.3" r="1.0" fill="rgb(120,120,120)" opacity="0.59"/>
<circle cx="494.3" cy="31.5" r="1.2" fill="rgb(75,75,75)" opacity="0.49"/>
<circle cx="502.0" cy="26.3" r="1.0" fill="rgb(112,112,112)" opacity="0.58"/>
<circle cx="501.1" cy="44.5" r="0.6" fill="rgb(98,98,98)" opacity="0.48"/>
<circle cx="491.8" cy="48.1" r="0.8" fill="rgb(77,77,77)" opacity="0.67"/>
<circle cx="491.2" cy="40.2" r="1.1" fill="rgb(25,25,25)" opacity="0.55"/>
<circle cx="484.9" cy="38.7" r="1.7" fill="none" stroke="rgb(71,71,71)" stroke-width="0.6" opacity="0.53"/>
<circle cx="503.0" cy="42.1" r="0.5" fill="rgb(129,129,129)" opacity="0.43"/>
<circle cx="493.7" cy="43.2" r="0.6" fill="rgb(43,43,43)" opacity="0.42"/>
<circle cx="503.9" cy="55.2" r="0.8" fill="rgb(108,108,108)" opacity="0.37"/>
<circle cx="495.7" cy="32.9" r="0.7" fill="rgb(76,76,76)" opacity="0.54"/>
<circle cx="481.4" cy="34.2" r="1.1" fill="rgb(73,73,73)" opacity="0.58"/>
<circle cx="506.2" cy="59.7" r="1.1" fill="rgb(138,138,138)" opacity="0.70"/>
<circle cx="498.5" cy="50.9" r="1.1" fill="rgb(96,96,96)" opacity="0.52"/>
<circle cx="495.5" cy="35.4" r="0.8" fill="rgb(87,87,87)" opacity="0.40"/>
<circle cx="502.1" cy="44.8" r="0.7" fill="rgb(90,90,90)" opacity="0.49"/>
<circle cx="487.4" cy="59.1" r="1.0" fill="rgb(128,128,128)" opacity="0.59"/>
<circle cx="490.0" cy="25.0" r="1.1" fill="rgb(67,67,67)" opacity="0.48"/>
<circle cx="492.3" cy="42.1" r="0.8" fill="rgb(25,25,25)" opacity="0.50"/>
<circle cx="487.1" cy="35.6" r="0.8" fill="rgb(66,66,66)" opacity="0.57"/>
<circle cx="497.5" cy="44.7" r="0.9" fill="rgb(63,63,63)" opacity="0.76"/>
<circle cx="498.6" cy="32.6" r="0.5" fill="rgb(73,73,73)" opacity="0.84"/>
<circle cx="500.9" cy="39.3" r="0.9" fill="rgb(91,91,91)" opacity="0.74"/>
<circle cx="488.7" cy="44.7" r="0.6" fill="rgb(59,59,59)" opacity="0.44"/>
<circle cx="486.7" cy="44.3" r="0.9" fill="rgb(76,76,76)" opacity="0.50"/>
<circle cx="486.4" cy="41.6" r="1.3" fill="rgb(75,75,75)" opacity="0.37"/>
<circle cx="488.5" cy="30.5" r="1.2" fill="rgb(86,86,86)" opacity="0.52"/>
<circle cx="480.1" cy="37.5" r="0.7" fill="rgb(72,72,72)" opacity="0.49"/>
<circle cx="489.6" cy="43.4" r="1.0" fill="rgb(112,112,112)" opacity="0.47"/>
<circle cx="480.5" cy="24.2" r="0.6" fill="rgb(139,139,139)" opacity="0.77"/>
<circle cx="500.3" cy="38.0" r="0.9" fill="rgb(97,97,97)" opacity="0.45"/>
<circle cx="497.5" cy="50.5" r="0.6" fill="rgb(69,69,69)" opacity="0.45"/>
<circle cx="493.6" cy="25.0" r="1.0" fill="rgb(133,133,133)" opacity="0.51"/>
<circle cx="499.9" cy="38.4" r="1.6" fill="none" stroke="rgb(37,37,37)" stroke-width="0.6" opacity="0.49"/>
<circle cx="504.8" cy="30.6" r="0.7" fill="rgb(81,81,81)" opacity="0.35"/>
<circle cx="494.3" cy="43.1" r="1.1" fill="rgb(103,103,103)" opacity="0.76"/>
<circle cx="472.8" cy="21.4" r="1.9" fill="none" stroke="rgb(181,181,181)" stroke-width="0.6" opacity="0.78"/>
<circle cx="496.2" cy="24.0" r="0.6" fill="rgb(126,126,126)" opacity="0.76"/>
<circle cx="492.9" cy="28.0" r="0.5" fill="rgb(110,110,110)" opacity="0.72"/>
<circle cx="511.4" cy="36.1" r="0.7" fill="rgb(104,104,104)" opacity="0.41"/>
<circle cx="499.3" cy="24.4" r="1.3" fill="rgb(90,90,90)" opacity="0.58"/>
<circle cx="482.9" cy="55.7" r="1.2" fill="rgb(93,93,93)" opacity="0.62"/>
<circle cx="504.0" cy="43.0" r="0.6" fill="rgb(87,87,87)" opacity="0.62"/>
<circle cx="499.2" cy="51.3" r="1.2" fill="rgb(117,117,117)" opacity="0.44"/>
<circle cx="479.3" cy="28.6" r="0.6" fill="rgb(119,119,119)" opacity="0.61"/>
<circle cx="493.5" cy="44.5" r="0.6" fill="rgb(49,49,49)" opacity="0.47"/>
<circle cx="486.0" cy="39.4" r="0.5" fill="rgb(72,72,72)" opacity="0.69"/>
<circle cx="492.8" cy="41.9" r="0.9" fill="rgb(34,34,34)" opacity="0.53"/>
<circle cx="506.4" cy="34.3" r="1.1" fill="rgb(79,79,79)" opacity="0.74"/>
<circle cx="494.8" cy="54.9" r="1.3" fill="rgb(103,103,103)" opacity="0.58"/>
<circle cx="477.6" cy="47.0" r="0.5" fill="rgb(88,88,88)" opacity="0.69"/>
<circle cx="483.9" cy="39.3" r="1.0" fill="rgb(25,25,25)" opacity="0.80"/>
<circle cx="527.4" cy="39.9" r="0.6" fill="rgb(170,170,170)" opacity="0.49"/>
<circle cx="493.0" cy="44.2" r="1.0" fill="rgb(39,39,39)" opacity="0.51"/>
<circle cx="489.8" cy="44.9" r="1.3" fill="rgb(98,98,98)" opacity="0.79"/>
<circle cx="494.5" cy="32.5" r="1.3" fill="rgb(48,48,48)" opacity="0.41"/>
<circle cx="497.4" cy="50.9" r="1.1" fill="rgb(91,91,91)" opacity="0.38"/>
<circle cx="485.5" cy="39.0" r="1.2" fill="rgb(58,58,58)" opacity="0.55"/>
<circle cx="487.5" cy="46.2" r="0.8" fill="rgb(79,79,79)" opacity="0.70"/>
<circle cx="485.6" cy="45.7" r="1.2" fill="rgb(88,88,88)" opacity="0.39"/>
<circle cx="482.1" cy="53.5" r="1.3" fill="rgb(76,76,76)" opacity="0.43"/>
<circle cx="499.0" cy="40.4" r="0.8" fill="rgb(85,85,85)" opacity="0.69"/>
<circle cx="484.8" cy="65.6" r="1.0" fill="rgb(126,126,126)" opacity="0.47"/>
<circle cx="491.7" cy="61.3" r="1.3" fill="rgb(129,129,129)" opacity="0.43"/>
<circle cx="492.0" cy="44.0" r="1.0" fill="rgb(25,25,25)" opacity="0.59"/>
<circle cx="486.1" cy="47.6" r="0.9" fill="rgb(85,85,85)" opacity="0.77"/>
<circle cx="479.3" cy="36.6" r="1.2" fill="rgb(60,60,60)" opacity="0.59"/>
<circle cx="485.9" cy="49.1" r="1.0" fill="rgb(64,64,64)" opacity="0.64"/>
<circle cx="477.0" cy="35.0" r="1.3" fill="rgb(99,99,99)" opacity="0.57"/>
<circle cx="489.8" cy="36.2" r="1.1" fill="rgb(36,36,36)" opacity="0.59"/>
<circle cx="495.8" cy="45.7" r="1.3" fill="rgb(74,74,74)" opacity="0.46"/>
<circle cx="491.3" cy="22.3" r="0.6" fill="rgb(146,146,146)" opacity="0.66"/>
<circle cx="470.3" cy="50.9" r="1.3" fill="rgb(109,109,109)" opacity="0.40"/>
<circle cx="497.6" cy="40.8" r="0.5" fill="rgb(48,48,48)" opacity="0.71"/>
<circle cx="502.5" cy="42.6" r="0.8" fill="rgb(91,91,91)" opacity="0.72"/>
<circle cx="489.9" cy="43.1" r="1.1" fill="rgb(47,47,47)" opacity="0.60"/>
<circle cx="488.3" cy="27.8" r="1.1" fill="rgb(92,92,92)" opacity="0.50"/>
<circle cx="481.2" cy="40.7" r="0.8" fill="rgb(42,42,42)" opacity="0.66"/>
<circle cx="477.5" cy="32.9" r="0.5" fill="rgb(94,94,94)" opacity="0.79"/>
<circle cx="496.7" cy="38.3" r="1.1" fill="rgb(58,58,58)" opacity="0.60"/>
<circle cx="482.9" cy="42.3" r="1.3" fill="rgb(83,83,83)" opacity="0.46"/>
<circle cx="475.2" cy="26.0" r="1.6" fill="none" stroke="rgb(109,109,109)" stroke-width="0.6" opacity="0.80"/>
<circle cx="486.8" cy="19.2" r="1.0" fill="rgb(111,111,111)" opacity="0.40"/>
<circle cx="488.3" cy="44.1" r="0.6" fill="rgb(25,25,25)" opacity="0.76"/>
<circle cx="487.3" cy="47.0" r="0.9" fill="rgb(42,42,42)" opacity="0.60"/>
<circle cx="499.3" cy="42.2" r="0.6" fill="rgb(118,118,118)" opacity="0.43"/>
<circle cx="503.1" cy="20.5" r="1.0" fill="rgb(110,110,110)" opacity="0.83"/>
<circle cx="501.0" cy="38.1" r="1.0" fill="rgb(95,95,95)" opacity="0.69"/>
<circle cx="488.6" cy="37.2" r="0.9" fill="rgb(50,50,50)" opacity="0.71"/>
<circle cx="499.8" cy="44.0" r="1.2" fill="rgb(83,83,83)" opacity="0.57"/>
<circle cx="496.3" cy="38.3" r="0.5" fill="rgb(73,73,73)" opacity="0.78"/>
<circle cx="488.3" cy="37.0" r="0.6" fill="rgb(72,72,72)" opacity="0.49"/>
<circle cx="483.5" cy="55.7" r="1.1" fill="rgb(76,76,76)" opacity="0.76"/>
<circle cx="490.3" cy="21.7" r="1.3" fill="rgb(112,112,112)" opacity="0.47"/>
<circle cx="482.5" cy="34.8" r="0.6" fill="rgb(49,49,49)" opacity="0.55"/>
<circle cx="499.1" cy="38.0" r="1.3" fill="rgb(69,69,69)" opacity="0.72"/>
<circle cx="492.0" cy="36.1" r="0.6" fill="rgb(96,96,96)" opacity="0.49"/>
<circle cx="485.2" cy="44.0" r="0.7" fill="rgb(61,61,61)" opacity="0.77"/>
<circle cx="503.4" cy="31.3" r="0.8" fill="rgb(83,83,83)" opacity="0.55"/>
<circle cx="480.5" cy="15.2" r="1.3" fill="rgb(114,114,114)" opacity="0.40"/>
<circle cx="482.9" cy="44.0" r="0.6" fill="rgb(85,85,85)" opacity="0.75"/>
<circle cx="479.6" cy="45.8" r="0.9" fill="rgb(97,97,97)" opacity="0.73"/>
<circle cx="491.2" cy="38.7" r="0.9" fill="rgb(25,25,25)" opacity="0.52"/>
<circle cx="481.3" cy="37.9" r="0.8" fill="rgb(61,61,61)" opacity="0.47"/>
<circle cx="480.6" cy="38.7" r="1.2" fill="rgb(49,49,49)" opacity="0.81"/>
<circle cx="483.7" cy="48.2" r="0.9" fill="rgb(97,97,97)" opacity="0.63"/>
<circle cx="498.0" cy="36.8" r="1.0" fill="rgb(79,79,79)" opacity="0.38"/>
<circle cx="482.2" cy="23.0" r="1.1" fill="rgb(100,100,100)" opacity="0.69"/>
<circle cx="501.7" cy="40.1" r="1.7" fill="none" stroke="rgb(102,102,102)" stroke-width="0.6" opacity="0.73"/>
<circle cx="514.7" cy="43.6" r="1.1" fill="rgb(116,116,116)" opacity="0.70"/>
<circle cx="482.7" cy="37.5" r="0.7" fill="rgb(101,101,101)" opacity="0.60"/>
<circle cx="499.2" cy="15.2" r="0.6" fill="rgb(208,208,208)" opacity="0.50"/>
<circle cx="496.9" cy="32.2" r="1.1" fill="rgb(120,120,120)" opacity="0.77"/>
<circle cx="478.9" cy="58.2" r="0.5" fill="rgb(141,141,141)" opacity="0.74"/>
<circle cx="497.2" cy="36.2" r="1.0" fill="rgb(80,80,80)" opacity="0.55"/>
<circle cx="494.9" cy="37.5" r="1.0" fill="rgb(71,71,71)" opacity="0.38"/>
<circle cx="493.7" cy="25.7" r="0.6" fill="rgb(105,105,105)" opacity="0.57"/>
<circle cx="505.1" cy="48.9" r="0.6" fill="rgb(87,87,87)" opacity="0.74"/>
</g>
<rect x="464.00" y="64.10" width="5.00" height="1.60" fill="#222"/>
<text x="368.70" y="6.32" font-size="5.6" font-weight="bold" text-anchor="middle" fill="#111"  stroke="#111" stroke-width="0.12">C</text>
<text x="426.90" y="6.32" font-size="5.6" font-weight="bold" text-anchor="middle" fill="#111"  stroke="#111" stroke-width="0.12">All_1</text>
<text x="489.10" y="6.32" font-size="5.6" font-weight="bold" text-anchor="middle" fill="#111"  stroke="#111" stroke-width="0.12">D</text>
<text x="0.00" y="121.30" font-size="10" font-weight="bold" text-anchor="start" fill="#000" >D</text>
<line x1="56.70" y1="137.00" x2="56.70" y2="249.00" stroke="#777" stroke-width="1.1"/>
<line x1="55.20" y1="137.50" x2="56.70" y2="137.50" stroke="#555" stroke-width="0.7"/>
<text x="54.50" y="138.90" font-size="3.9" font-weight="bold" text-anchor="end" fill="#111"  stroke="#111" stroke-width="0.12">1000000.0</text>
<line x1="55.20" y1="159.60" x2="56.70" y2="159.60" stroke="#555" stroke-width="0.7"/>
<text x="54.50" y="161.00" font-size="3.9" font-weight="bold" text-anchor="end" fill="#111"  stroke="#111" stroke-width="0.12">800000.0</text>
<line x1="55.20" y1="181.70" x2="56.70" y2="181.70" stroke="#555" stroke-width="0.7"/>
<text x="54.50" y="183.10" font-size="3.9" font-weight="bold" text-anchor="end" fill="#111"  stroke="#111" stroke-width="0.12">600000.0</text>
<line x1="55.20" y1="204.00" x2="56.70" y2="204.00" stroke="#555" stroke-width="0.7"/>
<text x="54.50" y="205.40" font-size="3.9" font-weight="bold" text-anchor="end" fill="#111"  stroke="#111" stroke-width="0.12">400000.0</text>
<line x1="55.20" y1="226.20" x2="56.70" y2="226.20" stroke="#555" stroke-width="0.7"/>
<text x="54.50" y="227.60" font-size="3.9" font-weight="bold" text-anchor="end" fill="#111"  stroke="#111" stroke-width="0.12">200000.0</text>
<line x1="55.20" y1="248.50" x2="56.70" y2="248.50" stroke="#555" stroke-width="0.7"/>
<text x="54.50" y="249.90" font-size="3.9" font-weight="bold" text-anchor="end" fill="#111"  stroke="#111" stroke-width="0.12">0.0</text>
<line x1="57.00" y1="249.00" x2="250.00" y2="249.00" stroke="#444" stroke-width="0.9"/>
<line x1="73.30" y1="249.00" x2="73.30" y2="250.50" stroke="#444" stroke-width="0.7"/>
<line x1="105.20" y1="249.00" x2="105.20" y2="250.50" stroke="#444" stroke-width="0.7"/>
<line x1="137.10" y1="249.00" x2="137.10" y2="250.50" stroke="#444" stroke-width="0.7"/>
<line x1="169.30" y1="249.00" x2="169.30" y2="250.50" stroke="#444" stroke-width="0.7"/>
<line x1="201.50" y1="249.00" x2="201.50" y2="250.50" stroke="#444" stroke-width="0.7"/>
<line x1="233.60" y1="249.00" x2="233.60" y2="250.50" stroke="#444" stroke-width="0.7"/>
<text x="73.30" y="261.86" font-size="6" font-weight="bold" text-anchor="middle" fill="#111"  stroke="#111" stroke-width="0.12">C2</text>
<text x="105.20" y="261.86" font-size="6" font-weight="bold" text-anchor="middle" fill="#111"  stroke="#111" stroke-width="0.12">C3</text>
<text x="137.10" y="261.86" font-size="6" font-weight="bold" text-anchor="middle" fill="#111"  stroke="#111" stroke-width="0.12">All_1</text>
<text x="169.30" y="261.86" font-size="6" font-weight="bold" text-anchor="middle" fill="#111"  stroke="#111" stroke-width="0.12">All_2</text>
<text x="201.50" y="261.86" font-size="6" font-weight="bold" text-anchor="middle" fill="#111"  stroke="#111" stroke-width="0.12">D(b)</text>
<text x="233.60" y="261.86" font-size="6" font-weight="bold" text-anchor="middle" fill="#111"  stroke="#111" stroke-width="0.12">D(a)</text>
<line x1="70.80" y1="118.50" x2="169.00" y2="118.50" stroke="#222" stroke-width="1"/>
<text x="124.50" y="118.01" font-size="6.5" font-weight="bold" text-anchor="middle" fill="#1a1a1a"  stroke="#1a1a1a" stroke-width="0.12">*</text>
<line x1="70.80" y1="127.50" x2="138.00" y2="127.50" stroke="#222" stroke-width="1"/>
<text x="105.40" y="127.81" font-size="6.5" font-weight="bold" text-anchor="middle" fill="#1a1a1a"  stroke="#1a1a1a" stroke-width="0.12">*</text>
<text x="108.80" y="127.81" font-size="6.5" font-weight="bold" text-anchor="middle" fill="#1a1a1a"  stroke="#1a1a1a" stroke-width="0.12">*</text>
<line x1="101.70" y1="135.50" x2="169.00" y2="135.50" stroke="#222" stroke-width="1"/>
<text x="136.00" y="135.71" font-size="6.5" font-weight="bold" text-anchor="middle" fill="#1a1a1a"  stroke="#1a1a1a" stroke-width="0.12">*</text>
<line x1="101.70" y1="143.50" x2="136.70" y2="143.50" stroke="#222" stroke-width="1"/>
<text x="117.80" y="143.21" font-size="6.5" font-weight="bold" text-anchor="middle" fill="#1a1a1a"  stroke="#1a1a1a" stroke-width="0.12">*</text>
<text x="120.90" y="143.21" font-size="6.5" font-weight="bold" text-anchor="middle" fill="#1a1a1a"  stroke="#1a1a1a" stroke-width="0.12">*</text>
<circle cx="72.8" cy="193.5" r="1.05" fill="#111"/>
<circle cx="69.7" cy="198.7" r="1.05" fill="#111"/>
<circle cx="73.1" cy="199.8" r="1.05" fill="#111"/>
<circle cx="72.8" cy="203.1" r="1.05" fill="#111"/>
<circle cx="69.7" cy="213.4" r="1.05" fill="#111"/>
<circle cx="72.8" cy="214.3" r="1.05" fill="#111"/>
<circle cx="76.1" cy="212.2" r="1.05" fill="#111"/>
<circle cx="76.3" cy="215.5" r="1.05" fill="#111"/>
<circle cx="73.1" cy="218" r="1.05" fill="#111"/>
<circle cx="66.2" cy="228" r="1.05" fill="#111"/>
<circle cx="69.7" cy="229.2" r="1.05" fill="#111"/>
<circle cx="72.8" cy="230.3" r="1.05" fill="#111"/>
<circle cx="76.3" cy="229.6" r="1.05" fill="#111"/>
<circle cx="79.6" cy="231" r="1.05" fill="#111"/>
<circle cx="69.7" cy="232" r="1.05" fill="#111"/>
<circle cx="72.8" cy="233.4" r="1.05" fill="#111"/>
<circle cx="76.3" cy="233.1" r="1.05" fill="#111"/>
<circle cx="69.7" cy="237.9" r="1.05" fill="#111"/>
<circle cx="72.8" cy="239.7" r="1.05" fill="#111"/>
<circle cx="76.3" cy="237.5" r="1.05" fill="#111"/>
<circle cx="72.8" cy="245.4" r="1.05" fill="#111"/>
<circle cx="76.3" cy="244.8" r="1.05" fill="#111"/>
<circle cx="67.6" cy="224.8" r="1.05" fill="#111"/>
<circle cx="101.4" cy="184" r="1.05" fill="#111"/>
<circle cx="105" cy="185.7" r="1.05" fill="#111"/>
<circle cx="101.4" cy="207" r="1.05" fill="#111"/>
<circle cx="105" cy="207" r="1.05" fill="#111"/>
<circle cx="108.5" cy="207" r="1.05" fill="#111"/>
<circle cx="112" cy="205.3" r="1.05" fill="#111"/>
<circle cx="101.4" cy="211.3" r="1.05" fill="#111"/>
<circle cx="105" cy="212.1" r="1.05" fill="#111"/>
<circle cx="101.4" cy="217.3" r="1.05" fill="#111"/>
<circle cx="105" cy="217.3" r="1.05" fill="#111"/>
<circle cx="108.5" cy="217.3" r="1.05" fill="#111"/>
<circle cx="112" cy="215.2" r="1.05" fill="#111"/>
<circle cx="101.4" cy="224.7" r="1.05" fill="#111"/>
<circle cx="105" cy="225.5" r="1.05" fill="#111"/>
<circle cx="108.5" cy="224.7" r="1.05" fill="#111"/>
<circle cx="101.4" cy="229" r="1.05" fill="#111"/>
<circle cx="105" cy="230.2" r="1.05" fill="#111"/>
<circle cx="108.5" cy="228.3" r="1.05" fill="#111"/>
<circle cx="97.8" cy="231" r="1.05" fill="#111"/>
<circle cx="101.4" cy="233.4" r="1.05" fill="#111"/>
<circle cx="105" cy="234.1" r="1.05" fill="#111"/>
<circle cx="108.5" cy="232.6" r="1.05" fill="#111"/>
<circle cx="112" cy="232.1" r="1.05" fill="#111"/>
<circle cx="97.8" cy="235.7" r="1.05" fill="#111"/>
<circle cx="101.4" cy="237.3" r="1.05" fill="#111"/>
<circle cx="105" cy="238.9" r="1.05" fill="#111"/>
<circle cx="108.5" cy="236.8" r="1.05" fill="#111"/>
<circle cx="101.4" cy="242" r="1.05" fill="#111"/>
<circle cx="105" cy="243.9" r="1.05" fill="#111"/>
<circle cx="108.5" cy="242.8" r="1.05" fill="#111"/>
<circle cx="99.8" cy="220.7" r="1.05" fill="#111"/>
<circle cx="105" cy="220.7" r="1.05" fill="#111"/>
<circle cx="137" cy="150.5" r="1.05" fill="#111"/>
<circle cx="137" cy="178.8" r="1.05" fill="#111"/>
<circle cx="137" cy="184.1" r="1.05" fill="#111"/>
<circle cx="133.7" cy="189.8" r="1.05" fill="#111"/>
<circle cx="137" cy="189" r="1.05" fill="#111"/>
<circle cx="140.5" cy="190.5" r="1.05" fill="#111"/>
<circle cx="133.7" cy="192.9" r="1.05" fill="#111"/>
<circle cx="137" cy="192" r="1.05" fill="#111"/>
<circle cx="140.5" cy="195.6" r="1.05" fill="#111"/>
<circle cx="137" cy="194.8" r="1.05" fill="#111"/>
<circle cx="137" cy="198.1" r="1.05" fill="#111"/>
<circle cx="133.7" cy="200.8" r="1.05" fill="#111"/>
<circle cx="137" cy="202" r="1.05" fill="#111"/>
<circle cx="133.7" cy="205.5" r="1.05" fill="#111"/>
<circle cx="137" cy="205.5" r="1.05" fill="#111"/>
<circle cx="140.5" cy="205.5" r="1.05" fill="#111"/>
<circle cx="133.7" cy="210.8" r="1.05" fill="#111"/>
<circle cx="137" cy="210.8" r="1.05" fill="#111"/>
<circle cx="137" cy="214.9" r="1.05" fill="#111"/>
<circle cx="140.5" cy="213.7" r="1.05" fill="#111"/>
<circle cx="140.5" cy="217.8" r="1.05" fill="#111"/>
<circle cx="133.7" cy="219.3" r="1.05" fill="#111"/>
<circle cx="137" cy="219.8" r="1.05" fill="#111"/>
<circle cx="144" cy="221.3" r="1.05" fill="#111"/>
<circle cx="133.7" cy="222.5" r="1.05" fill="#111"/>
<circle cx="137" cy="223.3" r="1.05" fill="#111"/>
<circle cx="140.5" cy="222.5" r="1.05" fill="#111"/>
<circle cx="140.5" cy="224.8" r="1.05" fill="#111"/>
<circle cx="133.7" cy="226" r="1.05" fill="#111"/>
<circle cx="137" cy="226.8" r="1.05" fill="#111"/>
<circle cx="137" cy="230.6" r="1.05" fill="#111"/>
<circle cx="169.4" cy="152.3" r="1.05" fill="#111"/>
<circle cx="169.4" cy="157.5" r="1.05" fill="#111"/>
<circle cx="165.7" cy="175.7" r="1.05" fill="#111"/>
<circle cx="169.4" cy="175.9" r="1.05" fill="#111"/>
<circle cx="169.4" cy="189.2" r="1.05" fill="#111"/>
<circle cx="165.7" cy="193.9" r="1.05" fill="#111"/>
<circle cx="169.4" cy="196" r="1.05" fill="#111"/>
<circle cx="169.4" cy="199.7" r="1.05" fill="#111"/>
<circle cx="172.5" cy="199.9" r="1.05" fill="#111"/>
<circle cx="169" cy="212.5" r="1.05" fill="#111"/>
<circle cx="165.7" cy="215.1" r="1.05" fill="#111"/>
<circle cx="169" cy="217.4" r="1.05" fill="#111"/>
<circle cx="165.7" cy="219.5" r="1.05" fill="#111"/>
<circle cx="169" cy="221.6" r="1.05" fill="#111"/>
<circle cx="172.5" cy="221.6" r="1.05" fill="#111"/>
<circle cx="165.7" cy="229.5" r="1.05" fill="#111"/>
<circle cx="169" cy="229.8" r="1.05" fill="#111"/>
<circle cx="172.5" cy="228.9" r="1.05" fill="#111"/>
<circle cx="172.5" cy="232.4" r="1.05" fill="#111"/>
<circle cx="169" cy="234.1" r="1.05" fill="#111"/>
<circle cx="169" cy="203" r="1.05" fill="#111"/>
<circle cx="201.4" cy="176.6" r="1.05" fill="#111"/>
<circle cx="204.9" cy="176" r="1.05" fill="#111"/>
<circle cx="201.4" cy="193.5" r="1.05" fill="#111"/>
<circle cx="201.4" cy="202.8" r="1.05" fill="#111"/>
<circle cx="197.8" cy="206" r="1.05" fill="#111"/>
<circle cx="201.4" cy="208.1" r="1.05" fill="#111"/>
<circle cx="197.8" cy="216.6" r="1.05" fill="#111"/>
<circle cx="197.8" cy="220.6" r="1.05" fill="#111"/>
<circle cx="201.4" cy="219.3" r="1.05" fill="#111"/>
<circle cx="204.9" cy="221.6" r="1.05" fill="#111"/>
<circle cx="208.5" cy="220.6" r="1.05" fill="#111"/>
<circle cx="201.4" cy="222.9" r="1.05" fill="#111"/>
<circle cx="201.4" cy="225.9" r="1.05" fill="#111"/>
<circle cx="204.9" cy="229.5" r="1.05" fill="#111"/>
<circle cx="201.4" cy="230" r="1.05" fill="#111"/>
<circle cx="204.9" cy="232.3" r="1.05" fill="#111"/>
<circle cx="197.8" cy="233" r="1.05" fill="#111"/>
<circle cx="201.4" cy="233" r="1.05" fill="#111"/>
<circle cx="201.4" cy="239.8" r="1.05" fill="#111"/>
<circle cx="233.4" cy="184.6" r="1.3" fill="none" stroke="#1a1a1a" stroke-width="0.9"/>
<circle cx="233.4" cy="206.3" r="1.3" fill="none" stroke="#1a1a1a" stroke-width="0.9"/>
<circle cx="229.9" cy="211.3" r="1.3" fill="none" stroke="#1a1a1a" stroke-width="0.9"/>
<circle cx="233.4" cy="213.4" r="1.3" fill="none" stroke="#1a1a1a" stroke-width="0.9"/>
<circle cx="237" cy="212.7" r="1.3" fill="none" stroke="#1a1a1a" stroke-width="0.9"/>
<circle cx="226.3" cy="217.5" r="1.3" fill="none" stroke="#1a1a1a" stroke-width="0.9"/>
<circle cx="229.9" cy="218.1" r="1.3" fill="none" stroke="#1a1a1a" stroke-width="0.9"/>
<circle cx="237" cy="218.1" r="1.3" fill="none" stroke="#1a1a1a" stroke-width="0.9"/>
<circle cx="233.4" cy="221.6" r="1.3" fill="none" stroke="#1a1a1a" stroke-width="0.9"/>
<circle cx="229.9" cy="222.3" r="1.3" fill="none" stroke="#1a1a1a" stroke-width="0.9"/>
<circle cx="237" cy="222.3" r="1.3" fill="none" stroke="#1a1a1a" stroke-width="0.9"/>
<circle cx="229.9" cy="225.6" r="1.3" fill="none" stroke="#1a1a1a" stroke-width="0.9"/>
<circle cx="233.4" cy="225.6" r="1.3" fill="none" stroke="#1a1a1a" stroke-width="0.9"/>
<circle cx="237" cy="225.6" r="1.3" fill="none" stroke="#1a1a1a" stroke-width="0.9"/>
<circle cx="229.9" cy="228.8" r="1.3" fill="none" stroke="#1a1a1a" stroke-width="0.9"/>
<circle cx="233.4" cy="228.8" r="1.3" fill="none" stroke="#1a1a1a" stroke-width="0.9"/>
<circle cx="240.6" cy="228.2" r="1.3" fill="none" stroke="#1a1a1a" stroke-width="0.9"/>
<circle cx="226.3" cy="231.8" r="1.3" fill="none" stroke="#1a1a1a" stroke-width="0.9"/>
<circle cx="229.9" cy="233.6" r="1.3" fill="none" stroke="#1a1a1a" stroke-width="0.9"/>
<circle cx="233.4" cy="233.6" r="1.3" fill="none" stroke="#1a1a1a" stroke-width="0.9"/>
<circle cx="237" cy="232.3" r="1.3" fill="none" stroke="#1a1a1a" stroke-width="0.9"/>
<circle cx="240.6" cy="234.1" r="1.3" fill="none" stroke="#1a1a1a" stroke-width="0.9"/>
<circle cx="233.4" cy="236.6" r="1.3" fill="none" stroke="#1a1a1a" stroke-width="0.9"/>
<circle cx="237" cy="236.6" r="1.3" fill="none" stroke="#1a1a1a" stroke-width="0.9"/>
<line x1="62.80" y1="223.70" x2="83.80" y2="223.70" stroke="#3a3a3a" stroke-width="0.9"/>
<line x1="68.00" y1="220.40" x2="78.60" y2="220.40" stroke="#3a3a3a" stroke-width="0.9"/>
<line x1="68.00" y1="226.50" x2="78.60" y2="226.50" stroke="#3a3a3a" stroke-width="0.9"/>
<line x1="73.30" y1="220.40" x2="73.30" y2="226.50" stroke="#3a3a3a" stroke-width="0.9"/>
<line x1="94.70" y1="222.30" x2="115.70" y2="222.30" stroke="#3a3a3a" stroke-width="0.9"/>
<line x1="99.90" y1="220.40" x2="110.50" y2="220.40" stroke="#3a3a3a" stroke-width="0.9"/>
<line x1="99.90" y1="225.20" x2="110.50" y2="225.20" stroke="#3a3a3a" stroke-width="0.9"/>
<line x1="105.20" y1="220.40" x2="105.20" y2="225.20" stroke="#3a3a3a" stroke-width="0.9"/>
<line x1="126.60" y1="205.50" x2="147.60" y2="205.50" stroke="#3a3a3a" stroke-width="0.9"/>
<line x1="131.80" y1="202.20" x2="142.40" y2="202.20" stroke="#3a3a3a" stroke-width="0.9"/>
<line x1="131.80" y1="208.80" x2="142.40" y2="208.80" stroke="#3a3a3a" stroke-width="0.9"/>
<line x1="137.10" y1="202.20" x2="137.10" y2="208.80" stroke="#3a3a3a" stroke-width="0.9"/>
<line x1="158.80" y1="205.50" x2="179.80" y2="205.50" stroke="#3a3a3a" stroke-width="0.9"/>
<line x1="164.00" y1="200.30" x2="174.60" y2="200.30" stroke="#3a3a3a" stroke-width="0.9"/>
<line x1="164.00" y1="210.40" x2="174.60" y2="210.40" stroke="#3a3a3a" stroke-width="0.9"/>
<line x1="169.30" y1="200.30" x2="169.30" y2="210.40" stroke="#3a3a3a" stroke-width="0.9"/>
<line x1="191.00" y1="216.60" x2="212.00" y2="216.60" stroke="#3a3a3a" stroke-width="0.9"/>
<line x1="196.20" y1="213.10" x2="206.80" y2="213.10" stroke="#3a3a3a" stroke-width="0.9"/>
<line x1="196.20" y1="219.80" x2="206.80" y2="219.80" stroke="#3a3a3a" stroke-width="0.9"/>
<line x1="201.50" y1="213.10" x2="201.50" y2="219.80" stroke="#3a3a3a" stroke-width="0.9"/>
<line x1="223.10" y1="223.80" x2="244.10" y2="223.80" stroke="#3a3a3a" stroke-width="0.9"/>
<line x1="228.30" y1="221.10" x2="238.90" y2="221.10" stroke="#3a3a3a" stroke-width="0.9"/>
<line x1="228.30" y1="226.40" x2="238.90" y2="226.40" stroke="#3a3a3a" stroke-width="0.9"/>
<line x1="233.60" y1="221.10" x2="233.60" y2="226.40" stroke="#3a3a3a" stroke-width="0.9"/>
<text x="0" y="0" font-size="6.65" font-weight="bold" text-anchor="middle" fill="#111" stroke="#111" stroke-width="0.12" transform="translate(26.19,184.90) rotate(-90)">Area of colonies G/M (µm<tspan font-size="4.2" dy="-2.4">2</tspan><tspan dy="2.4">)</tspan></text>
<text x="303.80" y="121.00" font-size="10" font-weight="bold" text-anchor="start" fill="#000" >E</text>
<text x="405.20" y="97.03" font-size="7.3" font-weight="bold" text-anchor="middle" fill="#111"  stroke="#111" stroke-width="0.12">CONTROL</text>
<text x="464.90" y="97.33" font-size="7.3" font-weight="bold" text-anchor="middle" fill="#111"  stroke="#111" stroke-width="0.12">FPD/AML</text>
<text x="341.40" y="132.76" font-size="7.4" font-weight="bold" text-anchor="middle" fill="#111"  stroke="#111" stroke-width="0.12">Macrophages</text>
<text x="341.30" y="143.29" font-size="7.2" font-weight="bold" text-anchor="middle" fill="#111"  stroke="#111" stroke-width="0.12">(CD14<tspan font-size="4.9" dy="-2.6">high</tspan><tspan dy="2.6">CD15</tspan><tspan font-size="4.9" dy="-2.6">low</tspan><tspan dy="2.6">)</tspan></text>
<text x="345.50" y="186.86" font-size="7.4" font-weight="bold" text-anchor="middle" fill="#111"  stroke="#111" stroke-width="0.12">Granulocytes</text>
<text x="346.10" y="197.63" font-size="7.3" font-weight="bold" text-anchor="middle" fill="#111"  stroke="#111" stroke-width="0.12">(CD15<tspan font-size="4.9" dy="-2.6">high</tspan><tspan dy="2.6">)</tspan></text>
<rect x="374.60" y="106.40" width="57.70" height="52.10" fill="#e8e8e3" stroke="#3a3a3a" stroke-width="1"/>
<rect x="374.60" y="161.50" width="57.70" height="51.50" fill="#e8e8e3" stroke="#3a3a3a" stroke-width="1"/>
<rect x="435.20" y="106.40" width="57.40" height="52.10" fill="#e8e8e3" stroke="#3a3a3a" stroke-width="1"/>
<rect x="435.20" y="161.50" width="57.40" height="51.50" fill="#e8e8e3" stroke="#3a3a3a" stroke-width="1"/>
<filter id="cb" x="-10%" y="-10%" width="120%" height="120%"><feGaussianBlur stdDeviation="0.45"/></filter>
<g filter="url(#cb)">
<path d="M424.14,131.60 C424.40,133.76 424.88,136.27 424.35,138.38 C423.82,140.48 422.39,142.59 420.96,144.24 C419.53,145.89 417.66,147.33 415.77,148.27 C413.89,149.20 411.75,149.33 409.67,149.85 C407.58,150.37 405.38,151.52 403.27,151.39 C401.16,151.25 398.80,150.26 397.00,149.03 C395.20,147.81 393.76,145.83 392.48,144.03 C391.20,142.22 389.90,140.28 389.30,138.21 C388.70,136.13 388.68,133.72 388.88,131.60 C389.08,129.48 389.87,127.49 390.51,125.46 C391.16,123.43 391.63,121.21 392.76,119.42 C393.89,117.62 395.48,115.63 397.29,114.69 C399.10,113.74 401.49,114.22 403.60,113.74 C405.70,113.26 407.95,111.52 409.93,111.81 C411.90,112.11 413.75,114.20 415.46,115.51 C417.16,116.82 418.95,118.01 420.17,119.66 C421.39,121.31 422.12,123.43 422.78,125.42 C423.44,127.41 423.88,129.44 424.14,131.60Z" fill="#c4b8e8"/>
<path d="M422.61,131.60 C422.85,133.58 423.29,135.88 422.81,137.81 C422.32,139.75 421.02,141.68 419.71,143.19 C418.41,144.70 416.69,146.03 414.98,146.88 C413.26,147.74 411.30,147.86 409.40,148.34 C407.50,148.81 405.49,149.87 403.56,149.75 C401.64,149.62 399.48,148.71 397.84,147.59 C396.20,146.46 394.88,144.65 393.71,143.00 C392.54,141.34 391.35,139.56 390.80,137.66 C390.25,135.76 390.24,133.55 390.42,131.60 C390.61,129.65 391.32,127.83 391.91,125.97 C392.50,124.11 392.93,122.07 393.96,120.43 C394.99,118.78 396.45,116.96 398.10,116.09 C399.75,115.22 401.94,115.66 403.86,115.22 C405.78,114.78 407.83,113.18 409.64,113.45 C411.44,113.72 413.13,115.65 414.69,116.85 C416.24,118.05 417.87,119.13 418.99,120.65 C420.10,122.16 420.77,124.11 421.38,125.93 C421.98,127.76 422.37,129.62 422.61,131.60Z" fill="#9f8cd8"/>
<circle cx="396.6" cy="121.9" r="1.30" fill="#e9e3f5" opacity="0.92"/>
<circle cx="419.6" cy="126.7" r="1.39" fill="#e9e3f5" opacity="0.92"/>
<circle cx="417.5" cy="133.6" r="1.41" fill="#e9e3f5" opacity="0.92"/>
<circle cx="397.5" cy="119.2" r="0.78" fill="#e9e3f5" opacity="0.92"/>
<circle cx="394.8" cy="128.3" r="0.71" fill="#e9e3f5" opacity="0.92"/>
<circle cx="408.4" cy="140.0" r="1.39" fill="#e9e3f5" opacity="0.92"/>
<circle cx="421.7" cy="131.8" r="0.86" fill="#e9e3f5" opacity="0.92"/>
<circle cx="410.1" cy="147.3" r="1.35" fill="#e9e3f5" opacity="0.92"/>
<circle cx="402.7" cy="147.0" r="1.10" fill="#e9e3f5" opacity="0.92"/>
<circle cx="419.1" cy="126.7" r="1.42" fill="#e9e3f5" opacity="0.92"/>
<circle cx="413.6" cy="126.1" r="0.97" fill="#e9e3f5" opacity="0.92"/>
<circle cx="409.7" cy="136.9" r="0.75" fill="#e9e3f5" opacity="0.92"/>
<circle cx="402.6" cy="143.5" r="0.70" fill="#e9e3f5" opacity="0.92"/>
<circle cx="401.2" cy="145.2" r="1.06" fill="#e9e3f5" opacity="0.92"/>
<circle cx="402.1" cy="141.9" r="1.23" fill="#e9e3f5" opacity="0.92"/>
<circle cx="421.6" cy="137.2" r="0.72" fill="#e9e3f5" opacity="0.92"/>
<circle cx="406.6" cy="116.7" r="0.71" fill="#e9e3f5" opacity="0.92"/>
<circle cx="408.9" cy="122.1" r="1.13" fill="#e9e3f5" opacity="0.92"/>
<circle cx="413.3" cy="146.0" r="0.85" fill="#e9e3f5" opacity="0.92"/>
<circle cx="407.2" cy="116.0" r="1.41" fill="#e9e3f5" opacity="0.92"/>
<circle cx="401.2" cy="139.6" r="1.09" fill="#e9e3f5" opacity="0.92"/>
<circle cx="406.5" cy="117.1" r="1.34" fill="#e9e3f5" opacity="0.92"/>
<circle cx="421.9" cy="135.2" r="0.77" fill="#e9e3f5" opacity="0.92"/>
<circle cx="399.8" cy="142.3" r="1.39" fill="#e9e3f5" opacity="0.92"/>
<circle cx="398.3" cy="144.8" r="1.11" fill="#e9e3f5" opacity="0.92"/>
<circle cx="403.1" cy="140.0" r="0.83" fill="#e9e3f5" opacity="0.92"/>
<circle cx="412.1" cy="134.5" r="1.22" fill="#e9e3f5" opacity="0.92"/>
<circle cx="413.1" cy="131.5" r="0.74" fill="#e9e3f5" opacity="0.92"/>
<circle cx="418.4" cy="130.6" r="1.00" fill="#e9e3f5" opacity="0.92"/>
<circle cx="407.6" cy="144.0" r="1.32" fill="#e9e3f5" opacity="0.92"/>
<circle cx="396.5" cy="134.5" r="0.74" fill="#e9e3f5" opacity="0.92"/>
<circle cx="391.8" cy="132.2" r="0.80" fill="#e9e3f5" opacity="0.92"/>
<circle cx="404.8" cy="115.9" r="1.17" fill="#e9e3f5" opacity="0.92"/>
<circle cx="411.5" cy="124.3" r="1.04" fill="#e9e3f5" opacity="0.92"/>
<circle cx="421.6" cy="131.5" r="1.43" fill="#e9e3f5" opacity="0.92"/>
<circle cx="395.8" cy="134.9" r="1.25" fill="#e9e3f5" opacity="0.92"/>
<circle cx="401.5" cy="135.1" r="0.98" fill="#e9e3f5" opacity="0.92"/>
<circle cx="422.4" cy="130.4" r="1.17" fill="#e9e3f5" opacity="0.92"/>
<circle cx="413.8" cy="136.1" r="1.29" fill="#e9e3f5" opacity="0.92"/>
<circle cx="413.1" cy="124.4" r="1.29" fill="#e9e3f5" opacity="0.92"/>
<circle cx="408.7" cy="118.3" r="1.20" fill="#e9e3f5" opacity="0.92"/>
<circle cx="392.4" cy="132.9" r="1.22" fill="#e9e3f5" opacity="0.92"/>
<circle cx="402.3" cy="146.8" r="1.19" fill="#e9e3f5" opacity="0.92"/>
<circle cx="411.9" cy="119.7" r="1.30" fill="#e9e3f5" opacity="0.92"/>
<circle cx="399.1" cy="142.2" r="1.25" fill="#e9e3f5" opacity="0.92"/>
<circle cx="411.1" cy="123.1" r="1.33" fill="#e9e3f5" opacity="0.92"/>
<circle cx="415.8" cy="121.8" r="1.43" fill="#e9e3f5" opacity="0.92"/>
<circle cx="417.8" cy="128.5" r="1.10" fill="#e9e3f5" opacity="0.92"/>
<circle cx="414.0" cy="144.4" r="1.40" fill="#e9e3f5" opacity="0.92"/>
<circle cx="393.3" cy="133.5" r="1.24" fill="#e9e3f5" opacity="0.92"/>
<circle cx="408.9" cy="119.5" r="1.20" fill="#e9e3f5" opacity="0.92"/>
<circle cx="395.4" cy="137.7" r="1.28" fill="#e9e3f5" opacity="0.92"/>
<circle cx="397.6" cy="121.2" r="0.72" fill="#e9e3f5" opacity="0.92"/>
<circle cx="412.4" cy="140.7" r="1.19" fill="#e9e3f5" opacity="0.92"/>
<circle cx="409.2" cy="144.8" r="1.17" fill="#e9e3f5" opacity="0.92"/>
<circle cx="417.3" cy="134.5" r="0.87" fill="#e9e3f5" opacity="0.92"/>
<circle cx="412.2" cy="133.6" r="0.94" fill="#e9e3f5" opacity="0.92"/>
<circle cx="409.6" cy="138.1" r="0.73" fill="#e9e3f5" opacity="0.92"/>
<circle cx="396.8" cy="133.8" r="1.16" fill="#e9e3f5" opacity="0.92"/>
<circle cx="399.5" cy="136.4" r="1.01" fill="#e9e3f5" opacity="0.92"/>
<circle cx="417.7" cy="141.4" r="0.98" fill="#e9e3f5" opacity="0.92"/>
<circle cx="419.0" cy="134.5" r="0.77" fill="#e9e3f5" opacity="0.92"/>
<circle cx="392.7" cy="123.9" r="1.31" fill="#e9e3f5" opacity="0.92"/>
<circle cx="393.8" cy="138.7" r="1.18" fill="#e9e3f5" opacity="0.92"/>
<circle cx="402.4" cy="136.1" r="1.15" fill="#e9e3f5" opacity="0.92"/>
<circle cx="392.0" cy="125.4" r="1.43" fill="#e9e3f5" opacity="0.92"/>
<path d="M407.67,129.20 C407.55,130.47 407.35,131.70 406.75,132.72 C406.15,133.74 405.16,134.81 404.07,135.32 C402.98,135.82 401.27,136.18 400.20,135.75 C399.12,135.33 398.22,133.84 397.62,132.74 C397.02,131.65 396.60,130.40 396.58,129.20 C396.56,128.00 396.91,126.68 397.51,125.57 C398.11,124.46 399.09,122.89 400.17,122.53 C401.24,122.18 402.73,123.03 403.95,123.45 C405.18,123.88 406.89,124.14 407.51,125.10 C408.13,126.05 407.80,127.93 407.67,129.20Z" fill="#5a2aa2"/>
<path d="M412.89,122.75 C413.07,123.46 413.19,124.25 412.83,125.00 C412.46,125.75 411.62,126.56 410.69,127.26 C409.75,127.97 408.34,129.04 407.20,129.24 C406.07,129.44 404.81,128.86 403.88,128.47 C402.94,128.07 401.74,127.57 401.59,126.86 C401.44,126.15 402.44,125.06 402.96,124.21 C403.48,123.36 403.82,122.46 404.72,121.76 C405.63,121.07 407.21,120.21 408.39,120.03 C409.56,119.86 411.01,120.25 411.76,120.70 C412.51,121.16 412.71,122.03 412.89,122.75Z" fill="#5f30a8"/>
<circle cx="406" cy="129" r="1.2" fill="#b9a6e0"/>
<path d="M485.55,130.80 C485.48,132.73 484.56,134.73 483.79,136.54 C483.02,138.34 482.03,139.99 480.94,141.64 C479.84,143.30 478.83,145.33 477.23,146.47 C475.63,147.61 473.31,148.01 471.32,148.49 C469.33,148.97 467.33,149.27 465.30,149.34 C463.27,149.41 461.06,149.47 459.14,148.91 C457.21,148.35 455.45,147.10 453.75,145.97 C452.06,144.84 450.14,143.69 448.97,142.13 C447.80,140.56 447.38,138.45 446.72,136.56 C446.07,134.67 445.06,132.72 445.05,130.80 C445.03,128.88 445.95,126.87 446.64,125.01 C447.33,123.15 448.07,121.27 449.20,119.63 C450.33,118.00 451.76,116.34 453.41,115.18 C455.06,114.02 457.14,113.27 459.12,112.66 C461.11,112.05 463.24,111.50 465.30,111.50 C467.36,111.50 469.59,111.91 471.48,112.64 C473.38,113.36 474.99,114.71 476.68,115.85 C478.37,116.99 480.37,117.97 481.62,119.48 C482.88,120.99 483.56,123.05 484.22,124.93 C484.87,126.82 485.62,128.87 485.55,130.80Z" fill="#7d64c8"/>
<path d="M484.22,130.80 C484.15,132.57 483.31,134.40 482.60,136.05 C481.89,137.70 480.98,139.21 479.97,140.73 C478.97,142.24 478.04,144.10 476.56,145.14 C475.09,146.19 472.96,146.56 471.14,146.99 C469.31,147.43 467.47,147.71 465.60,147.77 C463.73,147.84 461.70,147.89 459.93,147.38 C458.16,146.86 456.54,145.72 454.98,144.69 C453.43,143.65 451.67,142.60 450.59,141.17 C449.51,139.73 449.12,137.80 448.52,136.07 C447.92,134.35 446.99,132.56 446.98,130.80 C446.97,129.04 447.81,127.21 448.45,125.50 C449.08,123.80 449.76,122.08 450.80,120.58 C451.84,119.08 453.15,117.57 454.67,116.50 C456.19,115.44 458.10,114.76 459.92,114.19 C461.75,113.63 463.71,113.14 465.60,113.13 C467.49,113.13 469.54,113.51 471.28,114.18 C473.03,114.84 474.50,116.08 476.06,117.12 C477.61,118.16 479.45,119.05 480.60,120.44 C481.76,121.82 482.38,123.70 482.99,125.43 C483.59,127.16 484.28,129.03 484.22,130.80Z" fill="#a08cd8"/>
<circle cx="468.6" cy="122.8" r="1.0" fill="#8670cc" opacity="0.55"/>
<circle cx="468.2" cy="126.4" r="1.3" fill="#8670cc" opacity="0.55"/>
<circle cx="455.0" cy="126.8" r="0.9" fill="#8670cc" opacity="0.55"/>
<circle cx="458.8" cy="123.2" r="1.7" fill="#8670cc" opacity="0.55"/>
<circle cx="480.4" cy="133.6" r="1.0" fill="#8670cc" opacity="0.55"/>
<circle cx="470.1" cy="121.2" r="1.6" fill="#8670cc" opacity="0.55"/>
<circle cx="469.5" cy="138.8" r="0.9" fill="#8670cc" opacity="0.55"/>
<circle cx="468.0" cy="120.2" r="1.0" fill="#8670cc" opacity="0.55"/>
<circle cx="467.5" cy="135.0" r="1.0" fill="#8670cc" opacity="0.55"/>
<circle cx="456.8" cy="127.3" r="1.5" fill="#8670cc" opacity="0.55"/>
<circle cx="478.2" cy="137.3" r="1.8" fill="#8670cc" opacity="0.55"/>
<circle cx="465.2" cy="118.1" r="1.6" fill="#8670cc" opacity="0.55"/>
<circle cx="474.4" cy="136.7" r="0.9" fill="#8670cc" opacity="0.55"/>
<circle cx="468.2" cy="120.2" r="0.9" fill="#8670cc" opacity="0.55"/>
<circle cx="453.6" cy="135.5" r="1.4" fill="#8670cc" opacity="0.55"/>
<circle cx="476.5" cy="141.0" r="0.9" fill="#8670cc" opacity="0.55"/>
<circle cx="474.2" cy="118.7" r="1.6" fill="#8670cc" opacity="0.55"/>
<circle cx="476.3" cy="127.4" r="1.0" fill="#8670cc" opacity="0.55"/>
<circle cx="453.3" cy="133.2" r="1.6" fill="#8670cc" opacity="0.55"/>
<circle cx="455.1" cy="140.7" r="0.8" fill="#8670cc" opacity="0.55"/>
<circle cx="463.0" cy="131.1" r="1.2" fill="#8670cc" opacity="0.55"/>
<circle cx="471.1" cy="130.7" r="1.8" fill="#8670cc" opacity="0.55"/>
<circle cx="476.3" cy="124.0" r="0.9" fill="#8670cc" opacity="0.55"/>
<circle cx="453.7" cy="133.2" r="0.9" fill="#8670cc" opacity="0.55"/>
<circle cx="464.6" cy="135.3" r="1.6" fill="#8670cc" opacity="0.55"/>
<circle cx="478.4" cy="123.7" r="1.6" fill="#8670cc" opacity="0.55"/>
<circle cx="462.7" cy="129.3" r="1.3" fill="#8670cc" opacity="0.55"/>
<circle cx="466.9" cy="118.0" r="0.8" fill="#8670cc" opacity="0.55"/>
<circle cx="470.4" cy="131.2" r="1.7" fill="#8670cc" opacity="0.55"/>
<circle cx="473.1" cy="137.1" r="1.3" fill="#8670cc" opacity="0.55"/>
<circle cx="472.8" cy="120.3" r="2" fill="#ece6f6"/>
<circle cx="475.8" cy="124.4" r="2" fill="#ece6f6"/>
<circle cx="471.4" cy="127.4" r="2.4" fill="#ece6f6"/>
<circle cx="478.9" cy="129" r="1.8" fill="#ece6f6"/>
<circle cx="479.6" cy="133.1" r="2" fill="#ece6f6"/>
<circle cx="477.6" cy="138.2" r="2.4" fill="#ece6f6"/>
<circle cx="472.2" cy="142.8" r="1.7" fill="#ece6f6"/>
<circle cx="465" cy="146" r="1.5" fill="#ece6f6"/>
<circle cx="461.5" cy="145.4" r="1.3" fill="#ece6f6"/>
<circle cx="456.4" cy="121.4" r="1.5" fill="#ece6f6"/>
<circle cx="452.3" cy="118.8" r="1.2" fill="#ece6f6"/>
<circle cx="456.4" cy="143.4" r="1.2" fill="#ece6f6"/>
<circle cx="466.6" cy="136.7" r="1.2" fill="#ece6f6"/>
<circle cx="468.5" cy="131.6" r="1.0" fill="#ece6f6"/>
<circle cx="460.5" cy="117.5" r="1.1" fill="#ece6f6"/>
<circle cx="470" cy="147" r="1.1" fill="#ece6f6"/>
<circle cx="482" cy="126" r="1.1" fill="#ece6f6"/>
<circle cx="474" cy="145" r="1.0" fill="#ece6f6"/>
<circle cx="464.6" cy="120.3" r="4.6" fill="#ece4f2"/><circle cx="464.6" cy="120.3" r="4.6" fill="none" stroke="#8e78cc" stroke-width="0.5"/>
<path d="M460.15,132.30 C460.12,134.02 459.82,135.88 459.25,137.37 C458.69,138.86 457.77,140.45 456.76,141.23 C455.75,142.02 454.38,142.10 453.20,142.08 C452.02,142.05 450.73,141.86 449.70,141.09 C448.66,140.33 447.60,138.96 446.99,137.50 C446.38,136.03 445.95,133.97 446.02,132.30 C446.09,130.63 446.80,128.92 447.41,127.46 C448.03,125.99 448.73,124.39 449.70,123.51 C450.66,122.63 452.04,122.16 453.20,122.18 C454.36,122.20 455.61,122.82 456.65,123.64 C457.69,124.45 458.87,125.62 459.45,127.07 C460.04,128.51 460.18,130.58 460.15,132.30Z" fill="#5626a6"/>
<circle cx="451" cy="128" r="1.1" fill="#6c3cb4" opacity="0.8"/>
<circle cx="455" cy="134" r="1.1" fill="#6c3cb4" opacity="0.8"/>
<circle cx="452" cy="138" r="1.1" fill="#6c3cb4" opacity="0.8"/>
<circle cx="454.5" cy="126.5" r="1.1" fill="#6c3cb4" opacity="0.8"/>
<circle cx="450.5" cy="133.5" r="1.1" fill="#6c3cb4" opacity="0.8"/>
<path d="M415.60,176.48 C416.73,178.62 417.43,181.27 417.49,183.59 C417.54,185.91 416.87,188.30 415.94,190.39 C415.01,192.49 413.74,195.01 411.90,196.17 C410.06,197.33 407.24,197.51 404.91,197.36 C402.58,197.21 399.95,196.55 397.93,195.27 C395.91,193.98 393.98,191.78 392.81,189.64 C391.64,187.49 391.05,184.81 390.91,182.40 C390.77,179.99 390.98,177.20 391.98,175.17 C392.99,173.15 395.00,171.40 396.94,170.26 C398.89,169.12 401.39,168.26 403.68,168.35 C405.96,168.43 408.66,169.41 410.65,170.77 C412.64,172.12 414.46,174.34 415.60,176.48Z" fill="#d6cbec"/>
<path d="M414.40,177.17 C415.43,179.10 416.06,181.50 416.12,183.59 C416.18,185.68 415.59,187.83 414.76,189.72 C413.94,191.60 412.82,193.87 411.17,194.90 C409.53,195.94 407.00,196.10 404.91,195.95 C402.82,195.80 400.46,195.20 398.64,194.03 C396.83,192.86 395.09,190.87 394.03,188.93 C392.97,186.99 392.43,184.57 392.29,182.40 C392.16,180.23 392.33,177.71 393.22,175.89 C394.12,174.07 395.91,172.50 397.65,171.48 C399.39,170.46 401.63,169.70 403.68,169.79 C405.73,169.88 408.15,170.77 409.94,172.00 C411.73,173.23 413.37,175.24 414.40,177.17Z" fill="#dcd3ef"/>
<path d="M413.5,176.8 C409,173.5 401,173.5 397.5,179 C394.5,183.5 395.5,189 399.5,191.8 C402.5,193.6 405.5,193.8 407.5,193" fill="none" stroke="#8154c8" stroke-width="4.8" stroke-linecap="round"/>
<circle cx="414" cy="178" r="2.4" fill="#8456c9"/>
<circle cx="410.5" cy="174.2" r="2.3" fill="#8456c9"/>
<circle cx="404.5" cy="173.3" r="2.4" fill="#8456c9"/>
<circle cx="399.3" cy="175.8" r="2.4" fill="#8456c9"/>
<circle cx="395.6" cy="180.2" r="2.3" fill="#8456c9"/>
<circle cx="394.5" cy="185.5" r="2.5" fill="#8456c9"/>
<circle cx="396.3" cy="190.5" r="2.4" fill="#8456c9"/>
<circle cx="401" cy="194" r="2.4" fill="#8456c9"/>
<circle cx="406.5" cy="195" r="2.3" fill="#8456c9"/>
<circle cx="402.5" cy="187" r="1.6" fill="#8456c9"/>
<circle cx="407.5" cy="178" r="1.5" fill="#8456c9"/>
<circle cx="404.5" cy="184.5" r="1.6" fill="#cfc2ea"/>
<path d="M479.06,187.00 C478.93,189.26 477.44,191.58 476.25,193.53 C475.07,195.49 473.73,197.59 471.94,198.74 C470.15,199.90 467.72,200.33 465.50,200.46 C463.28,200.59 460.60,200.57 458.63,199.53 C456.66,198.48 454.89,196.26 453.70,194.17 C452.50,192.09 451.31,189.29 451.47,187.00 C451.63,184.71 453.41,182.40 454.65,180.40 C455.89,178.41 457.11,176.09 458.92,175.01 C460.73,173.93 463.34,173.86 465.50,173.92 C467.66,173.98 469.97,174.34 471.89,175.35 C473.81,176.37 475.83,178.05 477.03,179.99 C478.22,181.94 479.19,184.74 479.06,187.00Z" fill="#d6cbea"/>
<path d="M477.53,187.00 C477.42,189.01 476.09,191.09 475.04,192.83 C473.99,194.58 472.80,196.45 471.21,197.48 C469.62,198.51 467.47,198.90 465.50,199.02 C463.53,199.13 461.15,199.12 459.40,198.18 C457.66,197.25 456.09,195.27 455.03,193.40 C453.97,191.54 452.91,189.05 453.05,187.00 C453.19,184.95 454.77,182.90 455.87,181.11 C456.97,179.33 458.06,177.26 459.66,176.29 C461.27,175.33 463.58,175.27 465.50,175.32 C467.42,175.37 469.46,175.70 471.17,176.60 C472.87,177.50 474.67,179.01 475.73,180.75 C476.79,182.48 477.64,184.99 477.53,187.00Z" fill="#ddd4ee"/>
<path d="M462.86,183.20 C462.80,184.69 462.70,186.45 462.19,187.44 C461.68,188.44 460.67,188.85 459.82,189.17 C458.97,189.49 457.77,190.00 457.10,189.36 C456.42,188.71 456.04,186.72 455.77,185.31 C455.50,183.90 455.28,182.32 455.49,180.91 C455.70,179.51 456.32,177.58 457.05,176.90 C457.78,176.22 458.95,176.60 459.86,176.86 C460.77,177.12 462.02,177.42 462.52,178.48 C463.02,179.54 462.92,181.71 462.86,183.20Z" fill="#8154c8"/>
<path d="M477.10,180.60 C476.95,181.59 475.67,182.44 474.86,183.24 C474.05,184.04 473.28,185.15 472.25,185.38 C471.23,185.60 469.77,185.07 468.71,184.57 C467.65,184.06 466.26,183.26 465.90,182.34 C465.53,181.42 466.10,180.08 466.52,179.06 C466.95,178.04 467.50,176.65 468.44,176.22 C469.37,175.78 470.91,176.26 472.13,176.44 C473.35,176.62 474.93,176.60 475.76,177.29 C476.58,177.99 477.25,179.61 477.10,180.60Z" fill="#8154c8"/>
<path d="M472.53,193.40 C472.53,194.38 472.31,195.67 471.65,196.35 C471.00,197.03 469.64,197.35 468.59,197.49 C467.55,197.64 466.31,197.64 465.38,197.22 C464.46,196.80 463.35,195.86 463.02,194.99 C462.70,194.11 463.06,192.86 463.46,191.96 C463.85,191.05 464.51,190.05 465.37,189.56 C466.24,189.07 467.60,188.89 468.64,189.04 C469.69,189.19 470.98,189.74 471.63,190.47 C472.27,191.20 472.52,192.42 472.53,193.40Z" fill="#8154c8"/>
<path d="M468.02,186.80 C467.99,187.53 467.37,188.36 466.91,188.90 C466.44,189.44 465.79,190.01 465.20,190.04 C464.61,190.06 463.84,189.59 463.37,189.06 C462.89,188.52 462.36,187.54 462.36,186.80 C462.37,186.06 462.93,185.12 463.41,184.59 C463.88,184.06 464.59,183.65 465.20,183.63 C465.81,183.62 466.60,183.97 467.07,184.50 C467.54,185.03 468.04,186.07 468.02,186.80Z" fill="#8a5ecc"/>
<circle cx="457.5" cy="177.5" r="1.8" fill="#8456c9"/>
<circle cx="461" cy="189.5" r="1.8" fill="#8456c9"/>
<circle cx="475.5" cy="178" r="1.7" fill="#8456c9"/>
<circle cx="473.5" cy="186" r="1.6" fill="#8456c9"/>
<circle cx="471.5" cy="197" r="1.6" fill="#8456c9"/>
<circle cx="463.8" cy="196" r="1.5" fill="#8456c9"/>
<circle cx="403" cy="175.5" r="0.9" fill="#b39ae0" opacity="0.8"/>
<circle cx="397.5" cy="183" r="0.9" fill="#b39ae0" opacity="0.8"/>
<circle cx="399" cy="189.5" r="0.9" fill="#b39ae0" opacity="0.8"/>
<circle cx="409.5" cy="176" r="0.9" fill="#b39ae0" opacity="0.8"/>
<circle cx="404" cy="192.5" r="0.9" fill="#b39ae0" opacity="0.8"/>
<circle cx="459" cy="184" r="0.9" fill="#b39ae0" opacity="0.8"/>
<circle cx="471" cy="181" r="0.9" fill="#b39ae0" opacity="0.8"/>
<circle cx="467.5" cy="193.5" r="0.9" fill="#b39ae0" opacity="0.8"/>
<circle cx="461" cy="179" r="0.9" fill="#b39ae0" opacity="0.8"/>
</g>
<rect x="380.00" y="152.00" width="16.00" height="1.60" fill="#111"/>
<rect x="380.00" y="206.20" width="16.00" height="1.60" fill="#111"/>
<rect x="440.40" y="152.00" width="15.60" height="1.60" fill="#111"/>
<rect x="440.40" y="206.20" width="15.60" height="1.60" fill="#111"/>
<text x="276.30" y="222.40" font-size="10" font-weight="bold" text-anchor="start" fill="#000" >F</text>
<rect x="293.50" y="229.90" width="103.30" height="82.10" fill="#fff" stroke="#333" stroke-width="1"/>
<rect x="293.50" y="229.90" width="103.30" height="13.60" fill="#dcdcdc" stroke="#333" stroke-width="1"/>
<text x="350.00" y="239.82" font-size="7" font-weight="bold" text-anchor="middle" fill="#111"  stroke="#111" stroke-width="0.12">R174Q-FPD/AML line</text>
<text x="329.00" y="257.52" font-size="7" font-weight="bold" text-anchor="middle" fill="#111"  stroke="#111" stroke-width="0.12">C2</text>
<text x="371.80" y="257.52" font-size="7" font-weight="bold" text-anchor="middle" fill="#111"  stroke="#111" stroke-width="0.12">All_1</text>
<rect x="312.30" y="261.80" width="35.30" height="32.00" fill="#fff" stroke="#c4c4c4" stroke-width="0.6"/>
<line x1="310.10" y1="265.50" x2="312.30" y2="265.50" stroke="#777" stroke-width="0.5"/>
<line x1="309.30" y1="266.70" x2="309.30" y2="268.00" stroke="#aaa" stroke-width="0.4"/>
<line x1="310.10" y1="271.80" x2="312.30" y2="271.80" stroke="#777" stroke-width="0.5"/>
<line x1="309.30" y1="273.00" x2="309.30" y2="274.30" stroke="#aaa" stroke-width="0.4"/>
<line x1="310.10" y1="278.10" x2="312.30" y2="278.10" stroke="#777" stroke-width="0.5"/>
<line x1="309.30" y1="279.30" x2="309.30" y2="280.60" stroke="#aaa" stroke-width="0.4"/>
<line x1="310.10" y1="284.40" x2="312.30" y2="284.40" stroke="#777" stroke-width="0.5"/>
<line x1="309.30" y1="285.60" x2="309.30" y2="286.90" stroke="#aaa" stroke-width="0.4"/>
<line x1="310.10" y1="290.70" x2="312.30" y2="290.70" stroke="#777" stroke-width="0.5"/>
<line x1="309.30" y1="291.90" x2="309.30" y2="293.20" stroke="#aaa" stroke-width="0.4"/>
<line x1="319.80" y1="293.80" x2="319.80" y2="295.80" stroke="#777" stroke-width="0.5"/>
<line x1="319.20" y1="297.30" x2="320.40" y2="297.30" stroke="#aaa" stroke-width="0.5"/>
<line x1="327.80" y1="293.80" x2="327.80" y2="295.80" stroke="#777" stroke-width="0.5"/>
<line x1="327.20" y1="297.30" x2="328.40" y2="297.30" stroke="#aaa" stroke-width="0.5"/>
<line x1="335.80" y1="293.80" x2="335.80" y2="295.80" stroke="#777" stroke-width="0.5"/>
<line x1="335.20" y1="297.30" x2="336.40" y2="297.30" stroke="#aaa" stroke-width="0.5"/>
<line x1="343.80" y1="293.80" x2="343.80" y2="295.80" stroke="#777" stroke-width="0.5"/>
<line x1="343.20" y1="297.30" x2="344.40" y2="297.30" stroke="#aaa" stroke-width="0.5"/>
<rect x="355.70" y="261.80" width="35.30" height="32.00" fill="#fff" stroke="#c4c4c4" stroke-width="0.6"/>
<line x1="353.50" y1="265.50" x2="355.70" y2="265.50" stroke="#777" stroke-width="0.5"/>
<line x1="352.70" y1="266.70" x2="352.70" y2="268.00" stroke="#aaa" stroke-width="0.4"/>
<line x1="353.50" y1="271.80" x2="355.70" y2="271.80" stroke="#777" stroke-width="0.5"/>
<line x1="352.70" y1="273.00" x2="352.70" y2="274.30" stroke="#aaa" stroke-width="0.4"/>
<line x1="353.50" y1="278.10" x2="355.70" y2="278.10" stroke="#777" stroke-width="0.5"/>
<line x1="352.70" y1="279.30" x2="352.70" y2="280.60" stroke="#aaa" stroke-width="0.4"/>
<line x1="353.50" y1="284.40" x2="355.70" y2="284.40" stroke="#777" stroke-width="0.5"/>
<line x1="352.70" y1="285.60" x2="352.70" y2="286.90" stroke="#aaa" stroke-width="0.4"/>
<line x1="353.50" y1="290.70" x2="355.70" y2="290.70" stroke="#777" stroke-width="0.5"/>
<line x1="352.70" y1="291.90" x2="352.70" y2="293.20" stroke="#aaa" stroke-width="0.4"/>
<line x1="363.20" y1="293.80" x2="363.20" y2="295.80" stroke="#777" stroke-width="0.5"/>
<line x1="362.60" y1="297.30" x2="363.80" y2="297.30" stroke="#aaa" stroke-width="0.5"/>
<line x1="371.20" y1="293.80" x2="371.20" y2="295.80" stroke="#777" stroke-width="0.5"/>
<line x1="370.60" y1="297.30" x2="371.80" y2="297.30" stroke="#aaa" stroke-width="0.5"/>
<line x1="379.20" y1="293.80" x2="379.20" y2="295.80" stroke="#777" stroke-width="0.5"/>
<line x1="378.60" y1="297.30" x2="379.80" y2="297.30" stroke="#aaa" stroke-width="0.5"/>
<line x1="387.20" y1="293.80" x2="387.20" y2="295.80" stroke="#777" stroke-width="0.5"/>
<line x1="386.60" y1="297.30" x2="387.80" y2="297.30" stroke="#aaa" stroke-width="0.5"/>
<text x="0" y="0" font-size="6.3" font-weight="normal" text-anchor="middle" fill="#222" transform="translate(303.07,272.00) rotate(-90)">CD14</text>
<line x1="300.80" y1="288.00" x2="300.80" y2="306.00" stroke="#111" stroke-width="0.9"/>
<line x1="300.80" y1="306.00" x2="319.30" y2="306.00" stroke="#111" stroke-width="0.9"/>
<polygon points="299.2,288.5 302.40000000000003,288.5 300.8,285.3" fill="#111"/>
<polygon points="319.3,304.4 319.3,307.6 322.5,306" fill="#111"/>
<text x="326.60" y="308.57" font-size="6.3" font-weight="normal" text-anchor="start" fill="#222" >CD15</text>
<rect x="400.30" y="229.90" width="102.40" height="82.10" fill="#fff" stroke="#333" stroke-width="1"/>
<rect x="400.30" y="229.90" width="102.40" height="13.60" fill="#dcdcdc" stroke="#333" stroke-width="1"/>
<text x="450.80" y="239.82" font-size="7" font-weight="bold" text-anchor="middle" fill="#111"  stroke="#111" stroke-width="0.12">Del-FPD/AML line</text>
<text x="437.00" y="257.52" font-size="7" font-weight="bold" text-anchor="middle" fill="#111"  stroke="#111" stroke-width="0.12">C2</text>
<text x="476.70" y="257.52" font-size="7" font-weight="bold" text-anchor="middle" fill="#111"  stroke="#111" stroke-width="0.12">D(b)</text>
<rect x="418.20" y="261.80" width="35.30" height="32.00" fill="#fff" stroke="#c4c4c4" stroke-width="0.6"/>
<line x1="416.00" y1="265.50" x2="418.20" y2="265.50" stroke="#777" stroke-width="0.5"/>
<line x1="415.20" y1="266.70" x2="415.20" y2="268.00" stroke="#aaa" stroke-width="0.4"/>
<line x1="416.00" y1="271.80" x2="418.20" y2="271.80" stroke="#777" stroke-width="0.5"/>
<line x1="415.20" y1="273.00" x2="415.20" y2="274.30" stroke="#aaa" stroke-width="0.4"/>
<line x1="416.00" y1="278.10" x2="418.20" y2="278.10" stroke="#777" stroke-width="0.5"/>
<line x1="415.20" y1="279.30" x2="415.20" y2="280.60" stroke="#aaa" stroke-width="0.4"/>
<line x1="416.00" y1="284.40" x2="418.20" y2="284.40" stroke="#777" stroke-width="0.5"/>
<line x1="415.20" y1="285.60" x2="415.20" y2="286.90" stroke="#aaa" stroke-width="0.4"/>
<line x1="416.00" y1="290.70" x2="418.20" y2="290.70" stroke="#777" stroke-width="0.5"/>
<line x1="415.20" y1="291.90" x2="415.20" y2="293.20" stroke="#aaa" stroke-width="0.4"/>
<line x1="425.70" y1="293.80" x2="425.70" y2="295.80" stroke="#777" stroke-width="0.5"/>
<line x1="425.10" y1="297.30" x2="426.30" y2="297.30" stroke="#aaa" stroke-width="0.5"/>
<line x1="433.70" y1="293.80" x2="433.70" y2="295.80" stroke="#777" stroke-width="0.5"/>
<line x1="433.10" y1="297.30" x2="434.30" y2="297.30" stroke="#aaa" stroke-width="0.5"/>
<line x1="441.70" y1="293.80" x2="441.70" y2="295.80" stroke="#777" stroke-width="0.5"/>
<line x1="441.10" y1="297.30" x2="442.30" y2="297.30" stroke="#aaa" stroke-width="0.5"/>
<line x1="449.70" y1="293.80" x2="449.70" y2="295.80" stroke="#777" stroke-width="0.5"/>
<line x1="449.10" y1="297.30" x2="450.30" y2="297.30" stroke="#aaa" stroke-width="0.5"/>
<rect x="462.10" y="261.80" width="35.30" height="32.00" fill="#fff" stroke="#c4c4c4" stroke-width="0.6"/>
<line x1="459.90" y1="265.50" x2="462.10" y2="265.50" stroke="#777" stroke-width="0.5"/>
<line x1="459.10" y1="266.70" x2="459.10" y2="268.00" stroke="#aaa" stroke-width="0.4"/>
<line x1="459.90" y1="271.80" x2="462.10" y2="271.80" stroke="#777" stroke-width="0.5"/>
<line x1="459.10" y1="273.00" x2="459.10" y2="274.30" stroke="#aaa" stroke-width="0.4"/>
<line x1="459.90" y1="278.10" x2="462.10" y2="278.10" stroke="#777" stroke-width="0.5"/>
<line x1="459.10" y1="279.30" x2="459.10" y2="280.60" stroke="#aaa" stroke-width="0.4"/>
<line x1="459.90" y1="284.40" x2="462.10" y2="284.40" stroke="#777" stroke-width="0.5"/>
<line x1="459.10" y1="285.60" x2="459.10" y2="286.90" stroke="#aaa" stroke-width="0.4"/>
<line x1="459.90" y1="290.70" x2="462.10" y2="290.70" stroke="#777" stroke-width="0.5"/>
<line x1="459.10" y1="291.90" x2="459.10" y2="293.20" stroke="#aaa" stroke-width="0.4"/>
<line x1="469.60" y1="293.80" x2="469.60" y2="295.80" stroke="#777" stroke-width="0.5"/>
<line x1="469.00" y1="297.30" x2="470.20" y2="297.30" stroke="#aaa" stroke-width="0.5"/>
<line x1="477.60" y1="293.80" x2="477.60" y2="295.80" stroke="#777" stroke-width="0.5"/>
<line x1="477.00" y1="297.30" x2="478.20" y2="297.30" stroke="#aaa" stroke-width="0.5"/>
<line x1="485.60" y1="293.80" x2="485.60" y2="295.80" stroke="#777" stroke-width="0.5"/>
<line x1="485.00" y1="297.30" x2="486.20" y2="297.30" stroke="#aaa" stroke-width="0.5"/>
<line x1="493.60" y1="293.80" x2="493.60" y2="295.80" stroke="#777" stroke-width="0.5"/>
<line x1="493.00" y1="297.30" x2="494.20" y2="297.30" stroke="#aaa" stroke-width="0.5"/>
<text x="0" y="0" font-size="6.3" font-weight="normal" text-anchor="middle" fill="#222" transform="translate(409.27,272.00) rotate(-90)">CD14</text>
<line x1="407.00" y1="288.00" x2="407.00" y2="306.00" stroke="#111" stroke-width="0.9"/>
<line x1="407.00" y1="306.00" x2="425.50" y2="306.00" stroke="#111" stroke-width="0.9"/>
<polygon points="405.4,288.5 408.6,288.5 407,285.3" fill="#111"/>
<polygon points="425.5,304.4 425.5,307.6 428.7,306" fill="#111"/>
<text x="432.80" y="308.57" font-size="6.3" font-weight="normal" text-anchor="start" fill="#222" >CD15</text>
<g filter="url(#cb)">
<polygon points="322.5,278.6 335,275.6 341,285.8 323,286.8" fill="#aaa" opacity="0.55"/>
<ellipse cx="330" cy="277.1" rx="10" ry="6.2" transform="rotate(-12 330 277.6)" fill="none" stroke="#999" stroke-width="0.5"/>
<ellipse cx="329" cy="277.6" rx="7.5" ry="4.7" transform="rotate(-12 329 277.6)" fill="#666" opacity="0.6"/>
<ellipse cx="328" cy="277.6" rx="6" ry="3.2" transform="rotate(-12 328 277.6)" fill="#111"/>
<rect x="319.6" y="286.3" width="22.0" height="5" rx="2.5" fill="#0a0a0a"/>
</g>
<g filter="url(#cb)">
<polygon points="369.3,277.5 379.8,274.5 385.8,286 369.8,287" fill="#aaa" opacity="0.6"/>
<ellipse cx="375.8" cy="276.0" rx="9" ry="6.4" transform="rotate(-45 375.8 276.5)" fill="none" stroke="#999" stroke-width="0.5"/>
<ellipse cx="374.8" cy="276.5" rx="6.5" ry="4.9" transform="rotate(-45 374.8 276.5)" fill="#666" opacity="0.6"/>
<ellipse cx="373.8" cy="276.5" rx="5" ry="3.4" transform="rotate(-45 373.8 276.5)" fill="#111"/>
<rect x="363.9" y="286.5" width="20.700000000000045" height="5" rx="2.5" fill="#0a0a0a"/>
</g>
<g filter="url(#cb)">
<polygon points="429.5,278.8 442,275.8 448,286.4 430,287.4" fill="#aaa" opacity="0.55"/>
<ellipse cx="437" cy="277.3" rx="10" ry="6.2" transform="rotate(-12 437 277.8)" fill="none" stroke="#999" stroke-width="0.5"/>
<ellipse cx="436" cy="277.8" rx="7.5" ry="4.7" transform="rotate(-12 436 277.8)" fill="#666" opacity="0.6"/>
<ellipse cx="435" cy="277.8" rx="6" ry="3.2" transform="rotate(-12 435 277.8)" fill="#111"/>
<rect x="425.5" y="286.9" width="21.5" height="5" rx="2.5" fill="#0a0a0a"/>
</g>
<g filter="url(#cb)">
<polygon points="475.1,278.4 484.6,275.4 490.6,285.8 475.6,286.8" fill="#aaa" opacity="0.5"/>
<ellipse cx="481.1" cy="276.9" rx="8.5" ry="7" transform="rotate(-30 481.1 277.4)" fill="none" stroke="#999" stroke-width="0.5"/>
<ellipse cx="480.1" cy="277.4" rx="6.0" ry="5.5" transform="rotate(-30 480.1 277.4)" fill="#666" opacity="0.6"/>
<ellipse cx="479.1" cy="277.4" rx="4.5" ry="4" transform="rotate(-30 479.1 277.4)" fill="#333"/>
<rect x="467.9" y="286.3" width="21.100000000000023" height="5" rx="2.5" fill="#0a0a0a"/>
</g>
<text x="329.10" y="271.36" font-size="6.0" font-weight="bold" text-anchor="middle" fill="#111" stroke="#111" stroke-width="0.2">19%</text>
<text x="342.10" y="284.76" font-size="6.0" font-weight="bold" text-anchor="middle" fill="#111" stroke="#111" stroke-width="0.2">14%</text>
<text x="371.50" y="271.36" font-size="6.0" font-weight="bold" text-anchor="middle" fill="#111" stroke="#111" stroke-width="0.2">30%</text>
<text x="384.40" y="285.16" font-size="6.0" font-weight="bold" text-anchor="middle" fill="#111" stroke="#111" stroke-width="0.2">26%</text>
<text x="430.40" y="271.76" font-size="6.0" font-weight="bold" text-anchor="middle" fill="#111" stroke="#111" stroke-width="0.2">22%</text>
<text x="447.90" y="285.16" font-size="6.0" font-weight="bold" text-anchor="middle" fill="#111" stroke="#111" stroke-width="0.2">16%</text>
<text x="474.10" y="271.76" font-size="6.0" font-weight="bold" text-anchor="middle" fill="#111" stroke="#111" stroke-width="0.2">20%</text>
<text x="492.40" y="285.16" font-size="6.0" font-weight="bold" text-anchor="middle" fill="#111" stroke="#111" stroke-width="0.2">17%</text>
<text x="1.20" y="269.50" font-size="10" font-weight="bold" text-anchor="start" fill="#000" >G</text>
<line x1="33.70" y1="288.20" x2="33.70" y2="364.50" stroke="#444" stroke-width="0.8"/>
<line x1="31.70" y1="288.60" x2="33.70" y2="288.60" stroke="#444" stroke-width="0.8"/>
<text x="27.80" y="290.94" font-size="6.5" font-weight="normal" text-anchor="end" fill="#1a1a1a" stroke="#1a1a1a" stroke-width="0.18">400</text>
<line x1="31.70" y1="307.50" x2="33.70" y2="307.50" stroke="#444" stroke-width="0.8"/>
<text x="27.80" y="309.84" font-size="6.5" font-weight="normal" text-anchor="end" fill="#1a1a1a" stroke="#1a1a1a" stroke-width="0.18">300</text>
<line x1="31.70" y1="326.60" x2="33.70" y2="326.60" stroke="#444" stroke-width="0.8"/>
<text x="27.80" y="328.94" font-size="6.5" font-weight="normal" text-anchor="end" fill="#1a1a1a" stroke="#1a1a1a" stroke-width="0.18">200</text>
<line x1="31.70" y1="345.50" x2="33.70" y2="345.50" stroke="#444" stroke-width="0.8"/>
<text x="27.80" y="347.84" font-size="6.5" font-weight="normal" text-anchor="end" fill="#1a1a1a" stroke="#1a1a1a" stroke-width="0.18">100</text>
<line x1="31.70" y1="364.50" x2="33.70" y2="364.50" stroke="#444" stroke-width="0.8"/>
<text x="27.80" y="366.84" font-size="6.5" font-weight="normal" text-anchor="end" fill="#1a1a1a" stroke="#1a1a1a" stroke-width="0.18">0</text>
<rect x="43.30" y="345.30" width="12.90" height="19.20" fill="#353535" stroke="#1a1a1a" stroke-width="0.8"/>
<rect x="56.20" y="348.00" width="12.40" height="16.50" fill="#585858" stroke="#1a1a1a" stroke-width="0.8"/>
<rect x="68.60" y="309.50" width="13.70" height="55.00" fill="#959595" stroke="#1a1a1a" stroke-width="0.8"/>
<rect x="82.30" y="318.50" width="13.40" height="46.00" fill="#dfdfdf" stroke="#1a1a1a" stroke-width="0.8"/>
<line x1="31.50" y1="364.50" x2="105.00" y2="364.50" stroke="#333" stroke-width="1"/>
<line x1="62.60" y1="345.50" x2="62.60" y2="351.10" stroke="#222" stroke-width="0.8"/>
<line x1="61.00" y1="345.50" x2="64.20" y2="345.50" stroke="#222" stroke-width="0.8"/>
<line x1="61.00" y1="351.10" x2="64.20" y2="351.10" stroke="#222" stroke-width="0.8"/>
<line x1="75.50" y1="291.30" x2="75.50" y2="327.10" stroke="#222" stroke-width="0.8"/>
<line x1="73.90" y1="291.30" x2="77.10" y2="291.30" stroke="#222" stroke-width="0.8"/>
<line x1="73.90" y1="327.10" x2="77.10" y2="327.10" stroke="#222" stroke-width="0.8"/>
<line x1="88.70" y1="305.60" x2="88.70" y2="331.80" stroke="#222" stroke-width="0.8"/>
<line x1="87.10" y1="305.60" x2="90.30" y2="305.60" stroke="#222" stroke-width="0.8"/>
<line x1="87.10" y1="331.80" x2="90.30" y2="331.80" stroke="#222" stroke-width="0.8"/>
<line x1="58.60" y1="277.50" x2="84.40" y2="277.50" stroke="#888" stroke-width="0.8"/>
<line x1="58.60" y1="277.50" x2="58.60" y2="328.40" stroke="#888" stroke-width="0.8"/>
<line x1="84.40" y1="277.50" x2="84.40" y2="281.50" stroke="#888" stroke-width="0.8"/>
<polyline points="51.40,333.90 51.40,328.40 64.50,328.40 64.50,333.90" fill="none" stroke="#888" stroke-width="0.8"/>
<polyline points="77.50,286.50 77.50,281.50 90.90,281.50 90.90,286.50" fill="none" stroke="#888" stroke-width="0.8"/>
<text x="70.70" y="277.60" font-size="8" font-weight="bold" text-anchor="middle" fill="#555"  stroke="#555" stroke-width="0.12">*</text>
<text x="74.10" y="277.60" font-size="8" font-weight="bold" text-anchor="middle" fill="#555"  stroke="#555" stroke-width="0.12">*</text>
<rect x="103.50" y="283.00" width="3.60" height="3.60" fill="#1c1c1c" stroke="#222" stroke-width="0.7"/>
<text x="115.00" y="287.10" font-size="6.4" font-weight="bold" text-anchor="start" fill="#111"  stroke="#111" stroke-width="0.12">C2</text>
<rect x="103.50" y="293.30" width="3.60" height="3.60" fill="#585858" stroke="#222" stroke-width="0.7"/>
<text x="115.00" y="297.40" font-size="6.4" font-weight="bold" text-anchor="start" fill="#111"  stroke="#111" stroke-width="0.12">C1</text>
<rect x="103.50" y="303.20" width="3.60" height="3.60" fill="#959595" stroke="#222" stroke-width="0.7"/>
<text x="115.00" y="307.30" font-size="6.4" font-weight="bold" text-anchor="start" fill="#111"  stroke="#111" stroke-width="0.12">All_2</text>
<rect x="103.50" y="312.80" width="3.60" height="3.60" fill="#fff" stroke="#222" stroke-width="0.7"/>
<text x="115.00" y="316.90" font-size="6.4" font-weight="bold" text-anchor="start" fill="#111"  stroke="#111" stroke-width="0.12">All_1</text>
<text x="72.80" y="374.97" font-size="6.3" font-weight="bold" text-anchor="middle" fill="#111"  stroke="#111" stroke-width="0.12">CD14<tspan font-size="4.9" dy="-2.4">high</tspan><tspan dy="2.4">CD15</tspan><tspan font-size="4.9" dy="-2.4">low</tspan></text>
<text x="0" y="0" font-size="6.5" font-weight="bold" text-anchor="middle" fill="#111" stroke="#111" stroke-width="0.12" transform="translate(5.84,323.00) rotate(-90)">Cell number/</text>
<text x="0" y="0" font-size="6.5" font-weight="bold" text-anchor="middle" fill="#111" stroke="#111" stroke-width="0.12" transform="translate(13.64,322.60) rotate(-90)">1x10<tspan font-size="4.6" dy="-2.4">3</tspan><tspan dy="2.4"> CD34</tspan><tspan font-size="4.6" dy="-2.4">+</tspan><tspan dy="2.4">CD43</tspan><tspan font-size="4.6" dy="-2.4">+</tspan><tspan dy="2.4"> cells</tspan></text>
<line x1="147.10" y1="287.70" x2="147.10" y2="365.20" stroke="#444" stroke-width="0.8"/>
<line x1="145.10" y1="288.30" x2="147.10" y2="288.30" stroke="#444" stroke-width="0.8"/>
<text x="141.90" y="290.68" font-size="6.6" font-weight="normal" text-anchor="end" fill="#1a1a1a" stroke="#1a1a1a" stroke-width="0.18">400</text>
<line x1="145.10" y1="307.30" x2="147.10" y2="307.30" stroke="#444" stroke-width="0.8"/>
<text x="141.90" y="309.68" font-size="6.6" font-weight="normal" text-anchor="end" fill="#1a1a1a" stroke="#1a1a1a" stroke-width="0.18">300</text>
<line x1="145.10" y1="326.60" x2="147.10" y2="326.60" stroke="#444" stroke-width="0.8"/>
<text x="141.90" y="328.98" font-size="6.6" font-weight="normal" text-anchor="end" fill="#1a1a1a" stroke="#1a1a1a" stroke-width="0.18">200</text>
<line x1="145.10" y1="345.70" x2="147.10" y2="345.70" stroke="#444" stroke-width="0.8"/>
<text x="141.90" y="348.08" font-size="6.6" font-weight="normal" text-anchor="end" fill="#1a1a1a" stroke="#1a1a1a" stroke-width="0.18">100</text>
<line x1="145.10" y1="365.10" x2="147.10" y2="365.10" stroke="#444" stroke-width="0.8"/>
<text x="141.90" y="367.48" font-size="6.6" font-weight="normal" text-anchor="end" fill="#1a1a1a" stroke="#1a1a1a" stroke-width="0.18">0</text>
<rect x="156.90" y="346.20" width="13.60" height="19.10" fill="#353535" stroke="#1a1a1a" stroke-width="0.8"/>
<rect x="170.50" y="350.50" width="12.60" height="14.80" fill="#585858" stroke="#1a1a1a" stroke-width="0.8"/>
<rect x="183.10" y="328.50" width="13.10" height="36.80" fill="#959595" stroke="#1a1a1a" stroke-width="0.8"/>
<rect x="196.20" y="316.60" width="12.60" height="48.70" fill="#dfdfdf" stroke="#1a1a1a" stroke-width="0.8"/>
<line x1="145.00" y1="365.20" x2="218.80" y2="365.20" stroke="#333" stroke-width="1"/>
<line x1="176.50" y1="348.20" x2="176.50" y2="351.50" stroke="#222" stroke-width="0.8"/>
<line x1="174.90" y1="348.20" x2="178.10" y2="348.20" stroke="#222" stroke-width="0.8"/>
<line x1="174.90" y1="351.50" x2="178.10" y2="351.50" stroke="#222" stroke-width="0.8"/>
<line x1="189.50" y1="323.40" x2="189.50" y2="334.30" stroke="#222" stroke-width="0.8"/>
<line x1="187.90" y1="323.40" x2="191.10" y2="323.40" stroke="#222" stroke-width="0.8"/>
<line x1="187.90" y1="334.30" x2="191.10" y2="334.30" stroke="#222" stroke-width="0.8"/>
<line x1="202.80" y1="300.80" x2="202.80" y2="332.30" stroke="#222" stroke-width="0.8"/>
<line x1="201.20" y1="300.80" x2="204.40" y2="300.80" stroke="#222" stroke-width="0.8"/>
<line x1="201.20" y1="332.30" x2="204.40" y2="332.30" stroke="#222" stroke-width="0.8"/>
<line x1="173.10" y1="277.70" x2="199.70" y2="277.70" stroke="#888" stroke-width="0.8"/>
<line x1="173.10" y1="277.70" x2="173.10" y2="329.70" stroke="#888" stroke-width="0.8"/>
<line x1="199.70" y1="277.70" x2="199.70" y2="284.30" stroke="#888" stroke-width="0.8"/>
<polyline points="166.20,334.90 166.20,329.70 179.20,329.70 179.20,334.90" fill="none" stroke="#888" stroke-width="0.8"/>
<polyline points="192.30,290.50 192.30,284.30 205.80,284.30 205.80,290.50" fill="none" stroke="#888" stroke-width="0.8"/>
<text x="185.80" y="277.70" font-size="8" font-weight="bold" text-anchor="middle" fill="#555"  stroke="#555" stroke-width="0.12">*</text>
<rect x="216.50" y="282.90" width="3.60" height="3.60" fill="#1c1c1c" stroke="#222" stroke-width="0.7"/>
<text x="228.20" y="287.00" font-size="6.4" font-weight="bold" text-anchor="start" fill="#111"  stroke="#111" stroke-width="0.12">C2</text>
<rect x="216.50" y="293.20" width="3.60" height="3.60" fill="#585858" stroke="#222" stroke-width="0.7"/>
<text x="228.20" y="297.30" font-size="6.4" font-weight="bold" text-anchor="start" fill="#111"  stroke="#111" stroke-width="0.12">C3</text>
<rect x="216.50" y="303.00" width="3.60" height="3.60" fill="#959595" stroke="#222" stroke-width="0.7"/>
<text x="228.20" y="307.10" font-size="6.4" font-weight="bold" text-anchor="start" fill="#111"  stroke="#111" stroke-width="0.12">All_2</text>
<rect x="216.50" y="312.80" width="3.60" height="3.60" fill="#fff" stroke="#222" stroke-width="0.7"/>
<text x="228.20" y="316.90" font-size="6.4" font-weight="bold" text-anchor="start" fill="#111"  stroke="#111" stroke-width="0.12">All_1</text>
<text x="181.90" y="375.67" font-size="6.3" font-weight="bold" text-anchor="middle" fill="#111"  stroke="#111" stroke-width="0.12">CD15<tspan font-size="4.9" dy="-2.4">high</tspan></text>
<text x="1.20" y="384.70" font-size="10" font-weight="bold" text-anchor="start" fill="#000" >H</text>
<line x1="35.50" y1="400.10" x2="35.50" y2="476.40" stroke="#444" stroke-width="0.8"/>
<line x1="33.50" y1="400.30" x2="35.50" y2="400.30" stroke="#444" stroke-width="0.8"/>
<text x="30.50" y="402.64" font-size="6.5" font-weight="normal" text-anchor="end" fill="#1a1a1a" stroke="#1a1a1a" stroke-width="0.18">250</text>
<line x1="33.50" y1="415.60" x2="35.50" y2="415.60" stroke="#444" stroke-width="0.8"/>
<text x="30.50" y="417.94" font-size="6.5" font-weight="normal" text-anchor="end" fill="#1a1a1a" stroke="#1a1a1a" stroke-width="0.18">200</text>
<line x1="33.50" y1="430.70" x2="35.50" y2="430.70" stroke="#444" stroke-width="0.8"/>
<text x="30.50" y="433.04" font-size="6.5" font-weight="normal" text-anchor="end" fill="#1a1a1a" stroke="#1a1a1a" stroke-width="0.18">150</text>
<line x1="33.50" y1="446.00" x2="35.50" y2="446.00" stroke="#444" stroke-width="0.8"/>
<text x="30.50" y="448.34" font-size="6.5" font-weight="normal" text-anchor="end" fill="#1a1a1a" stroke="#1a1a1a" stroke-width="0.18">100</text>
<line x1="33.50" y1="461.40" x2="35.50" y2="461.40" stroke="#444" stroke-width="0.8"/>
<text x="30.50" y="463.74" font-size="6.5" font-weight="normal" text-anchor="end" fill="#1a1a1a" stroke="#1a1a1a" stroke-width="0.18">50</text>
<line x1="33.50" y1="476.60" x2="35.50" y2="476.60" stroke="#444" stroke-width="0.8"/>
<text x="30.50" y="478.94" font-size="6.5" font-weight="normal" text-anchor="end" fill="#1a1a1a" stroke="#1a1a1a" stroke-width="0.18">0</text>
<rect x="44.50" y="445.70" width="12.30" height="30.70" fill="#353535" stroke="#1a1a1a" stroke-width="0.8"/>
<rect x="56.80" y="442.70" width="12.60" height="33.70" fill="#585858" stroke="#1a1a1a" stroke-width="0.8"/>
<rect x="69.40" y="438.00" width="12.40" height="38.40" fill="#959595" stroke="#1a1a1a" stroke-width="0.8"/>
<rect x="81.80" y="426.00" width="12.80" height="50.40" fill="#dfdfdf" stroke="#1a1a1a" stroke-width="0.8"/>
<line x1="33.00" y1="476.40" x2="103.80" y2="476.40" stroke="#333" stroke-width="1"/>
<line x1="63.20" y1="424.40" x2="63.20" y2="460.80" stroke="#222" stroke-width="0.8"/>
<line x1="61.60" y1="424.40" x2="64.80" y2="424.40" stroke="#222" stroke-width="0.8"/>
<line x1="61.60" y1="460.80" x2="64.80" y2="460.80" stroke="#222" stroke-width="0.8"/>
<line x1="75.90" y1="427.90" x2="75.90" y2="448.00" stroke="#222" stroke-width="0.8"/>
<line x1="74.30" y1="427.90" x2="77.50" y2="427.90" stroke="#222" stroke-width="0.8"/>
<line x1="74.30" y1="448.00" x2="77.50" y2="448.00" stroke="#222" stroke-width="0.8"/>
<line x1="88.20" y1="410.90" x2="88.20" y2="440.40" stroke="#222" stroke-width="0.8"/>
<line x1="86.60" y1="410.90" x2="89.80" y2="410.90" stroke="#222" stroke-width="0.8"/>
<line x1="86.60" y1="440.40" x2="89.80" y2="440.40" stroke="#222" stroke-width="0.8"/>
<line x1="59.50" y1="386.60" x2="85.20" y2="386.60" stroke="#888" stroke-width="0.8"/>
<line x1="59.50" y1="386.60" x2="59.50" y2="411.00" stroke="#888" stroke-width="0.8"/>
<line x1="85.20" y1="386.60" x2="85.20" y2="393.30" stroke="#888" stroke-width="0.8"/>
<polyline points="52.80,415.00 52.80,411.00 66.00,411.00 66.00,415.00" fill="none" stroke="#888" stroke-width="0.8"/>
<polyline points="78.30,398.20 78.30,393.30 92.20,393.30 92.20,398.20" fill="none" stroke="#888" stroke-width="0.8"/>
<text x="71.30" y="383.14" font-size="6.3" font-weight="normal" text-anchor="middle" fill="#888" >ns</text>
<rect x="105.30" y="390.60" width="3.60" height="3.60" fill="#1c1c1c" stroke="#222" stroke-width="0.7"/>
<text x="116.20" y="394.70" font-size="6.4" font-weight="bold" text-anchor="start" fill="#111"  stroke="#111" stroke-width="0.12">C2</text>
<rect x="105.30" y="401.00" width="3.60" height="3.60" fill="#585858" stroke="#222" stroke-width="0.7"/>
<text x="116.20" y="405.10" font-size="6.4" font-weight="bold" text-anchor="start" fill="#111"  stroke="#111" stroke-width="0.12">C3</text>
<rect x="105.30" y="410.60" width="3.60" height="3.60" fill="#959595" stroke="#222" stroke-width="0.7"/>
<text x="116.20" y="414.70" font-size="6.4" font-weight="bold" text-anchor="start" fill="#111"  stroke="#111" stroke-width="0.12">D(b)</text>
<rect x="105.30" y="420.20" width="3.60" height="3.60" fill="#fff" stroke="#222" stroke-width="0.7"/>
<text x="116.20" y="424.30" font-size="6.4" font-weight="bold" text-anchor="start" fill="#111"  stroke="#111" stroke-width="0.12">D(a)</text>
<text x="72.50" y="485.87" font-size="6.3" font-weight="bold" text-anchor="middle" fill="#111"  stroke="#111" stroke-width="0.12">CD14<tspan font-size="4.9" dy="-2.4">high</tspan><tspan dy="2.4">CD15</tspan><tspan font-size="4.9" dy="-2.4">low</tspan></text>
<text x="0" y="0" font-size="6.5" font-weight="bold" text-anchor="middle" fill="#111" stroke="#111" stroke-width="0.12" transform="translate(8.24,432.50) rotate(-90)">Cell number/</text>
<text x="0" y="0" font-size="6.5" font-weight="bold" text-anchor="middle" fill="#111" stroke="#111" stroke-width="0.12" transform="translate(16.34,432.00) rotate(-90)">1x10<tspan font-size="4.6" dy="-2.4">3</tspan><tspan dy="2.4"> CD34</tspan><tspan font-size="4.6" dy="-2.4">+</tspan><tspan dy="2.4">CD43</tspan><tspan font-size="4.6" dy="-2.4">+</tspan><tspan dy="2.4"> cells</tspan></text>
<line x1="149.20" y1="399.30" x2="149.20" y2="476.60" stroke="#444" stroke-width="0.8"/>
<line x1="147.20" y1="399.30" x2="149.20" y2="399.30" stroke="#444" stroke-width="0.8"/>
<text x="144.10" y="401.57" font-size="6.3" font-weight="normal" text-anchor="end" fill="#1a1a1a" stroke="#1a1a1a" stroke-width="0.18">200</text>
<line x1="147.20" y1="419.00" x2="149.20" y2="419.00" stroke="#444" stroke-width="0.8"/>
<text x="144.10" y="421.27" font-size="6.3" font-weight="normal" text-anchor="end" fill="#1a1a1a" stroke="#1a1a1a" stroke-width="0.18">150</text>
<line x1="147.20" y1="438.10" x2="149.20" y2="438.10" stroke="#444" stroke-width="0.8"/>
<text x="144.10" y="440.37" font-size="6.3" font-weight="normal" text-anchor="end" fill="#1a1a1a" stroke="#1a1a1a" stroke-width="0.18">100</text>
<line x1="147.20" y1="457.30" x2="149.20" y2="457.30" stroke="#444" stroke-width="0.8"/>
<text x="144.10" y="459.57" font-size="6.3" font-weight="normal" text-anchor="end" fill="#1a1a1a" stroke="#1a1a1a" stroke-width="0.18">50</text>
<line x1="147.20" y1="476.60" x2="149.20" y2="476.60" stroke="#444" stroke-width="0.8"/>
<text x="144.10" y="478.87" font-size="6.3" font-weight="normal" text-anchor="end" fill="#1a1a1a" stroke="#1a1a1a" stroke-width="0.18">0</text>
<rect x="159.20" y="437.80" width="12.60" height="38.70" fill="#353535" stroke="#1a1a1a" stroke-width="0.8"/>
<rect x="171.80" y="443.30" width="12.90" height="33.20" fill="#585858" stroke="#1a1a1a" stroke-width="0.8"/>
<rect x="184.70" y="442.20" width="12.30" height="34.30" fill="#959595" stroke="#1a1a1a" stroke-width="0.8"/>
<rect x="197.00" y="429.40" width="12.80" height="47.10" fill="#dfdfdf" stroke="#1a1a1a" stroke-width="0.8"/>
<line x1="149.20" y1="476.50" x2="219.00" y2="476.50" stroke="#444" stroke-width="0.9"/>
<line x1="177.80" y1="432.40" x2="177.80" y2="454.20" stroke="#222" stroke-width="0.8"/>
<line x1="176.20" y1="432.40" x2="179.40" y2="432.40" stroke="#222" stroke-width="0.8"/>
<line x1="176.20" y1="454.20" x2="179.40" y2="454.20" stroke="#222" stroke-width="0.8"/>
<line x1="190.50" y1="431.00" x2="190.50" y2="453.30" stroke="#222" stroke-width="0.8"/>
<line x1="188.90" y1="431.00" x2="192.10" y2="431.00" stroke="#222" stroke-width="0.8"/>
<line x1="188.90" y1="453.30" x2="192.10" y2="453.30" stroke="#222" stroke-width="0.8"/>
<line x1="203.30" y1="402.80" x2="203.30" y2="456.10" stroke="#222" stroke-width="0.8"/>
<line x1="201.70" y1="402.80" x2="204.90" y2="402.80" stroke="#222" stroke-width="0.8"/>
<line x1="201.70" y1="456.10" x2="204.90" y2="456.10" stroke="#222" stroke-width="0.8"/>
<line x1="175.00" y1="387.00" x2="200.50" y2="387.00" stroke="#888" stroke-width="0.8"/>
<line x1="175.00" y1="387.00" x2="175.00" y2="417.80" stroke="#888" stroke-width="0.8"/>
<line x1="200.50" y1="387.00" x2="200.50" y2="391.70" stroke="#888" stroke-width="0.8"/>
<polyline points="168.10,422.50 168.10,417.80 180.10,417.80 180.10,422.50" fill="none" stroke="#888" stroke-width="0.8"/>
<polyline points="193.50,397.70 193.50,391.70 206.70,391.70 206.70,397.70" fill="none" stroke="#888" stroke-width="0.8"/>
<text x="187.10" y="383.64" font-size="6.3" font-weight="normal" text-anchor="middle" fill="#888" >ns</text>
<rect x="217.90" y="392.90" width="3.60" height="3.60" fill="#1c1c1c" stroke="#222" stroke-width="0.7"/>
<text x="228.70" y="397.00" font-size="6.4" font-weight="bold" text-anchor="start" fill="#111"  stroke="#111" stroke-width="0.12">C2</text>
<rect x="217.90" y="402.80" width="3.60" height="3.60" fill="#585858" stroke="#222" stroke-width="0.7"/>
<text x="228.70" y="406.90" font-size="6.4" font-weight="bold" text-anchor="start" fill="#111"  stroke="#111" stroke-width="0.12">C3</text>
<rect x="217.90" y="413.00" width="3.60" height="3.60" fill="#959595" stroke="#222" stroke-width="0.7"/>
<text x="228.70" y="417.10" font-size="6.4" font-weight="bold" text-anchor="start" fill="#111"  stroke="#111" stroke-width="0.12">D(b)</text>
<rect x="217.90" y="422.30" width="3.60" height="3.60" fill="#fff" stroke="#222" stroke-width="0.7"/>
<text x="228.70" y="426.40" font-size="6.4" font-weight="bold" text-anchor="start" fill="#111"  stroke="#111" stroke-width="0.12">D(a)</text>
<text x="185.30" y="486.07" font-size="6.3" font-weight="bold" text-anchor="middle" fill="#111"  stroke="#111" stroke-width="0.12">CD15<tspan font-size="4.9" dy="-2.4">high</tspan></text>
<text x="276.50" y="340.00" font-size="10" font-weight="bold" text-anchor="start" fill="#000" >I</text>
<line x1="290.00" y1="369.50" x2="290.00" y2="454.60" stroke="#888" stroke-width="0.8"/>
<line x1="288.00" y1="370.00" x2="290.00" y2="370.00" stroke="#888" stroke-width="0.8"/>
<text x="285.00" y="372.40" font-size="6.1" font-weight="normal" text-anchor="end" fill="#1a1a1a" stroke="#1a1a1a" stroke-width="0.18">1.2</text>
<line x1="288.00" y1="384.10" x2="290.00" y2="384.10" stroke="#888" stroke-width="0.8"/>
<text x="285.00" y="385.50" font-size="6.1" font-weight="normal" text-anchor="end" fill="#1a1a1a" stroke="#1a1a1a" stroke-width="0.18">1</text>
<line x1="288.00" y1="398.20" x2="290.00" y2="398.20" stroke="#888" stroke-width="0.8"/>
<text x="285.00" y="400.40" font-size="6.1" font-weight="normal" text-anchor="end" fill="#1a1a1a" stroke="#1a1a1a" stroke-width="0.18">0.8</text>
<line x1="288.00" y1="412.30" x2="290.00" y2="412.30" stroke="#888" stroke-width="0.8"/>
<text x="285.00" y="414.40" font-size="6.1" font-weight="normal" text-anchor="end" fill="#1a1a1a" stroke="#1a1a1a" stroke-width="0.18">0.6</text>
<line x1="288.00" y1="426.40" x2="290.00" y2="426.40" stroke="#888" stroke-width="0.8"/>
<text x="285.00" y="428.70" font-size="6.1" font-weight="normal" text-anchor="end" fill="#1a1a1a" stroke="#1a1a1a" stroke-width="0.18">0.4</text>
<line x1="288.00" y1="440.50" x2="290.00" y2="440.50" stroke="#888" stroke-width="0.8"/>
<text x="285.00" y="442.70" font-size="6.1" font-weight="normal" text-anchor="end" fill="#1a1a1a" stroke="#1a1a1a" stroke-width="0.18">0.2</text>
<line x1="288.00" y1="454.60" x2="290.00" y2="454.60" stroke="#888" stroke-width="0.8"/>
<text x="285.00" y="454.60" font-size="6.1" font-weight="normal" text-anchor="end" fill="#1a1a1a" stroke="#1a1a1a" stroke-width="0.18">0</text>
<rect x="300.60" y="384.00" width="14.60" height="70.50" fill="#353535" stroke="#1a1a1a" stroke-width="0.8"/>
<rect x="315.20" y="431.20" width="13.60" height="23.30" fill="#959595" stroke="#1a1a1a" stroke-width="0.8"/>
<rect x="328.80" y="422.20" width="15.20" height="32.30" fill="#dfdfdf" stroke="#1a1a1a" stroke-width="0.8"/>
<line x1="290.00" y1="454.50" x2="354.60" y2="454.50" stroke="#444" stroke-width="0.9"/>
<line x1="308.00" y1="375.00" x2="308.00" y2="393.50" stroke="#222" stroke-width="0.8"/>
<line x1="306.40" y1="375.00" x2="309.60" y2="375.00" stroke="#222" stroke-width="0.8"/>
<line x1="306.40" y1="393.50" x2="309.60" y2="393.50" stroke="#222" stroke-width="0.8"/>
<line x1="322.00" y1="430.40" x2="322.00" y2="432.00" stroke="#222" stroke-width="0.8"/>
<line x1="320.40" y1="430.40" x2="323.60" y2="430.40" stroke="#222" stroke-width="0.8"/>
<line x1="320.40" y1="432.00" x2="323.60" y2="432.00" stroke="#222" stroke-width="0.8"/>
<line x1="336.80" y1="418.00" x2="336.80" y2="427.00" stroke="#222" stroke-width="0.8"/>
<line x1="335.20" y1="418.00" x2="338.40" y2="418.00" stroke="#222" stroke-width="0.8"/>
<line x1="335.20" y1="427.00" x2="338.40" y2="427.00" stroke="#222" stroke-width="0.8"/>
<line x1="310.00" y1="358.10" x2="330.70" y2="358.10" stroke="#888" stroke-width="0.8"/>
<line x1="310.00" y1="358.10" x2="310.00" y2="362.70" stroke="#888" stroke-width="0.8"/>
<line x1="330.70" y1="358.10" x2="330.70" y2="401.30" stroke="#888" stroke-width="0.8"/>
<polyline points="324.50,405.30 324.50,401.30 340.00,401.30 340.00,405.30" fill="none" stroke="#888" stroke-width="0.8"/>
<text x="317.60" y="356.00" font-size="8" font-weight="bold" text-anchor="middle" fill="#555"  stroke="#555" stroke-width="0.12">*</text>
<text x="321.00" y="356.00" font-size="8" font-weight="bold" text-anchor="middle" fill="#555"  stroke="#555" stroke-width="0.12">*</text>
<text x="324.50" y="356.00" font-size="8" font-weight="bold" text-anchor="middle" fill="#555"  stroke="#555" stroke-width="0.12">*</text>
<rect x="344.20" y="387.50" width="3.60" height="3.60" fill="#1c1c1c" stroke="#222" stroke-width="0.7"/>
<text x="356.10" y="391.60" font-size="6.4" font-weight="bold" text-anchor="start" fill="#111"  stroke="#111" stroke-width="0.12">C2</text>
<rect x="344.20" y="395.70" width="3.60" height="3.60" fill="#959595" stroke="#222" stroke-width="0.7"/>
<text x="356.10" y="399.80" font-size="6.4" font-weight="bold" text-anchor="start" fill="#111"  stroke="#111" stroke-width="0.12">All_2</text>
<rect x="344.20" y="404.40" width="3.60" height="3.60" fill="#fff" stroke="#222" stroke-width="0.7"/>
<text x="356.10" y="408.50" font-size="6.4" font-weight="bold" text-anchor="start" fill="#111"  stroke="#111" stroke-width="0.12">All_1</text>
<text x="321.60" y="464.56" font-size="6.0" font-weight="bold" text-anchor="middle" fill="#111"  stroke="#111" stroke-width="0.12">NR4A3</text>
<text x="0" y="0" font-size="6.1" font-weight="bold" text-anchor="middle" fill="#111" stroke="#111" stroke-width="0.12" transform="translate(270.80,408.50) rotate(-90)">mRNA level relative to control</text>
<line x1="389.90" y1="367.50" x2="389.90" y2="454.70" stroke="#666" stroke-width="0.8"/>
<line x1="387.90" y1="368.50" x2="389.90" y2="368.50" stroke="#666" stroke-width="0.8"/>
<text x="384.00" y="368.80" font-size="6.1" font-weight="normal" text-anchor="end" fill="#1a1a1a" stroke="#1a1a1a" stroke-width="0.18">2.5</text>
<line x1="387.90" y1="385.60" x2="389.90" y2="385.60" stroke="#666" stroke-width="0.8"/>
<text x="384.00" y="384.70" font-size="6.1" font-weight="normal" text-anchor="end" fill="#1a1a1a" stroke="#1a1a1a" stroke-width="0.18">2</text>
<line x1="387.90" y1="402.60" x2="389.90" y2="402.60" stroke="#666" stroke-width="0.8"/>
<text x="384.00" y="401.50" font-size="6.1" font-weight="normal" text-anchor="end" fill="#1a1a1a" stroke="#1a1a1a" stroke-width="0.18">1.5</text>
<line x1="387.90" y1="420.50" x2="389.90" y2="420.50" stroke="#666" stroke-width="0.8"/>
<text x="384.00" y="419.60" font-size="6.1" font-weight="normal" text-anchor="end" fill="#1a1a1a" stroke="#1a1a1a" stroke-width="0.18">1</text>
<line x1="387.90" y1="437.50" x2="389.90" y2="437.50" stroke="#666" stroke-width="0.8"/>
<text x="384.00" y="436.40" font-size="6.1" font-weight="normal" text-anchor="end" fill="#1a1a1a" stroke="#1a1a1a" stroke-width="0.18">0.5</text>
<line x1="387.90" y1="454.70" x2="389.90" y2="454.70" stroke="#666" stroke-width="0.8"/>
<text x="384.00" y="452.60" font-size="6.1" font-weight="normal" text-anchor="end" fill="#1a1a1a" stroke="#1a1a1a" stroke-width="0.18">0</text>
<rect x="401.00" y="423.20" width="14.90" height="31.50" fill="#1e1e1e" stroke="#1a1a1a" stroke-width="0.8"/>
<rect x="415.90" y="420.30" width="15.20" height="34.40" fill="#3a3a3a" stroke="#1a1a1a" stroke-width="0.8"/>
<rect x="431.10" y="420.30" width="14.10" height="34.40" fill="#585858" stroke="#1a1a1a" stroke-width="0.8"/>
<rect x="445.20" y="405.10" width="14.90" height="49.60" fill="#959595" stroke="#1a1a1a" stroke-width="0.8"/>
<rect x="460.10" y="395.30" width="15.80" height="59.40" fill="#dfdfdf" stroke="#1a1a1a" stroke-width="0.8"/>
<line x1="390.00" y1="454.70" x2="485.90" y2="454.70" stroke="#444" stroke-width="0.9"/>
<line x1="408.70" y1="408.90" x2="408.70" y2="437.50" stroke="#222" stroke-width="0.8"/>
<line x1="407.10" y1="408.90" x2="410.30" y2="408.90" stroke="#222" stroke-width="0.8"/>
<line x1="407.10" y1="437.50" x2="410.30" y2="437.50" stroke="#222" stroke-width="0.8"/>
<line x1="423.90" y1="400.30" x2="423.90" y2="439.00" stroke="#222" stroke-width="0.8"/>
<line x1="422.30" y1="400.30" x2="425.50" y2="400.30" stroke="#222" stroke-width="0.8"/>
<line x1="422.30" y1="439.00" x2="425.50" y2="439.00" stroke="#222" stroke-width="0.8"/>
<line x1="438.40" y1="411.00" x2="438.40" y2="428.90" stroke="#222" stroke-width="0.8"/>
<line x1="436.80" y1="411.00" x2="440.00" y2="411.00" stroke="#222" stroke-width="0.8"/>
<line x1="436.80" y1="428.90" x2="440.00" y2="428.90" stroke="#222" stroke-width="0.8"/>
<line x1="452.90" y1="393.10" x2="452.90" y2="416.00" stroke="#222" stroke-width="0.8"/>
<line x1="451.30" y1="393.10" x2="454.50" y2="393.10" stroke="#222" stroke-width="0.8"/>
<line x1="451.30" y1="416.00" x2="454.50" y2="416.00" stroke="#222" stroke-width="0.8"/>
<line x1="467.80" y1="373.00" x2="467.80" y2="417.40" stroke="#222" stroke-width="0.8"/>
<line x1="466.20" y1="373.00" x2="469.40" y2="373.00" stroke="#222" stroke-width="0.8"/>
<line x1="466.20" y1="417.40" x2="469.40" y2="417.40" stroke="#222" stroke-width="0.8"/>
<line x1="424.50" y1="357.00" x2="463.80" y2="357.00" stroke="#888" stroke-width="0.8"/>
<line x1="424.50" y1="357.00" x2="424.50" y2="390.20" stroke="#888" stroke-width="0.8"/>
<line x1="463.80" y1="357.00" x2="463.80" y2="361.30" stroke="#888" stroke-width="0.8"/>
<polyline points="410.10,394.50 410.10,390.20 439.70,390.20 439.70,394.50" fill="none" stroke="#888" stroke-width="0.8"/>
<polyline points="457.20,366.70 457.20,361.30 469.60,361.30 469.60,366.70" fill="none" stroke="#888" stroke-width="0.8"/>
<text x="443.20" y="352.44" font-size="6.3" font-weight="normal" text-anchor="middle" fill="#888" >ns</text>
<rect x="491.00" y="387.00" width="3.60" height="3.60" fill="#111" stroke="#222" stroke-width="0.7"/>
<text x="501.70" y="391.10" font-size="6.4" font-weight="bold" text-anchor="start" fill="#111"  stroke="#111" stroke-width="0.12">C1</text>
<rect x="491.00" y="396.40" width="3.60" height="3.60" fill="#2a2a2a" stroke="#222" stroke-width="0.7"/>
<text x="501.70" y="400.50" font-size="6.4" font-weight="bold" text-anchor="start" fill="#111"  stroke="#111" stroke-width="0.12">C2</text>
<rect x="491.00" y="405.60" width="3.60" height="3.60" fill="#585858" stroke="#222" stroke-width="0.7"/>
<text x="501.70" y="409.70" font-size="6.4" font-weight="bold" text-anchor="start" fill="#111"  stroke="#111" stroke-width="0.12">C3</text>
<rect x="491.00" y="415.00" width="3.60" height="3.60" fill="#959595" stroke="#222" stroke-width="0.7"/>
<text x="501.70" y="419.10" font-size="6.4" font-weight="bold" text-anchor="start" fill="#111"  stroke="#111" stroke-width="0.12">D(b)</text>
<rect x="491.00" y="424.20" width="3.60" height="3.60" fill="#fff" stroke="#222" stroke-width="0.7"/>
<text x="501.70" y="428.30" font-size="6.4" font-weight="bold" text-anchor="start" fill="#111"  stroke="#111" stroke-width="0.12">D(a)</text>
<text x="441.00" y="465.46" font-size="6.0" font-weight="bold" text-anchor="middle" fill="#111"  stroke="#111" stroke-width="0.12">NR4A3</text>
</svg></body></html>
